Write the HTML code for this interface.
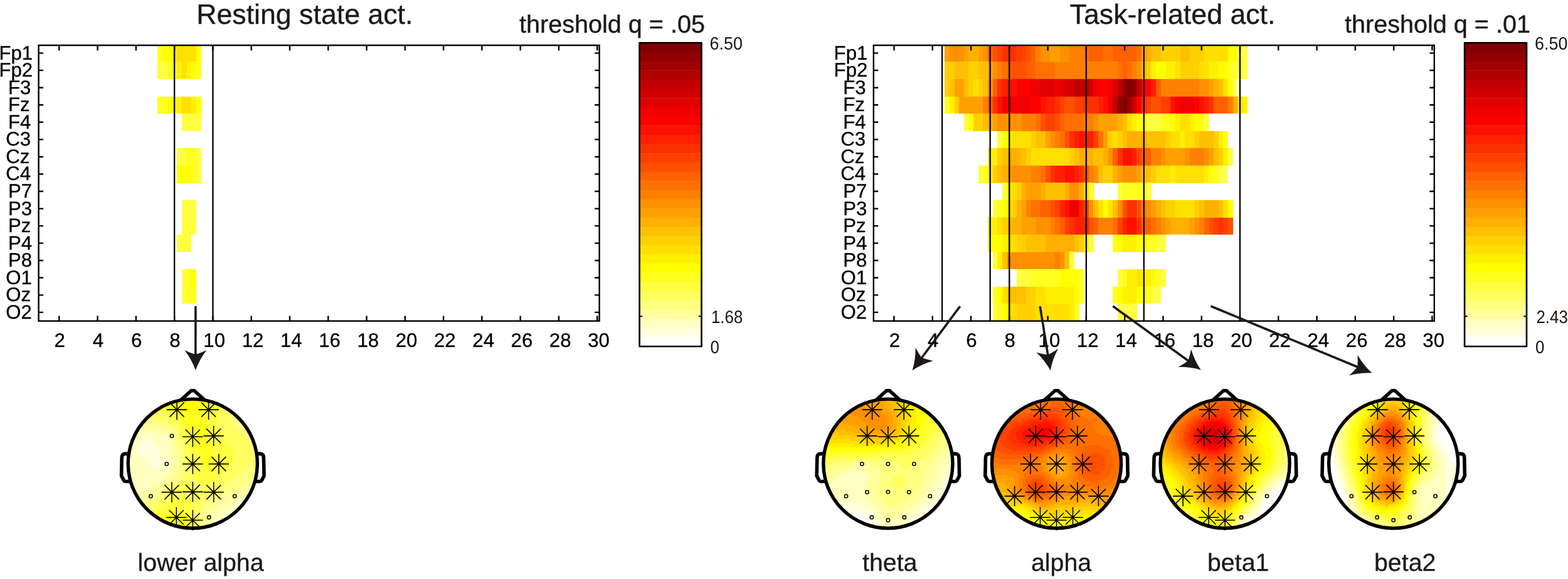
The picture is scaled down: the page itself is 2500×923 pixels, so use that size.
<!DOCTYPE html>
<html lang="en"><head><meta charset="utf-8"><title>Resting state and task-related activity</title>
<style>html,body{margin:0;padding:0;background:#fff}body{width:2500px;height:923px;overflow:hidden}svg{display:block;font-family:"Liberation Sans",sans-serif;text-rendering:geometricPrecision}</style></head><body>
<svg width="2500" height="923" viewBox="0 0 2500 923">
<rect width="2500" height="923" fill="#fff"/>
<g id="left-plot">
<g shape-rendering="crispEdges">
<path fill="#ffe000" d="M281.95 70.85h30.94v27.85h-30.94zM289.61 98.4h7.96v27.85h-7.96zM289.61 153.5h15.62v27.85h-15.62z"/>
<path fill="#fff000" d="M274.29 70.85h7.96v27.85h-7.96zM281.95 98.4h7.96v27.85h-7.96zM297.27 98.4h7.96v27.85h-7.96zM281.95 153.5h7.96v27.85h-7.96zM304.93 153.5h7.96v27.85h-7.96z"/>
<path fill="#ffff00" d="M258.97 70.85h15.62v27.85h-15.62zM312.59 70.85h7.96v27.85h-7.96zM304.93 98.4h7.96v27.85h-7.96zM266.63 153.5h15.62v27.85h-15.62zM312.59 153.5h7.96v27.85h-7.96zM281.95 263.7h23.28v27.85h-23.28zM304.93 429h7.96v27.85h-7.96z"/>
<path fill="#ffff20" d="M251.31 70.85h7.96v27.85h-7.96zM266.63 98.4h15.62v27.85h-15.62zM312.59 98.4h7.96v27.85h-7.96zM251.31 153.5h15.62v27.85h-15.62zM297.27 236.15h15.62v27.85h-15.62zM304.93 263.7h7.96v27.85h-7.96zM297.27 429h7.96v27.85h-7.96zM297.27 456.55h15.62v27.85h-15.62z"/>
<path fill="#ffff40" d="M251.31 98.4h15.62v27.85h-15.62zM289.61 181.05h30.94v27.85h-30.94zM281.95 236.15h15.62v27.85h-15.62zM312.59 236.15h7.96v27.85h-7.96zM312.59 263.7h7.96v27.85h-7.96zM289.61 318.8h23.28v27.85h-23.28zM289.61 346.35h23.28v27.85h-23.28zM281.95 373.9h23.28v27.85h-23.28zM289.61 429h7.96v27.85h-7.96zM289.61 456.55h7.96v27.85h-7.96z"/>
</g>
<path d="M278.12 72.2V511.7M339.4 72.2V511.7" stroke="#000" stroke-width="2.3" fill="none"/>
<path d="M94.28 511.7v-8.3M94.28 72.2v8.3M155.56 511.7v-8.3M155.56 72.2v8.3M216.84 511.7v-8.3M216.84 72.2v8.3M278.12 511.7v-8.3M278.12 72.2v8.3M339.4 511.7v-8.3M339.4 72.2v8.3M400.68 511.7v-8.3M400.68 72.2v8.3M461.96 511.7v-8.3M461.96 72.2v8.3M523.24 511.7v-8.3M523.24 72.2v8.3M584.52 511.7v-8.3M584.52 72.2v8.3M645.8 511.7v-8.3M645.8 72.2v8.3M707.08 511.7v-8.3M707.08 72.2v8.3M768.36 511.7v-8.3M768.36 72.2v8.3M829.64 511.7v-8.3M829.64 72.2v8.3M890.92 511.7v-8.3M890.92 72.2v8.3M952.2 511.7v-8.3M952.2 72.2v8.3M61.6 84.62h7.4M955.6 84.62h-7.4M61.6 112.17h7.4M955.6 112.17h-7.4M61.6 139.72h7.4M955.6 139.72h-7.4M61.6 167.27h7.4M955.6 167.27h-7.4M61.6 194.82h7.4M955.6 194.82h-7.4M61.6 222.38h7.4M955.6 222.38h-7.4M61.6 249.93h7.4M955.6 249.93h-7.4M61.6 277.48h7.4M955.6 277.48h-7.4M61.6 305.02h7.4M955.6 305.02h-7.4M61.6 332.58h7.4M955.6 332.58h-7.4M61.6 360.12h7.4M955.6 360.12h-7.4M61.6 387.67h7.4M955.6 387.67h-7.4M61.6 415.23h7.4M955.6 415.23h-7.4M61.6 442.77h7.4M955.6 442.77h-7.4M61.6 470.33h7.4M955.6 470.33h-7.4M61.6 497.88h7.4M955.6 497.88h-7.4" stroke="#000" stroke-width="2.4" fill="none"/>
<rect x="61.6" y="72.2" width="894" height="439.5" fill="none" stroke="#000" stroke-width="2.4"/>
<g font-size="31.2" fill="#000" stroke="#000" stroke-width="0.3"><text x="-1.61" y="94.62">Fp1</text><text x="-1.61" y="122.17">Fp2</text><text x="12.94" y="149.72">F3</text><text x="12.94" y="177.27">Fz</text><text x="12.94" y="204.82">F4</text><text x="9.14" y="232.38">C3</text><text x="9.14" y="259.93">Cz</text><text x="9.14" y="287.48">C4</text><text x="13" y="315.02">P7</text><text x="13" y="342.58">P3</text><text x="13" y="370.12">Pz</text><text x="13" y="397.67">P4</text><text x="13" y="425.23">P8</text><text x="9.25" y="452.77">O1</text><text x="9.25" y="480.33">Oz</text><text x="9.25" y="507.88">O2</text></g>
<g font-size="31.2" text-anchor="middle" fill="#000" stroke="#000" stroke-width="0.3"><text x="95.18" y="553.4">2</text><text x="156.46" y="553.4">4</text><text x="217.74" y="553.4">6</text><text x="279.02" y="553.4">8</text><text x="341.7" y="553.4">10</text><text x="402.98" y="553.4">12</text><text x="464.26" y="553.4">14</text><text x="525.54" y="553.4">16</text><text x="586.82" y="553.4">18</text><text x="648.1" y="553.4">20</text><text x="709.38" y="553.4">22</text><text x="770.66" y="553.4">24</text><text x="831.94" y="553.4">26</text><text x="893.22" y="553.4">28</text><text x="954.5" y="553.4">30</text></g>
</g>
<g id="right-plot">
<g shape-rendering="crispEdges">
<path fill="#800000" d="M1796.99 125.95h7.96v27.85h-7.96zM1789.33 153.5h7.96v27.85h-7.96z"/>
<path fill="#900000" d="M1789.33 125.95h7.96v27.85h-7.96zM1804.65 125.95h7.96v27.85h-7.96zM1781.67 153.5h7.96v27.85h-7.96z"/>
<path fill="#a00000" d="M1796.99 153.5h7.96v27.85h-7.96z"/>
<path fill="#c00000" d="M1712.73 125.95h23.28v27.85h-23.28zM1781.67 125.95h7.96v27.85h-7.96zM1812.31 125.95h7.96v27.85h-7.96zM1774.01 153.5h7.96v27.85h-7.96z"/>
<path fill="#d00000" d="M1705.07 125.95h7.96v27.85h-7.96zM1735.71 125.95h7.96v27.85h-7.96zM1804.65 153.5h7.96v27.85h-7.96z"/>
<path fill="#e00000" d="M1659.11 125.95h23.28v27.85h-23.28zM1689.75 125.95h15.62v27.85h-15.62zM1774.01 125.95h7.96v27.85h-7.96z"/>
<path fill="#f00000" d="M1643.79 125.95h15.62v27.85h-15.62zM1682.09 125.95h7.96v27.85h-7.96zM1743.37 125.95h7.96v27.85h-7.96zM1766.35 125.95h7.96v27.85h-7.96zM1597.83 153.5h46.26v27.85h-46.26zM1766.35 153.5h7.96v27.85h-7.96zM1881.25 153.5h23.28v27.85h-23.28zM1705.07 318.8h15.62v27.85h-15.62z"/>
<path fill="#ff0000" d="M1620.81 125.95h23.28v27.85h-23.28zM1751.03 125.95h15.62v27.85h-15.62zM1819.97 125.95h15.62v27.85h-15.62zM1643.79 153.5h15.62v27.85h-15.62zM1812.31 153.5h7.96v27.85h-7.96zM1873.59 153.5h7.96v27.85h-7.96zM1904.23 153.5h7.96v27.85h-7.96z"/>
<path fill="#ff1000" d="M1605.49 125.95h15.62v27.85h-15.62zM1590.17 153.5h7.96v27.85h-7.96zM1659.11 153.5h7.96v27.85h-7.96zM1758.69 153.5h7.96v27.85h-7.96zM1865.93 153.5h7.96v27.85h-7.96zM1911.89 153.5h7.96v27.85h-7.96zM1720.39 208.6h7.96v27.85h-7.96zM1789.33 236.15h15.62v27.85h-15.62zM1697.41 263.7h15.62v27.85h-15.62zM1697.41 318.8h7.96v27.85h-7.96zM1796.99 346.35h15.62v27.85h-15.62z"/>
<path fill="#ff2000" d="M1597.83 125.95h7.96v27.85h-7.96zM1835.29 125.95h7.96v27.85h-7.96zM1666.77 153.5h15.62v27.85h-15.62zM1751.03 153.5h7.96v27.85h-7.96zM1919.55 153.5h7.96v27.85h-7.96zM1712.73 208.6h7.96v27.85h-7.96zM1728.05 208.6h15.62v27.85h-15.62zM1804.65 236.15h7.96v27.85h-7.96zM1682.09 263.7h15.62v27.85h-15.62zM1712.73 263.7h7.96v27.85h-7.96zM1689.75 318.8h7.96v27.85h-7.96zM1720.39 318.8h7.96v27.85h-7.96zM1712.73 346.35h23.28v27.85h-23.28zM1789.33 346.35h7.96v27.85h-7.96z"/>
<path fill="#ff3000" d="M1597.83 70.85h23.28v27.85h-23.28zM1590.17 125.95h7.96v27.85h-7.96zM1582.51 153.5h7.96v27.85h-7.96zM1682.09 153.5h7.96v27.85h-7.96zM1728.05 153.5h23.28v27.85h-23.28zM1819.97 153.5h7.96v27.85h-7.96zM1927.21 153.5h7.96v27.85h-7.96zM1705.07 208.6h7.96v27.85h-7.96zM1781.67 236.15h7.96v27.85h-7.96zM1674.43 263.7h7.96v27.85h-7.96zM1720.39 263.7h7.96v27.85h-7.96zM1796.99 318.8h15.62v27.85h-15.62zM1705.07 346.35h7.96v27.85h-7.96zM1812.31 346.35h7.96v27.85h-7.96zM1942.53 346.35h7.96v27.85h-7.96z"/>
<path fill="#ff4000" d="M1590.17 70.85h7.96v27.85h-7.96zM1620.81 70.85h15.62v27.85h-15.62zM1689.75 153.5h7.96v27.85h-7.96zM1712.73 153.5h15.62v27.85h-15.62zM1827.63 153.5h7.96v27.85h-7.96zM1850.61 153.5h15.62v27.85h-15.62zM1666.77 181.05h15.62v27.85h-15.62zM1743.37 208.6h7.96v27.85h-7.96zM1812.31 236.15h7.96v27.85h-7.96zM1682.09 318.8h7.96v27.85h-7.96zM1728.05 318.8h7.96v27.85h-7.96zM1697.41 346.35h7.96v27.85h-7.96zM1781.67 346.35h7.96v27.85h-7.96zM1934.87 346.35h7.96v27.85h-7.96zM1950.19 346.35h7.96v27.85h-7.96z"/>
<path fill="#ff5000" d="M1582.51 70.85h7.96v27.85h-7.96zM1636.13 70.85h7.96v27.85h-7.96zM1613.15 98.4h23.28v27.85h-23.28zM1697.41 153.5h15.62v27.85h-15.62zM1835.29 153.5h15.62v27.85h-15.62zM1659.11 181.05h7.96v27.85h-7.96zM1682.09 181.05h7.96v27.85h-7.96zM1697.41 208.6h7.96v27.85h-7.96zM1666.77 263.7h7.96v27.85h-7.96zM1728.05 263.7h7.96v27.85h-7.96zM1674.43 318.8h7.96v27.85h-7.96zM1789.33 318.8h7.96v27.85h-7.96zM1812.31 318.8h7.96v27.85h-7.96zM1735.71 346.35h7.96v27.85h-7.96zM1927.21 346.35h7.96v27.85h-7.96zM1957.85 346.35h7.96v27.85h-7.96z"/>
<path fill="#ff6000" d="M1574.85 70.85h7.96v27.85h-7.96zM1643.79 70.85h7.96v27.85h-7.96zM1735.71 70.85h23.28v27.85h-23.28zM1774.01 70.85h38.6v27.85h-38.6zM1605.49 98.4h7.96v27.85h-7.96zM1636.13 98.4h15.62v27.85h-15.62zM1789.33 98.4h7.96v27.85h-7.96zM1582.51 125.95h7.96v27.85h-7.96zM1842.95 125.95h7.96v27.85h-7.96zM1574.85 153.5h7.96v27.85h-7.96zM1934.87 153.5h23.28v27.85h-23.28zM1689.75 181.05h7.96v27.85h-7.96zM1774.01 236.15h7.96v27.85h-7.96zM1819.97 236.15h15.62v27.85h-15.62zM1659.11 318.8h15.62v27.85h-15.62zM1689.75 346.35h7.96v27.85h-7.96zM1743.37 346.35h7.96v27.85h-7.96zM1819.97 346.35h15.62v27.85h-15.62zM1919.55 346.35h7.96v27.85h-7.96z"/>
<path fill="#ff7000" d="M1728.05 70.85h7.96v27.85h-7.96zM1758.69 70.85h15.62v27.85h-15.62zM1812.31 70.85h7.96v27.85h-7.96zM1597.83 98.4h7.96v27.85h-7.96zM1651.45 98.4h30.94v27.85h-30.94zM1781.67 98.4h7.96v27.85h-7.96zM1796.99 98.4h7.96v27.85h-7.96zM1651.45 181.05h7.96v27.85h-7.96zM1697.41 181.05h30.94v27.85h-30.94zM1689.75 208.6h7.96v27.85h-7.96zM1751.03 208.6h7.96v27.85h-7.96zM1659.11 263.7h7.96v27.85h-7.96zM1643.79 318.8h15.62v27.85h-15.62zM1682.09 346.35h7.96v27.85h-7.96zM1774.01 346.35h7.96v27.85h-7.96zM1835.29 346.35h7.96v27.85h-7.96z"/>
<path fill="#ff8000" d="M1651.45 70.85h7.96v27.85h-7.96zM1705.07 70.85h23.28v27.85h-23.28zM1590.17 98.4h7.96v27.85h-7.96zM1682.09 98.4h99.88v27.85h-99.88zM1804.65 98.4h7.96v27.85h-7.96zM1850.61 125.95h61.58v27.85h-61.58zM1567.19 153.5h7.96v27.85h-7.96zM1957.85 153.5h7.96v27.85h-7.96zM1628.47 181.05h23.28v27.85h-23.28zM1728.05 181.05h15.62v27.85h-15.62zM1682.09 208.6h7.96v27.85h-7.96zM1835.29 236.15h15.62v27.85h-15.62zM1896.57 236.15h23.28v27.85h-23.28zM1643.79 263.7h15.62v27.85h-15.62zM1735.71 263.7h7.96v27.85h-7.96zM1636.13 318.8h7.96v27.85h-7.96zM1819.97 318.8h7.96v27.85h-7.96zM1674.43 346.35h7.96v27.85h-7.96zM1751.03 346.35h23.28v27.85h-23.28zM1842.95 346.35h7.96v27.85h-7.96zM1911.89 346.35h7.96v27.85h-7.96zM1682.09 401.45h7.96v27.85h-7.96z"/>
<path fill="#ff9000" d="M1513.57 70.85h23.28v27.85h-23.28zM1567.19 70.85h7.96v27.85h-7.96zM1659.11 70.85h15.62v27.85h-15.62zM1689.75 70.85h15.62v27.85h-15.62zM1582.51 98.4h7.96v27.85h-7.96zM1812.31 98.4h7.96v27.85h-7.96zM1574.85 125.95h7.96v27.85h-7.96zM1911.89 125.95h15.62v27.85h-15.62zM1590.17 181.05h38.6v27.85h-38.6zM1743.37 181.05h7.96v27.85h-7.96zM1674.43 208.6h7.96v27.85h-7.96zM1766.35 236.15h7.96v27.85h-7.96zM1850.61 236.15h7.96v27.85h-7.96zM1888.91 236.15h7.96v27.85h-7.96zM1919.55 236.15h7.96v27.85h-7.96zM1613.15 263.7h30.94v27.85h-30.94zM1743.37 263.7h7.96v27.85h-7.96zM1789.33 263.7h23.28v27.85h-23.28zM1705.07 291.25h15.62v27.85h-15.62zM1735.71 318.8h7.96v27.85h-7.96zM1781.67 318.8h7.96v27.85h-7.96zM1827.63 318.8h7.96v27.85h-7.96zM1651.45 346.35h23.28v27.85h-23.28zM1850.61 346.35h7.96v27.85h-7.96zM1904.23 346.35h7.96v27.85h-7.96zM1605.49 401.45h76.9v27.85h-76.9zM1689.75 401.45h7.96v27.85h-7.96z"/>
<path fill="#ffa000" d="M1505.91 70.85h7.96v27.85h-7.96zM1536.55 70.85h7.96v27.85h-7.96zM1559.53 70.85h7.96v27.85h-7.96zM1674.43 70.85h15.62v27.85h-15.62zM1819.97 70.85h7.96v27.85h-7.96zM1574.85 98.4h7.96v27.85h-7.96zM1521.23 125.95h15.62v27.85h-15.62zM1927.21 125.95h7.96v27.85h-7.96zM1528.89 153.5h38.6v27.85h-38.6zM1582.51 181.05h7.96v27.85h-7.96zM1751.03 181.05h30.94v27.85h-30.94zM1666.77 208.6h7.96v27.85h-7.96zM1758.69 208.6h7.96v27.85h-7.96zM1858.27 236.15h30.94v27.85h-30.94zM1927.21 236.15h7.96v27.85h-7.96zM1605.49 263.7h7.96v27.85h-7.96zM1781.67 263.7h7.96v27.85h-7.96zM1812.31 263.7h7.96v27.85h-7.96zM1636.13 291.25h23.28v27.85h-23.28zM1628.47 318.8h7.96v27.85h-7.96zM1835.29 318.8h7.96v27.85h-7.96zM1628.47 346.35h23.28v27.85h-23.28zM1858.27 346.35h7.96v27.85h-7.96zM1896.57 346.35h7.96v27.85h-7.96z"/>
<path fill="#ffb000" d="M1544.21 70.85h15.62v27.85h-15.62zM1827.63 70.85h7.96v27.85h-7.96zM1934.87 125.95h7.96v27.85h-7.96zM1965.51 153.5h7.96v27.85h-7.96zM1574.85 181.05h7.96v27.85h-7.96zM1781.67 181.05h7.96v27.85h-7.96zM1796.99 208.6h30.94v27.85h-30.94zM1605.49 236.15h23.28v27.85h-23.28zM1720.39 236.15h23.28v27.85h-23.28zM1758.69 236.15h7.96v27.85h-7.96zM1597.83 263.7h7.96v27.85h-7.96zM1774.01 263.7h7.96v27.85h-7.96zM1628.47 291.25h7.96v27.85h-7.96zM1659.11 291.25h7.96v27.85h-7.96zM1697.41 291.25h7.96v27.85h-7.96zM1720.39 291.25h7.96v27.85h-7.96zM1620.81 318.8h7.96v27.85h-7.96zM1842.95 318.8h7.96v27.85h-7.96zM1919.55 318.8h23.28v27.85h-23.28zM1613.15 346.35h15.62v27.85h-15.62zM1865.93 346.35h30.94v27.85h-30.94zM1666.77 373.9h46.26v27.85h-46.26z"/>
<path fill="#ffc000" d="M1835.29 70.85h15.62v27.85h-15.62zM1881.25 70.85h15.62v27.85h-15.62zM1521.23 98.4h23.28v27.85h-23.28zM1559.53 98.4h15.62v27.85h-15.62zM1819.97 98.4h7.96v27.85h-7.96zM1513.57 125.95h7.96v27.85h-7.96zM1536.55 125.95h7.96v27.85h-7.96zM1567.19 125.95h7.96v27.85h-7.96zM1942.53 125.95h7.96v27.85h-7.96zM1567.19 181.05h7.96v27.85h-7.96zM1789.33 181.05h7.96v27.85h-7.96zM1651.45 208.6h15.62v27.85h-15.62zM1789.33 208.6h7.96v27.85h-7.96zM1827.63 208.6h30.94v27.85h-30.94zM1911.89 208.6h23.28v27.85h-23.28zM1597.83 236.15h7.96v27.85h-7.96zM1628.47 236.15h7.96v27.85h-7.96zM1712.73 236.15h7.96v27.85h-7.96zM1743.37 236.15h15.62v27.85h-15.62zM1934.87 236.15h7.96v27.85h-7.96zM1590.17 263.7h7.96v27.85h-7.96zM1751.03 263.7h7.96v27.85h-7.96zM1819.97 263.7h15.62v27.85h-15.62zM1666.77 291.25h30.94v27.85h-30.94zM1743.37 318.8h7.96v27.85h-7.96zM1774.01 318.8h7.96v27.85h-7.96zM1850.61 318.8h7.96v27.85h-7.96zM1911.89 318.8h7.96v27.85h-7.96zM1942.53 318.8h7.96v27.85h-7.96zM1605.49 346.35h7.96v27.85h-7.96zM1636.13 373.9h30.94v27.85h-30.94zM1712.73 373.9h7.96v27.85h-7.96zM1597.83 401.45h7.96v27.85h-7.96zM1697.41 401.45h7.96v27.85h-7.96zM1605.49 456.55h30.94v27.85h-30.94z"/>
<path fill="#ffd000" d="M1850.61 70.85h30.94v27.85h-30.94zM1896.57 70.85h23.28v27.85h-23.28zM1505.91 98.4h15.62v27.85h-15.62zM1544.21 98.4h15.62v27.85h-15.62zM1827.63 98.4h7.96v27.85h-7.96zM1881.25 98.4h30.94v27.85h-30.94zM1505.91 125.95h7.96v27.85h-7.96zM1544.21 125.95h7.96v27.85h-7.96zM1559.53 125.95h7.96v27.85h-7.96zM1521.23 153.5h7.96v27.85h-7.96zM1551.87 181.05h15.62v27.85h-15.62zM1643.79 208.6h7.96v27.85h-7.96zM1766.35 208.6h7.96v27.85h-7.96zM1781.67 208.6h7.96v27.85h-7.96zM1858.27 208.6h7.96v27.85h-7.96zM1904.23 208.6h7.96v27.85h-7.96zM1934.87 208.6h7.96v27.85h-7.96zM1590.17 236.15h7.96v27.85h-7.96zM1636.13 236.15h7.96v27.85h-7.96zM1705.07 236.15h7.96v27.85h-7.96zM1942.53 236.15h7.96v27.85h-7.96zM1582.51 263.7h7.96v27.85h-7.96zM1758.69 263.7h15.62v27.85h-15.62zM1835.29 263.7h7.96v27.85h-7.96zM1620.81 291.25h7.96v27.85h-7.96zM1613.15 318.8h7.96v27.85h-7.96zM1858.27 318.8h15.62v27.85h-15.62zM1904.23 318.8h7.96v27.85h-7.96zM1597.83 346.35h7.96v27.85h-7.96zM1620.81 373.9h15.62v27.85h-15.62zM1720.39 373.9h7.96v27.85h-7.96zM1636.13 456.55h15.62v27.85h-15.62zM1620.81 484.1h30.94v27.85h-30.94z"/>
<path fill="#ffe000" d="M1919.55 70.85h38.6v27.85h-38.6zM1873.59 98.4h7.96v27.85h-7.96zM1911.89 98.4h15.62v27.85h-15.62zM1551.87 125.95h7.96v27.85h-7.96zM1950.19 125.95h7.96v27.85h-7.96zM1973.17 153.5h7.96v27.85h-7.96zM1796.99 181.05h7.96v27.85h-7.96zM1881.25 181.05h15.62v27.85h-15.62zM1613.15 208.6h30.94v27.85h-30.94zM1774.01 208.6h7.96v27.85h-7.96zM1865.93 208.6h15.62v27.85h-15.62zM1888.91 208.6h15.62v27.85h-15.62zM1643.79 236.15h61.58v27.85h-61.58zM1842.95 263.7h23.28v27.85h-23.28zM1873.59 263.7h46.26v27.85h-46.26zM1613.15 291.25h7.96v27.85h-7.96zM1728.05 291.25h7.96v27.85h-7.96zM1605.49 318.8h7.96v27.85h-7.96zM1751.03 318.8h7.96v27.85h-7.96zM1766.35 318.8h7.96v27.85h-7.96zM1873.59 318.8h30.94v27.85h-30.94zM1950.19 318.8h7.96v27.85h-7.96zM1590.17 346.35h7.96v27.85h-7.96zM1605.49 373.9h15.62v27.85h-15.62zM1812.31 429h7.96v27.85h-7.96zM1597.83 456.55h7.96v27.85h-7.96zM1651.45 456.55h15.62v27.85h-15.62zM1605.49 484.1h15.62v27.85h-15.62zM1651.45 484.1h53.92v27.85h-53.92z"/>
<path fill="#fff000" d="M1835.29 98.4h7.96v27.85h-7.96zM1858.27 98.4h15.62v27.85h-15.62zM1927.21 98.4h15.62v27.85h-15.62zM1513.57 153.5h7.96v27.85h-7.96zM1980.83 153.5h7.96v27.85h-7.96zM1804.65 181.05h7.96v27.85h-7.96zM1873.59 181.05h7.96v27.85h-7.96zM1896.57 181.05h7.96v27.85h-7.96zM1605.49 208.6h7.96v27.85h-7.96zM1881.25 208.6h7.96v27.85h-7.96zM1942.53 208.6h7.96v27.85h-7.96zM1574.85 236.15h15.62v27.85h-15.62zM1950.19 236.15h7.96v27.85h-7.96zM1574.85 263.7h7.96v27.85h-7.96zM1865.93 263.7h7.96v27.85h-7.96zM1919.55 263.7h7.96v27.85h-7.96zM1605.49 291.25h7.96v27.85h-7.96zM1574.85 346.35h15.62v27.85h-15.62zM1597.83 373.9h7.96v27.85h-7.96zM1728.05 373.9h7.96v27.85h-7.96zM1789.33 373.9h23.28v27.85h-23.28zM1590.17 401.45h7.96v27.85h-7.96zM1796.99 429h15.62v27.85h-15.62zM1819.97 429h15.62v27.85h-15.62zM1666.77 456.55h46.26v27.85h-46.26zM1789.33 456.55h23.28v27.85h-23.28zM1705.07 484.1h7.96v27.85h-7.96z"/>
<path fill="#ffff00" d="M1957.85 70.85h15.62v27.85h-15.62zM1842.95 98.4h15.62v27.85h-15.62zM1942.53 98.4h15.62v27.85h-15.62zM1957.85 125.95h7.96v27.85h-7.96zM1544.21 181.05h7.96v27.85h-7.96zM1812.31 181.05h7.96v27.85h-7.96zM1865.93 181.05h7.96v27.85h-7.96zM1904.23 181.05h15.62v27.85h-15.62zM1597.83 208.6h7.96v27.85h-7.96zM1927.21 263.7h7.96v27.85h-7.96zM1597.83 318.8h7.96v27.85h-7.96zM1758.69 318.8h7.96v27.85h-7.96zM1957.85 318.8h7.96v27.85h-7.96zM1574.85 373.9h23.28v27.85h-23.28zM1781.67 373.9h7.96v27.85h-7.96zM1812.31 373.9h15.62v27.85h-15.62zM1689.75 429h30.94v27.85h-30.94zM1835.29 429h7.96v27.85h-7.96zM1590.17 456.55h7.96v27.85h-7.96zM1712.73 456.55h7.96v27.85h-7.96zM1781.67 456.55h7.96v27.85h-7.96zM1812.31 456.55h15.62v27.85h-15.62zM1597.83 484.1h7.96v27.85h-7.96z"/>
<path fill="#ffff20" d="M1957.85 98.4h7.96v27.85h-7.96zM1505.91 153.5h7.96v27.85h-7.96zM1819.97 181.05h7.96v27.85h-7.96zM1850.61 181.05h15.62v27.85h-15.62zM1950.19 208.6h7.96v27.85h-7.96zM1567.19 263.7h7.96v27.85h-7.96zM1934.87 263.7h7.96v27.85h-7.96zM1735.71 291.25h7.96v27.85h-7.96zM1789.33 291.25h38.6v27.85h-38.6zM1590.17 318.8h7.96v27.85h-7.96zM1774.01 373.9h7.96v27.85h-7.96zM1827.63 373.9h15.62v27.85h-15.62zM1643.79 429h46.26v27.85h-46.26zM1720.39 429h7.96v27.85h-7.96zM1789.33 429h7.96v27.85h-7.96zM1842.95 429h7.96v27.85h-7.96zM1582.51 456.55h7.96v27.85h-7.96zM1720.39 456.55h7.96v27.85h-7.96zM1774.01 456.55h7.96v27.85h-7.96zM1827.63 456.55h7.96v27.85h-7.96zM1590.17 484.1h7.96v27.85h-7.96zM1712.73 484.1h7.96v27.85h-7.96z"/>
<path fill="#ffff40" d="M1973.17 70.85h15.62v27.85h-15.62zM1965.51 98.4h23.28v27.85h-23.28zM1536.55 181.05h7.96v27.85h-7.96zM1827.63 181.05h23.28v27.85h-23.28zM1919.55 181.05h7.96v27.85h-7.96zM1590.17 208.6h7.96v27.85h-7.96zM1957.85 236.15h7.96v27.85h-7.96zM1559.53 263.7h7.96v27.85h-7.96zM1942.53 263.7h7.96v27.85h-7.96zM1597.83 291.25h7.96v27.85h-7.96zM1781.67 291.25h7.96v27.85h-7.96zM1827.63 291.25h7.96v27.85h-7.96zM1582.51 318.8h7.96v27.85h-7.96zM1735.71 373.9h7.96v27.85h-7.96zM1842.95 373.9h15.62v27.85h-15.62zM1582.51 401.45h7.96v27.85h-7.96zM1705.07 401.45h7.96v27.85h-7.96zM1620.81 429h23.28v27.85h-23.28zM1781.67 429h7.96v27.85h-7.96zM1850.61 429h7.96v27.85h-7.96zM1835.29 456.55h15.62v27.85h-15.62zM1582.51 484.1h7.96v27.85h-7.96zM1781.67 484.1h30.94v27.85h-30.94z"/>
<path fill="#ffff60" d="M1965.51 125.95h7.96v27.85h-7.96zM1950.19 263.7h7.96v27.85h-7.96z"/>
</g>
<path d="M1502.08 72.2V511.7M1578.68 72.2V511.7M1609.32 72.2V511.7M1731.88 72.2V511.7M1823.8 72.2V511.7M1977 72.2V511.7" stroke="#000" stroke-width="2.3" fill="none"/>
<path d="M1425.48 511.7v-8.3M1425.48 72.2v8.3M1486.76 511.7v-8.3M1486.76 72.2v8.3M1548.04 511.7v-8.3M1548.04 72.2v8.3M1609.32 511.7v-8.3M1609.32 72.2v8.3M1670.6 511.7v-8.3M1670.6 72.2v8.3M1731.88 511.7v-8.3M1731.88 72.2v8.3M1793.16 511.7v-8.3M1793.16 72.2v8.3M1854.44 511.7v-8.3M1854.44 72.2v8.3M1915.72 511.7v-8.3M1915.72 72.2v8.3M1977 511.7v-8.3M1977 72.2v8.3M2038.28 511.7v-8.3M2038.28 72.2v8.3M2099.56 511.7v-8.3M2099.56 72.2v8.3M2160.84 511.7v-8.3M2160.84 72.2v8.3M2222.12 511.7v-8.3M2222.12 72.2v8.3M2283.4 511.7v-8.3M2283.4 72.2v8.3M1392.8 84.62h7.4M2286.8 84.62h-7.4M1392.8 112.17h7.4M2286.8 112.17h-7.4M1392.8 139.72h7.4M2286.8 139.72h-7.4M1392.8 167.27h7.4M2286.8 167.27h-7.4M1392.8 194.82h7.4M2286.8 194.82h-7.4M1392.8 222.38h7.4M2286.8 222.38h-7.4M1392.8 249.93h7.4M2286.8 249.93h-7.4M1392.8 277.48h7.4M2286.8 277.48h-7.4M1392.8 305.02h7.4M2286.8 305.02h-7.4M1392.8 332.58h7.4M2286.8 332.58h-7.4M1392.8 360.12h7.4M2286.8 360.12h-7.4M1392.8 387.67h7.4M2286.8 387.67h-7.4M1392.8 415.23h7.4M2286.8 415.23h-7.4M1392.8 442.77h7.4M2286.8 442.77h-7.4M1392.8 470.33h7.4M2286.8 470.33h-7.4M1392.8 497.88h7.4M2286.8 497.88h-7.4" stroke="#000" stroke-width="2.4" fill="none"/>
<rect x="1392.8" y="72.2" width="894" height="439.5" fill="none" stroke="#000" stroke-width="2.4"/>
<g font-size="31.2" fill="#000" stroke="#000" stroke-width="0.3"><text x="1329.59" y="94.62">Fp1</text><text x="1329.59" y="122.17">Fp2</text><text x="1344.14" y="149.72">F3</text><text x="1344.14" y="177.27">Fz</text><text x="1344.14" y="204.82">F4</text><text x="1340.34" y="232.38">C3</text><text x="1340.34" y="259.93">Cz</text><text x="1340.34" y="287.48">C4</text><text x="1344.2" y="315.02">P7</text><text x="1344.2" y="342.58">P3</text><text x="1344.2" y="370.12">Pz</text><text x="1344.2" y="397.67">P4</text><text x="1344.2" y="425.23">P8</text><text x="1340.45" y="452.77">O1</text><text x="1340.45" y="480.33">Oz</text><text x="1340.45" y="507.88">O2</text></g>
<g font-size="31.2" text-anchor="middle" fill="#000" stroke="#000" stroke-width="0.3"><text x="1426.38" y="553.4">2</text><text x="1487.66" y="553.4">4</text><text x="1548.94" y="553.4">6</text><text x="1610.22" y="553.4">8</text><text x="1672.9" y="553.4">10</text><text x="1734.18" y="553.4">12</text><text x="1795.46" y="553.4">14</text><text x="1856.74" y="553.4">16</text><text x="1918.02" y="553.4">18</text><text x="1979.3" y="553.4">20</text><text x="2040.58" y="553.4">22</text><text x="2101.86" y="553.4">24</text><text x="2163.14" y="553.4">26</text><text x="2224.42" y="553.4">28</text><text x="2285.7" y="553.4">30</text></g>
</g>
<g id="colorbars">
<rect x="1019.6" y="68.3" width="98.9" height="15.06" fill="#800000"/>
<rect x="1019.6" y="82.96" width="98.9" height="15.06" fill="#900000"/>
<rect x="1019.6" y="97.63" width="98.9" height="15.06" fill="#a00000"/>
<rect x="1019.6" y="112.29" width="98.9" height="15.06" fill="#b00000"/>
<rect x="1019.6" y="126.95" width="98.9" height="15.06" fill="#c00000"/>
<rect x="1019.6" y="141.62" width="98.9" height="15.06" fill="#d00000"/>
<rect x="1019.6" y="156.28" width="98.9" height="15.06" fill="#e00000"/>
<rect x="1019.6" y="170.95" width="98.9" height="15.06" fill="#f00000"/>
<rect x="1019.6" y="185.61" width="98.9" height="15.06" fill="#ff0000"/>
<rect x="1019.6" y="200.27" width="98.9" height="15.06" fill="#ff1000"/>
<rect x="1019.6" y="214.94" width="98.9" height="15.06" fill="#ff2000"/>
<rect x="1019.6" y="229.6" width="98.9" height="15.06" fill="#ff3000"/>
<rect x="1019.6" y="244.26" width="98.9" height="15.06" fill="#ff4000"/>
<rect x="1019.6" y="258.93" width="98.9" height="15.06" fill="#ff5000"/>
<rect x="1019.6" y="273.59" width="98.9" height="15.06" fill="#ff6000"/>
<rect x="1019.6" y="288.25" width="98.9" height="15.06" fill="#ff7000"/>
<rect x="1019.6" y="302.92" width="98.9" height="15.06" fill="#ff8000"/>
<rect x="1019.6" y="317.58" width="98.9" height="15.06" fill="#ff9000"/>
<rect x="1019.6" y="332.25" width="98.9" height="15.06" fill="#ffa000"/>
<rect x="1019.6" y="346.91" width="98.9" height="15.06" fill="#ffb000"/>
<rect x="1019.6" y="361.57" width="98.9" height="15.06" fill="#ffc000"/>
<rect x="1019.6" y="376.24" width="98.9" height="15.06" fill="#ffd000"/>
<rect x="1019.6" y="390.9" width="98.9" height="15.06" fill="#ffe000"/>
<rect x="1019.6" y="405.56" width="98.9" height="15.06" fill="#fff000"/>
<rect x="1019.6" y="420.23" width="98.9" height="15.06" fill="#ffff00"/>
<rect x="1019.6" y="434.89" width="98.9" height="15.06" fill="#ffff20"/>
<rect x="1019.6" y="449.55" width="98.9" height="15.06" fill="#ffff40"/>
<rect x="1019.6" y="464.22" width="98.9" height="15.06" fill="#ffff60"/>
<rect x="1019.6" y="478.88" width="98.9" height="15.06" fill="#ffff80"/>
<rect x="1019.6" y="493.55" width="98.9" height="15.06" fill="#ffffa0"/>
<rect x="1019.6" y="508.21" width="98.9" height="15.06" fill="#ffffc0"/>
<rect x="1019.6" y="522.87" width="98.9" height="15.06" fill="#ffffe0"/>
<rect x="1019.6" y="537.54" width="98.9" height="15.06" fill="#ffffff"/>
<rect x="1019.6" y="68.3" width="98.9" height="483.9" fill="none" stroke="#000" stroke-width="2.6" stroke-linejoin="round"/>
<path d="M1019.6 504.2h4.6M1118.5 504.2h-4.6" stroke="#000" stroke-width="2" fill="none"/>
<g font-size="28.6" fill="#1a1410"><text x="1131.6" y="79.2" textLength="52.3" lengthAdjust="spacingAndGlyphs">6.50</text><text x="1134" y="515.2" textLength="50.3" lengthAdjust="spacingAndGlyphs">1.68</text><text x="1132.6" y="563" textLength="14.4" lengthAdjust="spacingAndGlyphs">0</text></g>
<rect x="2335.1" y="68.3" width="98.9" height="15.06" fill="#800000"/>
<rect x="2335.1" y="82.96" width="98.9" height="15.06" fill="#900000"/>
<rect x="2335.1" y="97.63" width="98.9" height="15.06" fill="#a00000"/>
<rect x="2335.1" y="112.29" width="98.9" height="15.06" fill="#b00000"/>
<rect x="2335.1" y="126.95" width="98.9" height="15.06" fill="#c00000"/>
<rect x="2335.1" y="141.62" width="98.9" height="15.06" fill="#d00000"/>
<rect x="2335.1" y="156.28" width="98.9" height="15.06" fill="#e00000"/>
<rect x="2335.1" y="170.95" width="98.9" height="15.06" fill="#f00000"/>
<rect x="2335.1" y="185.61" width="98.9" height="15.06" fill="#ff0000"/>
<rect x="2335.1" y="200.27" width="98.9" height="15.06" fill="#ff1000"/>
<rect x="2335.1" y="214.94" width="98.9" height="15.06" fill="#ff2000"/>
<rect x="2335.1" y="229.6" width="98.9" height="15.06" fill="#ff3000"/>
<rect x="2335.1" y="244.26" width="98.9" height="15.06" fill="#ff4000"/>
<rect x="2335.1" y="258.93" width="98.9" height="15.06" fill="#ff5000"/>
<rect x="2335.1" y="273.59" width="98.9" height="15.06" fill="#ff6000"/>
<rect x="2335.1" y="288.25" width="98.9" height="15.06" fill="#ff7000"/>
<rect x="2335.1" y="302.92" width="98.9" height="15.06" fill="#ff8000"/>
<rect x="2335.1" y="317.58" width="98.9" height="15.06" fill="#ff9000"/>
<rect x="2335.1" y="332.25" width="98.9" height="15.06" fill="#ffa000"/>
<rect x="2335.1" y="346.91" width="98.9" height="15.06" fill="#ffb000"/>
<rect x="2335.1" y="361.57" width="98.9" height="15.06" fill="#ffc000"/>
<rect x="2335.1" y="376.24" width="98.9" height="15.06" fill="#ffd000"/>
<rect x="2335.1" y="390.9" width="98.9" height="15.06" fill="#ffe000"/>
<rect x="2335.1" y="405.56" width="98.9" height="15.06" fill="#fff000"/>
<rect x="2335.1" y="420.23" width="98.9" height="15.06" fill="#ffff00"/>
<rect x="2335.1" y="434.89" width="98.9" height="15.06" fill="#ffff20"/>
<rect x="2335.1" y="449.55" width="98.9" height="15.06" fill="#ffff40"/>
<rect x="2335.1" y="464.22" width="98.9" height="15.06" fill="#ffff60"/>
<rect x="2335.1" y="478.88" width="98.9" height="15.06" fill="#ffff80"/>
<rect x="2335.1" y="493.55" width="98.9" height="15.06" fill="#ffffa0"/>
<rect x="2335.1" y="508.21" width="98.9" height="15.06" fill="#ffffc0"/>
<rect x="2335.1" y="522.87" width="98.9" height="15.06" fill="#ffffe0"/>
<rect x="2335.1" y="537.54" width="98.9" height="15.06" fill="#ffffff"/>
<rect x="2335.1" y="68.3" width="98.9" height="483.9" fill="none" stroke="#000" stroke-width="2.6" stroke-linejoin="round"/>
<path d="M2335.1 504.2h4.6M2434 504.2h-4.6" stroke="#000" stroke-width="2" fill="none"/>
<g font-size="28.6" fill="#1a1410"><text x="2447.1" y="79.2" textLength="52.3" lengthAdjust="spacingAndGlyphs">6.50</text><text x="2449.5" y="515.2" textLength="50.3" lengthAdjust="spacingAndGlyphs">2.43</text><text x="2448.1" y="563" textLength="14.4" lengthAdjust="spacingAndGlyphs">0</text></g>
</g>
<g id="titles" fill="#1c181c" stroke="#1c181c" stroke-width="0.35">
<text x="313.2" y="38.4" font-size="44.7">Resting state act.</text>
<text x="1705.6" y="38.4" font-size="44.7">Task-related act.</text>
<text x="828" y="51.5" font-size="39.6">threshold q = .05</text>
<text x="2144" y="51.5" font-size="39.6">threshold q = .01</text>
</g>
<g id="heads">
<clipPath id="cloweralpha"><ellipse cx="0" cy="-0.5" rx="103.1" ry="103"/></clipPath>
<g transform="translate(307.3 739.6)">
<path d="M-18.8 -102L-2.4 -116.9H2.4L18.8 -102" fill="#fff" stroke="#000" stroke-width="5.5" stroke-linejoin="miter"/>
<path d="M-100 -16.2H-107C-111 -16.2 -113 -14.5 -113.1 -9.5L-113.7 19L-110 26Q-108.8 28 -106 27.9L-100 27.9" fill="#fff" stroke="#000" stroke-width="5.6" stroke-linejoin="round"/>
<path d="M100 -16.2H107C111 -16.2 113 -14.5 113.1 -9.5L113.7 19L110 26Q108.8 28 106 27.9L100 27.9" fill="#fff" stroke="#000" stroke-width="5.6" stroke-linejoin="round"/>
<ellipse cx="0" cy="-0.5" rx="103.1" ry="103" fill="#fff"/>
<g clip-path="url(#cloweralpha)" shape-rendering="crispEdges">
<path fill="#ffff00" d="M-36.11 -105.2h50.49v3.39h-50.49zM-29.83 -102.06h44.21v3.39h-44.21zM-26.69 -98.92h41.07v3.39h-41.07zM-23.55 -95.78h34.79v3.39h-34.79zM-20.41 -92.64h31.65v3.39h-31.65zM-17.27 -89.5h25.37v3.39h-25.37zM-10.99 -86.36h19.09v3.39h-19.09zM-7.85 -83.22h12.81v3.39h-12.81z"/>
<path fill="#ffff20" d="M14.13 -105.2h19.09v3.39h-19.09zM-58.1 -102.06h28.51v3.39h-28.51zM14.13 -102.06h15.95v3.39h-15.95zM-51.81 -98.92h25.37v3.39h-25.37zM14.13 -98.92h15.95v3.39h-15.95zM-48.67 -95.78h25.37v3.39h-25.37zM10.99 -95.78h15.95v3.39h-15.95zM-42.39 -92.64h22.23v3.39h-22.23zM10.99 -92.64h15.95v3.39h-15.95zM-39.25 -89.5h22.23v3.39h-22.23zM7.85 -89.5h19.09v3.39h-19.09zM-32.97 -86.36h22.23v3.39h-22.23zM7.85 -86.36h19.09v3.39h-19.09zM-29.83 -83.22h22.23v3.39h-22.23zM4.71 -83.22h19.09v3.39h-19.09zM-26.69 -80.08h50.49v3.39h-50.49zM-20.41 -76.94h44.21v3.39h-44.21zM-17.27 -73.8h41.07v3.39h-41.07zM-17.27 -70.66h41.07v3.39h-41.07zM-14.13 -67.52h37.93v3.39h-37.93zM-10.99 -64.38h34.79v3.39h-34.79zM-10.99 -61.24h34.79v3.39h-34.79zM-7.85 -58.1h31.65v3.39h-31.65zM-7.85 -54.96h31.65v3.39h-31.65zM-7.85 -51.81h31.65v3.39h-31.65zM-7.85 -48.67h31.65v3.39h-31.65zM-4.71 -45.53h28.51v3.39h-28.51zM-4.71 -42.39h28.51v3.39h-28.51zM-4.71 -39.25h31.65v3.39h-31.65zM-1.57 -36.11h28.51v3.39h-28.51zM1.57 -32.97h25.37v3.39h-25.37zM1.57 -29.83h28.51v3.39h-28.51zM4.71 -26.69h25.37v3.39h-25.37zM7.85 -23.55h22.23v3.39h-22.23zM10.99 -20.41h22.23v3.39h-22.23zM10.99 -17.27h22.23v3.39h-22.23zM14.13 -14.13h19.09v3.39h-19.09zM14.13 -10.99h19.09v3.39h-19.09zM14.13 -7.85h19.09v3.39h-19.09zM17.27 -4.71h15.95v3.39h-15.95zM17.27 -1.57h12.81v3.39h-12.81zM20.41 1.57h9.67v3.39h-9.67zM-32.97 70.66h15.95v3.39h-15.95zM-39.25 73.8h25.37v3.39h-25.37zM-42.39 76.94h31.65v3.39h-31.65zM-45.53 80.08h34.79v3.39h-34.79zM-48.67 83.22h41.07v3.39h-41.07zM-51.81 86.36h44.21v3.39h-44.21zM-51.81 89.5h44.21v3.39h-44.21zM-54.96 92.64h47.35v3.39h-47.35zM-58.1 95.78h50.49v3.39h-50.49zM-58.1 98.92h50.49v3.39h-50.49zM-61.24 102.06h50.49v3.39h-50.49z"/>
<path fill="#ffff40" d="M29.83 -102.06h19.09v3.39h-19.09zM29.83 -98.92h15.95v3.39h-15.95zM26.69 -95.78h19.09v3.39h-19.09zM-70.66 -92.64h28.51v3.39h-28.51zM26.69 -92.64h15.95v3.39h-15.95zM-64.38 -89.5h25.37v3.39h-25.37zM26.69 -89.5h15.95v3.39h-15.95zM-58.1 -86.36h25.37v3.39h-25.37zM26.69 -86.36h12.81v3.39h-12.81zM-48.67 -83.22h19.09v3.39h-19.09zM23.55 -83.22h15.95v3.39h-15.95zM-42.39 -80.08h15.95v3.39h-15.95zM23.55 -80.08h15.95v3.39h-15.95zM-39.25 -76.94h19.09v3.39h-19.09zM23.55 -76.94h15.95v3.39h-15.95zM-32.97 -73.8h15.95v3.39h-15.95zM23.55 -73.8h15.95v3.39h-15.95zM-29.83 -70.66h12.81v3.39h-12.81zM23.55 -70.66h15.95v3.39h-15.95zM-26.69 -67.52h12.81v3.39h-12.81zM23.55 -67.52h15.95v3.39h-15.95zM-23.55 -64.38h12.81v3.39h-12.81zM23.55 -64.38h15.95v3.39h-15.95zM-20.41 -61.24h9.67v3.39h-9.67zM23.55 -61.24h15.95v3.39h-15.95zM-20.41 -58.1h12.81v3.39h-12.81zM23.55 -58.1h15.95v3.39h-15.95zM-17.27 -54.96h9.67v3.39h-9.67zM23.55 -54.96h15.95v3.39h-15.95zM-17.27 -51.81h9.67v3.39h-9.67zM23.55 -51.81h19.09v3.39h-19.09zM-14.13 -48.67h6.53v3.39h-6.53zM23.55 -48.67h19.09v3.39h-19.09zM-14.13 -45.53h9.67v3.39h-9.67zM23.55 -45.53h22.23v3.39h-22.23zM-14.13 -42.39h9.67v3.39h-9.67zM23.55 -42.39h25.37v3.39h-25.37zM-10.99 -39.25h6.53v3.39h-6.53zM26.69 -39.25h25.37v3.39h-25.37zM-10.99 -36.11h9.67v3.39h-9.67zM26.69 -36.11h28.51v3.39h-28.51zM-10.99 -32.97h12.81v3.39h-12.81zM26.69 -32.97h31.65v3.39h-31.65zM-7.85 -29.83h9.67v3.39h-9.67zM29.83 -29.83h31.65v3.39h-31.65zM-7.85 -26.69h12.81v3.39h-12.81zM29.83 -26.69h31.65v3.39h-31.65zM-7.85 -23.55h15.95v3.39h-15.95zM29.83 -23.55h34.79v3.39h-34.79zM-4.71 -20.41h15.95v3.39h-15.95zM32.97 -20.41h31.65v3.39h-31.65zM-4.71 -17.27h15.95v3.39h-15.95zM32.97 -17.27h31.65v3.39h-31.65zM-4.71 -14.13h19.09v3.39h-19.09zM32.97 -14.13h31.65v3.39h-31.65zM-1.57 -10.99h15.95v3.39h-15.95zM32.97 -10.99h31.65v3.39h-31.65zM-1.57 -7.85h15.95v3.39h-15.95zM32.97 -7.85h31.65v3.39h-31.65zM-1.57 -4.71h19.09v3.39h-19.09zM32.97 -4.71h31.65v3.39h-31.65zM-1.57 -1.57h19.09v3.39h-19.09zM29.83 -1.57h31.65v3.39h-31.65zM-1.57 1.57h22.23v3.39h-22.23zM29.83 1.57h31.65v3.39h-31.65zM1.57 4.71h56.78v3.39h-56.78zM1.57 7.85h53.64v3.39h-53.64zM1.57 10.99h50.49v3.39h-50.49zM1.57 14.13h47.35v3.39h-47.35zM4.71 17.27h41.07v3.39h-41.07zM4.71 20.41h37.93v3.39h-37.93zM7.85 23.55h28.51v3.39h-28.51zM10.99 26.69h19.09v3.39h-19.09zM-26.69 48.67h15.95v3.39h-15.95zM-32.97 51.81h25.37v3.39h-25.37zM-36.11 54.96h31.65v3.39h-31.65zM-39.25 58.1h37.93v3.39h-37.93zM-42.39 61.24h41.07v3.39h-41.07zM-48.67 64.38h47.35v3.39h-47.35zM-51.81 67.52h53.64v3.39h-53.64zM-54.96 70.66h22.23v3.39h-22.23zM-17.27 70.66h19.09v3.39h-19.09zM-58.1 73.8h19.09v3.39h-19.09zM-14.13 73.8h15.95v3.39h-15.95zM-61.24 76.94h19.09v3.39h-19.09zM-10.99 76.94h12.81v3.39h-12.81zM-64.38 80.08h19.09v3.39h-19.09zM-10.99 80.08h12.81v3.39h-12.81zM-67.52 83.22h19.09v3.39h-19.09zM-7.85 83.22h12.81v3.39h-12.81zM-70.66 86.36h19.09v3.39h-19.09zM-7.85 86.36h12.81v3.39h-12.81zM-73.8 89.5h22.23v3.39h-22.23zM-7.85 89.5h12.81v3.39h-12.81zM-7.85 92.64h12.81v3.39h-12.81zM-7.85 95.78h12.81v3.39h-12.81zM-7.85 98.92h9.67v3.39h-9.67zM-10.99 102.06h12.81v3.39h-12.81z"/>
<path fill="#ffff60" d="M45.53 -95.78h22.23v3.39h-22.23zM42.39 -92.64h22.23v3.39h-22.23zM42.39 -89.5h19.09v3.39h-19.09zM-95.78 -86.36h37.93v3.39h-37.93zM39.25 -86.36h22.23v3.39h-22.23zM-83.22 -83.22h34.79v3.39h-34.79zM39.25 -83.22h19.09v3.39h-19.09zM-73.8 -80.08h31.65v3.39h-31.65zM39.25 -80.08h19.09v3.39h-19.09zM-67.52 -76.94h28.51v3.39h-28.51zM39.25 -76.94h19.09v3.39h-19.09zM-58.1 -73.8h25.37v3.39h-25.37zM39.25 -73.8h19.09v3.39h-19.09zM-48.67 -70.66h19.09v3.39h-19.09zM39.25 -70.66h19.09v3.39h-19.09zM-39.25 -67.52h12.81v3.39h-12.81zM39.25 -67.52h19.09v3.39h-19.09zM-36.11 -64.38h12.81v3.39h-12.81zM39.25 -64.38h22.23v3.39h-22.23zM-29.83 -61.24h9.67v3.39h-9.67zM39.25 -61.24h25.37v3.39h-25.37zM-26.69 -58.1h6.53v3.39h-6.53zM39.25 -58.1h28.51v3.39h-28.51zM-26.69 -54.96h9.67v3.39h-9.67zM39.25 -54.96h34.79v3.39h-34.79zM-23.55 -51.81h6.53v3.39h-6.53zM42.39 -51.81h34.79v3.39h-34.79zM-23.55 -48.67h9.67v3.39h-9.67zM42.39 -48.67h37.93v3.39h-37.93zM-20.41 -45.53h6.53v3.39h-6.53zM45.53 -45.53h37.93v3.39h-37.93zM-20.41 -42.39h6.53v3.39h-6.53zM48.67 -42.39h37.93v3.39h-37.93zM-20.41 -39.25h9.67v3.39h-9.67zM51.81 -39.25h37.93v3.39h-37.93zM-17.27 -36.11h6.53v3.39h-6.53zM54.96 -36.11h37.93v3.39h-37.93zM-17.27 -32.97h6.53v3.39h-6.53zM58.1 -32.97h34.79v3.39h-34.79zM-17.27 -29.83h9.67v3.39h-9.67zM61.24 -29.83h31.65v3.39h-31.65zM-17.27 -26.69h9.67v3.39h-9.67zM61.24 -26.69h34.79v3.39h-34.79zM-14.13 -23.55h6.53v3.39h-6.53zM64.38 -23.55h31.65v3.39h-31.65zM-14.13 -20.41h9.67v3.39h-9.67zM64.38 -20.41h31.65v3.39h-31.65zM-14.13 -17.27h9.67v3.39h-9.67zM64.38 -17.27h31.65v3.39h-31.65zM-14.13 -14.13h9.67v3.39h-9.67zM64.38 -14.13h31.65v3.39h-31.65zM-14.13 -10.99h12.81v3.39h-12.81zM64.38 -10.99h31.65v3.39h-31.65zM-10.99 -7.85h9.67v3.39h-9.67zM64.38 -7.85h31.65v3.39h-31.65zM-10.99 -4.71h9.67v3.39h-9.67zM64.38 -4.71h28.51v3.39h-28.51zM-10.99 -1.57h9.67v3.39h-9.67zM61.24 -1.57h31.65v3.39h-31.65zM-10.99 1.57h9.67v3.39h-9.67zM61.24 1.57h28.51v3.39h-28.51zM-10.99 4.71h12.81v3.39h-12.81zM58.1 4.71h28.51v3.39h-28.51zM-10.99 7.85h12.81v3.39h-12.81zM54.96 7.85h28.51v3.39h-28.51zM-10.99 10.99h12.81v3.39h-12.81zM51.81 10.99h28.51v3.39h-28.51zM-14.13 14.13h15.95v3.39h-15.95zM48.67 14.13h28.51v3.39h-28.51zM-14.13 17.27h19.09v3.39h-19.09zM45.53 17.27h28.51v3.39h-28.51zM-14.13 20.41h19.09v3.39h-19.09zM42.39 20.41h25.37v3.39h-25.37zM-17.27 23.55h25.37v3.39h-25.37zM36.11 23.55h28.51v3.39h-28.51zM-20.41 26.69h31.65v3.39h-31.65zM29.83 26.69h28.51v3.39h-28.51zM-23.55 29.83h78.76v3.39h-78.76zM-26.69 32.97h78.76v3.39h-78.76zM-32.97 36.11h78.76v3.39h-78.76zM-36.11 39.25h78.76v3.39h-78.76zM-39.25 42.39h75.62v3.39h-75.62zM-42.39 45.53h75.62v3.39h-75.62zM-45.53 48.67h19.09v3.39h-19.09zM-10.99 48.67h37.93v3.39h-37.93zM-48.67 51.81h15.95v3.39h-15.95zM-7.85 51.81h28.51v3.39h-28.51zM-51.81 54.96h15.95v3.39h-15.95zM-4.71 54.96h22.23v3.39h-22.23zM-54.96 58.1h15.95v3.39h-15.95zM-1.57 58.1h19.09v3.39h-19.09zM-58.1 61.24h15.95v3.39h-15.95zM-1.57 61.24h15.95v3.39h-15.95zM-61.24 64.38h12.81v3.39h-12.81zM-1.57 64.38h15.95v3.39h-15.95zM-67.52 67.52h15.95v3.39h-15.95zM1.57 67.52h12.81v3.39h-12.81zM-70.66 70.66h15.95v3.39h-15.95zM1.57 70.66h9.67v3.39h-9.67zM-76.94 73.8h19.09v3.39h-19.09zM1.57 73.8h9.67v3.39h-9.67zM-80.08 76.94h19.09v3.39h-19.09zM1.57 76.94h9.67v3.39h-9.67zM-86.36 80.08h22.23v3.39h-22.23zM1.57 80.08h9.67v3.39h-9.67zM4.71 83.22h6.53v3.39h-6.53zM4.71 86.36h6.53v3.39h-6.53zM4.71 89.5h6.53v3.39h-6.53zM4.71 92.64h6.53v3.39h-6.53zM4.71 95.78h6.53v3.39h-6.53zM1.57 98.92h9.67v3.39h-9.67zM1.57 102.06h9.67v3.39h-9.67z"/>
<path fill="#ffff80" d="M61.24 -86.36h44.21v3.39h-44.21zM58.1 -83.22h47.35v3.39h-47.35zM58.1 -80.08h47.35v3.39h-47.35zM-105.2 -76.94h37.93v3.39h-37.93zM58.1 -76.94h47.35v3.39h-47.35zM-105.2 -73.8h47.35v3.39h-47.35zM58.1 -73.8h47.35v3.39h-47.35zM-89.5 -70.66h41.07v3.39h-41.07zM58.1 -70.66h47.35v3.39h-47.35zM-76.94 -67.52h37.93v3.39h-37.93zM58.1 -67.52h47.35v3.39h-47.35zM-64.38 -64.38h28.51v3.39h-28.51zM61.24 -64.38h44.21v3.39h-44.21zM-51.81 -61.24h22.23v3.39h-22.23zM64.38 -61.24h41.07v3.39h-41.07zM-42.39 -58.1h15.95v3.39h-15.95zM67.52 -58.1h37.93v3.39h-37.93zM-36.11 -54.96h9.67v3.39h-9.67zM73.8 -54.96h31.65v3.39h-31.65zM-32.97 -51.81h9.67v3.39h-9.67zM76.94 -51.81h28.51v3.39h-28.51zM-29.83 -48.67h6.53v3.39h-6.53zM80.08 -48.67h25.37v3.39h-25.37zM-29.83 -45.53h9.67v3.39h-9.67zM83.22 -45.53h22.23v3.39h-22.23zM-26.69 -42.39h6.53v3.39h-6.53zM86.36 -42.39h19.09v3.39h-19.09zM-26.69 -39.25h6.53v3.39h-6.53zM89.5 -39.25h15.95v3.39h-15.95zM-26.69 -36.11h9.67v3.39h-9.67zM92.64 -36.11h12.81v3.39h-12.81zM-26.69 -32.97h9.67v3.39h-9.67zM92.64 -32.97h12.81v3.39h-12.81zM-23.55 -29.83h6.53v3.39h-6.53zM92.64 -29.83h12.81v3.39h-12.81zM-23.55 -26.69h6.53v3.39h-6.53zM95.78 -26.69h9.67v3.39h-9.67zM-23.55 -23.55h9.67v3.39h-9.67zM95.78 -23.55h9.67v3.39h-9.67zM-23.55 -20.41h9.67v3.39h-9.67zM95.78 -20.41h9.67v3.39h-9.67zM-23.55 -17.27h9.67v3.39h-9.67zM95.78 -17.27h9.67v3.39h-9.67zM-23.55 -14.13h9.67v3.39h-9.67zM95.78 -14.13h9.67v3.39h-9.67zM-20.41 -10.99h6.53v3.39h-6.53zM95.78 -10.99h9.67v3.39h-9.67zM-20.41 -7.85h9.67v3.39h-9.67zM95.78 -7.85h9.67v3.39h-9.67zM-20.41 -4.71h9.67v3.39h-9.67zM92.64 -4.71h12.81v3.39h-12.81zM-20.41 -1.57h9.67v3.39h-9.67zM92.64 -1.57h12.81v3.39h-12.81zM-20.41 1.57h9.67v3.39h-9.67zM89.5 1.57h15.95v3.39h-15.95zM-23.55 4.71h12.81v3.39h-12.81zM86.36 4.71h19.09v3.39h-19.09zM-23.55 7.85h12.81v3.39h-12.81zM83.22 7.85h22.23v3.39h-22.23zM-23.55 10.99h12.81v3.39h-12.81zM80.08 10.99h25.37v3.39h-25.37zM-26.69 14.13h12.81v3.39h-12.81zM76.94 14.13h28.51v3.39h-28.51zM-26.69 17.27h12.81v3.39h-12.81zM73.8 17.27h28.51v3.39h-28.51zM-29.83 20.41h15.95v3.39h-15.95zM67.52 20.41h31.65v3.39h-31.65zM-32.97 23.55h15.95v3.39h-15.95zM64.38 23.55h28.51v3.39h-28.51zM-36.11 26.69h15.95v3.39h-15.95zM58.1 26.69h31.65v3.39h-31.65zM-39.25 29.83h15.95v3.39h-15.95zM54.96 29.83h28.51v3.39h-28.51zM-42.39 32.97h15.95v3.39h-15.95zM51.81 32.97h25.37v3.39h-25.37zM-48.67 36.11h15.95v3.39h-15.95zM45.53 36.11h25.37v3.39h-25.37zM-48.67 39.25h12.81v3.39h-12.81zM42.39 39.25h25.37v3.39h-25.37zM-51.81 42.39h12.81v3.39h-12.81zM36.11 42.39h25.37v3.39h-25.37zM-54.96 45.53h12.81v3.39h-12.81zM32.97 45.53h22.23v3.39h-22.23zM-58.1 48.67h12.81v3.39h-12.81zM26.69 48.67h25.37v3.39h-25.37zM-61.24 51.81h12.81v3.39h-12.81zM20.41 51.81h25.37v3.39h-25.37zM-64.38 54.96h12.81v3.39h-12.81zM17.27 54.96h25.37v3.39h-25.37zM-70.66 58.1h15.95v3.39h-15.95zM17.27 58.1h19.09v3.39h-19.09zM-80.08 61.24h22.23v3.39h-22.23zM14.13 61.24h19.09v3.39h-19.09zM-92.64 64.38h31.65v3.39h-31.65zM14.13 64.38h15.95v3.39h-15.95zM-105.2 67.52h37.93v3.39h-37.93zM14.13 67.52h12.81v3.39h-12.81zM-105.2 70.66h34.79v3.39h-34.79zM10.99 70.66h12.81v3.39h-12.81zM10.99 73.8h9.67v3.39h-9.67zM10.99 76.94h9.67v3.39h-9.67zM10.99 80.08h9.67v3.39h-9.67zM10.99 83.22h9.67v3.39h-9.67zM10.99 86.36h9.67v3.39h-9.67zM10.99 89.5h9.67v3.39h-9.67zM10.99 92.64h9.67v3.39h-9.67zM10.99 95.78h9.67v3.39h-9.67zM10.99 98.92h9.67v3.39h-9.67zM10.99 102.06h9.67v3.39h-9.67z"/>
<path fill="#ffffa0" d="M-105.2 -67.52h28.51v3.39h-28.51zM-105.2 -64.38h41.07v3.39h-41.07zM-105.2 -61.24h53.64v3.39h-53.64zM-105.2 -58.1h63.06v3.39h-63.06zM-73.8 -54.96h37.93v3.39h-37.93zM-58.1 -51.81h25.37v3.39h-25.37zM-45.53 -48.67h15.95v3.39h-15.95zM-39.25 -45.53h9.67v3.39h-9.67zM-36.11 -42.39h9.67v3.39h-9.67zM-36.11 -39.25h9.67v3.39h-9.67zM-36.11 -36.11h9.67v3.39h-9.67zM-36.11 -32.97h9.67v3.39h-9.67zM-32.97 -29.83h9.67v3.39h-9.67zM-32.97 -26.69h9.67v3.39h-9.67zM-32.97 -23.55h9.67v3.39h-9.67zM-32.97 -20.41h9.67v3.39h-9.67zM-32.97 -17.27h9.67v3.39h-9.67zM-32.97 -14.13h9.67v3.39h-9.67zM-32.97 -10.99h12.81v3.39h-12.81zM-29.83 -7.85h9.67v3.39h-9.67zM-29.83 -4.71h9.67v3.39h-9.67zM-32.97 -1.57h12.81v3.39h-12.81zM-32.97 1.57h12.81v3.39h-12.81zM-32.97 4.71h9.67v3.39h-9.67zM-36.11 7.85h12.81v3.39h-12.81zM-36.11 10.99h12.81v3.39h-12.81zM-39.25 14.13h12.81v3.39h-12.81zM-42.39 17.27h15.95v3.39h-15.95zM102.06 17.27h3.39v3.39h-3.39zM-45.53 20.41h15.95v3.39h-15.95zM98.92 20.41h6.53v3.39h-6.53zM-48.67 23.55h15.95v3.39h-15.95zM92.64 23.55h12.81v3.39h-12.81zM-51.81 26.69h15.95v3.39h-15.95zM89.5 26.69h15.95v3.39h-15.95zM-54.96 29.83h15.95v3.39h-15.95zM83.22 29.83h22.23v3.39h-22.23zM-61.24 32.97h19.09v3.39h-19.09zM76.94 32.97h28.51v3.39h-28.51zM-64.38 36.11h15.95v3.39h-15.95zM70.66 36.11h34.79v3.39h-34.79zM-67.52 39.25h19.09v3.39h-19.09zM67.52 39.25h34.79v3.39h-34.79zM-105.2 42.39h15.95v3.39h-15.95zM-73.8 42.39h22.23v3.39h-22.23zM61.24 42.39h34.79v3.39h-34.79zM-105.2 45.53h50.49v3.39h-50.49zM54.96 45.53h34.79v3.39h-34.79zM-105.2 48.67h47.35v3.39h-47.35zM51.81 48.67h31.65v3.39h-31.65zM-105.2 51.81h44.21v3.39h-44.21zM45.53 51.81h28.51v3.39h-28.51zM-105.2 54.96h41.07v3.39h-41.07zM42.39 54.96h25.37v3.39h-25.37zM-105.2 58.1h34.79v3.39h-34.79zM36.11 58.1h28.51v3.39h-28.51zM-105.2 61.24h25.37v3.39h-25.37zM32.97 61.24h25.37v3.39h-25.37zM29.83 64.38h25.37v3.39h-25.37zM26.69 67.52h22.23v3.39h-22.23zM23.55 70.66h19.09v3.39h-19.09zM20.41 73.8h19.09v3.39h-19.09zM20.41 76.94h15.95v3.39h-15.95zM20.41 80.08h12.81v3.39h-12.81zM20.41 83.22h9.67v3.39h-9.67zM20.41 86.36h9.67v3.39h-9.67zM20.41 89.5h9.67v3.39h-9.67zM20.41 92.64h9.67v3.39h-9.67zM20.41 95.78h9.67v3.39h-9.67zM20.41 98.92h12.81v3.39h-12.81zM20.41 102.06h12.81v3.39h-12.81z"/>
<path fill="#ffffc0" d="M-98.92 -54.96h25.37v3.39h-25.37zM-105.2 -51.81h47.35v3.39h-47.35zM-105.2 -48.67h59.92v3.39h-59.92zM-105.2 -45.53h66.2v3.39h-66.2zM-105.2 -42.39h69.34v3.39h-69.34zM-105.2 -39.25h28.51v3.39h-28.51zM-73.8 -39.25h37.93v3.39h-37.93zM-105.2 -36.11h22.23v3.39h-22.23zM-64.38 -36.11h28.51v3.39h-28.51zM-105.2 -32.97h19.09v3.39h-19.09zM-61.24 -32.97h25.37v3.39h-25.37zM-105.2 -29.83h15.95v3.39h-15.95zM-58.1 -29.83h25.37v3.39h-25.37zM-105.2 -26.69h15.95v3.39h-15.95zM-54.96 -26.69h22.23v3.39h-22.23zM-105.2 -23.55h15.95v3.39h-15.95zM-54.96 -23.55h22.23v3.39h-22.23zM-105.2 -20.41h19.09v3.39h-19.09zM-54.96 -20.41h22.23v3.39h-22.23zM-105.2 -17.27h22.23v3.39h-22.23zM-51.81 -17.27h19.09v3.39h-19.09zM-105.2 -14.13h25.37v3.39h-25.37zM-51.81 -14.13h19.09v3.39h-19.09zM-105.2 -10.99h31.65v3.39h-31.65zM-48.67 -10.99h15.95v3.39h-15.95zM-105.2 -7.85h34.79v3.39h-34.79zM-48.67 -7.85h19.09v3.39h-19.09zM-105.2 -4.71h34.79v3.39h-34.79zM-45.53 -4.71h15.95v3.39h-15.95zM-105.2 -1.57h37.93v3.39h-37.93zM-48.67 -1.57h15.95v3.39h-15.95zM-105.2 1.57h37.93v3.39h-37.93zM-51.81 1.57h19.09v3.39h-19.09zM-105.2 4.71h41.07v3.39h-41.07zM-54.96 4.71h22.23v3.39h-22.23zM-105.2 7.85h69.34v3.39h-69.34zM-105.2 10.99h69.34v3.39h-69.34zM-105.2 14.13h66.2v3.39h-66.2zM-105.2 17.27h63.06v3.39h-63.06zM-105.2 20.41h59.92v3.39h-59.92zM-105.2 23.55h56.78v3.39h-56.78zM-105.2 26.69h53.64v3.39h-53.64zM-105.2 29.83h50.49v3.39h-50.49zM-105.2 32.97h44.21v3.39h-44.21zM-105.2 36.11h41.07v3.39h-41.07zM-105.2 39.25h37.93v3.39h-37.93zM-89.5 42.39h15.95v3.39h-15.95zM89.5 45.53h15.95v3.39h-15.95zM83.22 48.67h22.23v3.39h-22.23zM73.8 51.81h31.65v3.39h-31.65zM67.52 54.96h37.93v3.39h-37.93zM64.38 58.1h41.07v3.39h-41.07zM58.1 61.24h47.35v3.39h-47.35zM54.96 64.38h44.21v3.39h-44.21zM48.67 67.52h44.21v3.39h-44.21zM42.39 70.66h44.21v3.39h-44.21zM39.25 73.8h41.07v3.39h-41.07zM36.11 76.94h37.93v3.39h-37.93zM32.97 80.08h37.93v3.39h-37.93zM29.83 83.22h34.79v3.39h-34.79zM29.83 86.36h31.65v3.39h-31.65zM29.83 89.5h28.51v3.39h-28.51zM29.83 92.64h25.37v3.39h-25.37zM29.83 95.78h25.37v3.39h-25.37z"/>
<path fill="#ffffe0" d="M-76.94 -39.25h3.39v3.39h-3.39zM-83.22 -36.11h19.09v3.39h-19.09zM-86.36 -32.97h25.37v3.39h-25.37zM-89.5 -29.83h31.65v3.39h-31.65zM-89.5 -26.69h34.79v3.39h-34.79zM-89.5 -23.55h34.79v3.39h-34.79zM-86.36 -20.41h31.65v3.39h-31.65zM-83.22 -17.27h31.65v3.39h-31.65zM-80.08 -14.13h28.51v3.39h-28.51zM-73.8 -10.99h25.37v3.39h-25.37zM-70.66 -7.85h22.23v3.39h-22.23zM-70.66 -4.71h25.37v3.39h-25.37zM-67.52 -1.57h19.09v3.39h-19.09zM-67.52 1.57h15.95v3.39h-15.95zM-64.38 4.71h9.67v3.39h-9.67z"/>
</g>
<ellipse cx="0" cy="-0.5" rx="103.1" ry="103" fill="none" stroke="#000" stroke-width="5.4"/>
<path d="M-41.5 -86.5h32.4M-25.3 -102.7v32.4M-36.8 -98l23 23M-36.8 -75l23 -23M9.1 -86.5h32.4M25.3 -102.7v32.4M13.8 -98l23 23M13.8 -75l23 -23M-16.2 -43.3h32.4M0 -59.5v32.4M-11.5 -54.8l23 23M-11.5 -31.8l23 -23M17.1 -44.7h32.4M33.3 -60.9v32.4M21.8 -56.2l23 23M21.8 -33.2l23 -23M-16.2 0h32.4M0 -16.2v32.4M-11.5 -11.5l23 23M-11.5 11.5l23 -23M25.3 0h32.4M41.5 -16.2v32.4M30 -11.5l23 23M30 11.5l23 -23M-49.6 45h32.4M-33.4 28.8v32.4M-44.9 33.5l23 23M-44.9 56.5l23 -23M-16.2 44.5h32.4M0 28.3v32.4M-11.5 33l23 23M-11.5 56l23 -23M17.2 45h32.4M33.4 28.8v32.4M21.9 33.5l23 23M21.9 56.5l23 -23M-42.2 85.2h32.4M-26 69v32.4M-37.5 73.7l23 23M-37.5 96.7l23 -23M-16.2 89.6h32.4M0 73.4v32.4M-11.5 78.1l23 23M-11.5 101.1l23 -23" stroke="#000" stroke-width="1.6" fill="none"/>
<g fill="none" stroke="#000" stroke-width="1.55"><circle cx="-33.3" cy="-44.7" r="2.65"/><circle cx="-41.5" cy="0" r="2.65"/><circle cx="-66.9" cy="51.3" r="2.65"/><circle cx="66.9" cy="51.3" r="2.65"/><circle cx="26" cy="85.2" r="2.65"/></g>
</g>
<clipPath id="ctheta"><ellipse cx="0" cy="-0.5" rx="103.1" ry="103"/></clipPath>
<g transform="translate(1415.9 739.6)">
<path d="M-18.8 -102L-2.4 -116.9H2.4L18.8 -102" fill="#fff" stroke="#000" stroke-width="5.5" stroke-linejoin="miter"/>
<path d="M-100 -16.2H-107C-111 -16.2 -113 -14.5 -113.1 -9.5L-113.7 19L-110 26Q-108.8 28 -106 27.9L-100 27.9" fill="#fff" stroke="#000" stroke-width="5.6" stroke-linejoin="round"/>
<path d="M100 -16.2H107C111 -16.2 113 -14.5 113.1 -9.5L113.7 19L110 26Q108.8 28 106 27.9L100 27.9" fill="#fff" stroke="#000" stroke-width="5.6" stroke-linejoin="round"/>
<ellipse cx="0" cy="-0.5" rx="103.1" ry="103" fill="#fff"/>
<g clip-path="url(#ctheta)" shape-rendering="crispEdges">
<path fill="#ff8000" d="M-17.27 -70.66h3.39v3.39h-3.39z"/>
<path fill="#ff9000" d="M-105.2 -95.78h63.06v3.39h-63.06zM-92.64 -92.64h53.64v3.39h-53.64zM-80.08 -89.5h50.49v3.39h-50.49zM-67.52 -86.36h56.78v3.39h-56.78zM-61.24 -83.22h53.64v3.39h-53.64zM-54.96 -80.08h50.49v3.39h-50.49zM-48.67 -76.94h47.35v3.39h-47.35zM-45.53 -73.8h44.21v3.39h-44.21zM-42.39 -70.66h25.37v3.39h-25.37zM-14.13 -70.66h15.95v3.39h-15.95zM-39.25 -67.52h41.07v3.39h-41.07zM-36.11 -64.38h34.79v3.39h-34.79zM-29.83 -61.24h28.51v3.39h-28.51zM-23.55 -58.1h19.09v3.39h-19.09z"/>
<path fill="#ffa000" d="M-48.67 -105.2h31.65v3.39h-31.65zM-45.53 -102.06h31.65v3.39h-31.65zM-45.53 -98.92h34.79v3.39h-34.79zM-42.39 -95.78h34.79v3.39h-34.79zM-39.25 -92.64h34.79v3.39h-34.79zM-29.83 -89.5h28.51v3.39h-28.51zM-10.99 -86.36h12.81v3.39h-12.81zM-105.2 -83.22h44.21v3.39h-44.21zM-7.85 -83.22h12.81v3.39h-12.81zM-105.2 -80.08h50.49v3.39h-50.49zM-4.71 -80.08h9.67v3.39h-9.67zM-105.2 -76.94h56.78v3.39h-56.78zM-1.57 -76.94h9.67v3.39h-9.67zM-92.64 -73.8h47.35v3.39h-47.35zM-1.57 -73.8h9.67v3.39h-9.67zM-83.22 -70.66h41.07v3.39h-41.07zM1.57 -70.66h6.53v3.39h-6.53zM-73.8 -67.52h34.79v3.39h-34.79zM1.57 -67.52h6.53v3.39h-6.53zM-64.38 -64.38h28.51v3.39h-28.51zM-1.57 -64.38h9.67v3.39h-9.67zM-54.96 -61.24h25.37v3.39h-25.37zM-1.57 -61.24h9.67v3.39h-9.67zM-45.53 -58.1h22.23v3.39h-22.23zM-4.71 -58.1h9.67v3.39h-9.67zM-39.25 -54.96h44.21v3.39h-44.21zM-29.83 -51.81h31.65v3.39h-31.65z"/>
<path fill="#ffb000" d="M-17.27 -105.2h15.95v3.39h-15.95zM-14.13 -102.06h15.95v3.39h-15.95zM-10.99 -98.92h12.81v3.39h-12.81zM-7.85 -95.78h12.81v3.39h-12.81zM-4.71 -92.64h12.81v3.39h-12.81zM-1.57 -89.5h9.67v3.39h-9.67zM1.57 -86.36h9.67v3.39h-9.67zM4.71 -83.22h6.53v3.39h-6.53zM4.71 -80.08h9.67v3.39h-9.67zM7.85 -76.94h6.53v3.39h-6.53zM7.85 -73.8h6.53v3.39h-6.53zM7.85 -70.66h6.53v3.39h-6.53zM-105.2 -67.52h31.65v3.39h-31.65zM7.85 -67.52h6.53v3.39h-6.53zM-105.2 -64.38h41.07v3.39h-41.07zM7.85 -64.38h6.53v3.39h-6.53zM-95.78 -61.24h41.07v3.39h-41.07zM7.85 -61.24h6.53v3.39h-6.53zM-83.22 -58.1h37.93v3.39h-37.93zM4.71 -58.1h9.67v3.39h-9.67zM-67.52 -54.96h28.51v3.39h-28.51zM4.71 -54.96h6.53v3.39h-6.53zM-54.96 -51.81h25.37v3.39h-25.37zM1.57 -51.81h6.53v3.39h-6.53zM-42.39 -48.67h47.35v3.39h-47.35zM-26.69 -45.53h28.51v3.39h-28.51z"/>
<path fill="#ffc000" d="M-1.57 -105.2h12.81v3.39h-12.81zM1.57 -102.06h9.67v3.39h-9.67zM1.57 -98.92h12.81v3.39h-12.81zM4.71 -95.78h9.67v3.39h-9.67zM7.85 -92.64h9.67v3.39h-9.67zM7.85 -89.5h9.67v3.39h-9.67zM10.99 -86.36h6.53v3.39h-6.53zM10.99 -83.22h9.67v3.39h-9.67zM14.13 -80.08h6.53v3.39h-6.53zM14.13 -76.94h6.53v3.39h-6.53zM14.13 -73.8h6.53v3.39h-6.53zM14.13 -70.66h6.53v3.39h-6.53zM14.13 -67.52h6.53v3.39h-6.53zM14.13 -64.38h6.53v3.39h-6.53zM14.13 -61.24h6.53v3.39h-6.53zM-105.2 -58.1h22.23v3.39h-22.23zM14.13 -58.1h6.53v3.39h-6.53zM-105.2 -54.96h37.93v3.39h-37.93zM10.99 -54.96h6.53v3.39h-6.53zM-98.92 -51.81h44.21v3.39h-44.21zM7.85 -51.81h6.53v3.39h-6.53zM-80.08 -48.67h37.93v3.39h-37.93zM4.71 -48.67h9.67v3.39h-9.67zM-58.1 -45.53h31.65v3.39h-31.65zM1.57 -45.53h6.53v3.39h-6.53zM-42.39 -42.39h47.35v3.39h-47.35z"/>
<path fill="#ffd000" d="M10.99 -105.2h9.67v3.39h-9.67zM10.99 -102.06h12.81v3.39h-12.81zM14.13 -98.92h9.67v3.39h-9.67zM14.13 -95.78h9.67v3.39h-9.67zM17.27 -92.64h6.53v3.39h-6.53zM17.27 -89.5h6.53v3.39h-6.53zM17.27 -86.36h9.67v3.39h-9.67zM20.41 -83.22h6.53v3.39h-6.53zM20.41 -80.08h6.53v3.39h-6.53zM20.41 -76.94h6.53v3.39h-6.53zM20.41 -73.8h6.53v3.39h-6.53zM20.41 -70.66h9.67v3.39h-9.67zM20.41 -67.52h6.53v3.39h-6.53zM20.41 -64.38h6.53v3.39h-6.53zM20.41 -61.24h6.53v3.39h-6.53zM20.41 -58.1h6.53v3.39h-6.53zM17.27 -54.96h6.53v3.39h-6.53zM14.13 -51.81h9.67v3.39h-9.67zM-105.2 -48.67h25.37v3.39h-25.37zM14.13 -48.67h6.53v3.39h-6.53zM-105.2 -45.53h47.35v3.39h-47.35zM7.85 -45.53h9.67v3.39h-9.67zM-92.64 -42.39h50.49v3.39h-50.49zM4.71 -42.39h9.67v3.39h-9.67zM-61.24 -39.25h66.2v3.39h-66.2zM-32.97 -36.11h22.23v3.39h-22.23z"/>
<path fill="#ffe000" d="M20.41 -105.2h12.81v3.39h-12.81zM23.55 -102.06h9.67v3.39h-9.67zM23.55 -98.92h9.67v3.39h-9.67zM23.55 -95.78h9.67v3.39h-9.67zM23.55 -92.64h9.67v3.39h-9.67zM23.55 -89.5h12.81v3.39h-12.81zM26.69 -86.36h9.67v3.39h-9.67zM26.69 -83.22h9.67v3.39h-9.67zM26.69 -80.08h9.67v3.39h-9.67zM26.69 -76.94h9.67v3.39h-9.67zM26.69 -73.8h9.67v3.39h-9.67zM29.83 -70.66h6.53v3.39h-6.53zM26.69 -67.52h9.67v3.39h-9.67zM26.69 -64.38h9.67v3.39h-9.67zM26.69 -61.24h6.53v3.39h-6.53zM26.69 -58.1h6.53v3.39h-6.53zM23.55 -54.96h9.67v3.39h-9.67zM23.55 -51.81h6.53v3.39h-6.53zM20.41 -48.67h6.53v3.39h-6.53zM17.27 -45.53h6.53v3.39h-6.53zM-105.2 -42.39h12.81v3.39h-12.81zM14.13 -42.39h6.53v3.39h-6.53zM-105.2 -39.25h44.21v3.39h-44.21zM4.71 -39.25h12.81v3.39h-12.81zM-98.92 -36.11h66.2v3.39h-66.2zM-10.99 -36.11h19.09v3.39h-19.09zM-54.96 -32.97h47.35v3.39h-47.35z"/>
<path fill="#fff000" d="M32.97 -98.92h12.81v3.39h-12.81zM32.97 -95.78h12.81v3.39h-12.81zM32.97 -92.64h12.81v3.39h-12.81zM36.11 -89.5h9.67v3.39h-9.67zM36.11 -86.36h9.67v3.39h-9.67zM36.11 -83.22h9.67v3.39h-9.67zM36.11 -80.08h9.67v3.39h-9.67zM36.11 -76.94h9.67v3.39h-9.67zM36.11 -73.8h9.67v3.39h-9.67zM36.11 -70.66h9.67v3.39h-9.67zM36.11 -67.52h9.67v3.39h-9.67zM36.11 -64.38h6.53v3.39h-6.53zM32.97 -61.24h9.67v3.39h-9.67zM32.97 -58.1h9.67v3.39h-9.67zM32.97 -54.96h6.53v3.39h-6.53zM29.83 -51.81h9.67v3.39h-9.67zM26.69 -48.67h9.67v3.39h-9.67zM23.55 -45.53h9.67v3.39h-9.67zM20.41 -42.39h9.67v3.39h-9.67zM17.27 -39.25h9.67v3.39h-9.67zM7.85 -36.11h12.81v3.39h-12.81zM-105.2 -32.97h50.49v3.39h-50.49zM-7.85 -32.97h22.23v3.39h-22.23zM-105.2 -29.83h100.74v3.39h-100.74z"/>
<path fill="#ffff00" d="M45.53 -95.78h12.81v3.39h-12.81zM45.53 -92.64h12.81v3.39h-12.81zM45.53 -89.5h12.81v3.39h-12.81zM45.53 -86.36h12.81v3.39h-12.81zM45.53 -83.22h12.81v3.39h-12.81zM45.53 -80.08h12.81v3.39h-12.81zM45.53 -76.94h12.81v3.39h-12.81zM45.53 -73.8h9.67v3.39h-9.67zM45.53 -70.66h9.67v3.39h-9.67zM45.53 -67.52h9.67v3.39h-9.67zM42.39 -64.38h12.81v3.39h-12.81zM42.39 -61.24h9.67v3.39h-9.67zM42.39 -58.1h9.67v3.39h-9.67zM39.25 -54.96h9.67v3.39h-9.67zM39.25 -51.81h9.67v3.39h-9.67zM36.11 -48.67h9.67v3.39h-9.67zM32.97 -45.53h9.67v3.39h-9.67zM29.83 -42.39h12.81v3.39h-12.81zM26.69 -39.25h9.67v3.39h-9.67zM20.41 -36.11h12.81v3.39h-12.81zM14.13 -32.97h15.95v3.39h-15.95zM-4.71 -29.83h25.37v3.39h-25.37zM-105.2 -26.69h103.88v3.39h-103.88zM-105.2 -23.55h88.18v3.39h-88.18z"/>
<path fill="#ffff20" d="M58.1 -89.5h12.81v3.39h-12.81zM58.1 -86.36h12.81v3.39h-12.81zM58.1 -83.22h12.81v3.39h-12.81zM58.1 -80.08h12.81v3.39h-12.81zM58.1 -76.94h12.81v3.39h-12.81zM54.96 -73.8h12.81v3.39h-12.81zM54.96 -70.66h12.81v3.39h-12.81zM54.96 -67.52h12.81v3.39h-12.81zM54.96 -64.38h12.81v3.39h-12.81zM51.81 -61.24h12.81v3.39h-12.81zM51.81 -58.1h12.81v3.39h-12.81zM48.67 -54.96h12.81v3.39h-12.81zM48.67 -51.81h12.81v3.39h-12.81zM45.53 -48.67h12.81v3.39h-12.81zM42.39 -45.53h12.81v3.39h-12.81zM42.39 -42.39h12.81v3.39h-12.81zM36.11 -39.25h15.95v3.39h-15.95zM32.97 -36.11h15.95v3.39h-15.95zM29.83 -32.97h12.81v3.39h-12.81zM20.41 -29.83h19.09v3.39h-19.09zM-1.57 -26.69h34.79v3.39h-34.79zM-17.27 -23.55h41.07v3.39h-41.07zM-105.2 -20.41h97.6v3.39h-97.6zM-105.2 -17.27h28.51v3.39h-28.51z"/>
<path fill="#ffff40" d="M70.66 -76.94h12.81v3.39h-12.81zM67.52 -73.8h15.95v3.39h-15.95zM67.52 -70.66h12.81v3.39h-12.81zM67.52 -67.52h12.81v3.39h-12.81zM67.52 -64.38h12.81v3.39h-12.81zM64.38 -61.24h12.81v3.39h-12.81zM64.38 -58.1h12.81v3.39h-12.81zM61.24 -54.96h15.95v3.39h-15.95zM61.24 -51.81h12.81v3.39h-12.81zM58.1 -48.67h15.95v3.39h-15.95zM54.96 -45.53h15.95v3.39h-15.95zM54.96 -42.39h12.81v3.39h-12.81zM51.81 -39.25h12.81v3.39h-12.81zM48.67 -36.11h15.95v3.39h-15.95zM42.39 -32.97h19.09v3.39h-19.09zM39.25 -29.83h19.09v3.39h-19.09zM32.97 -26.69h19.09v3.39h-19.09zM23.55 -23.55h25.37v3.39h-25.37zM-7.85 -20.41h50.49v3.39h-50.49zM-76.94 -17.27h113.3v3.39h-113.3zM-105.2 -14.13h88.18v3.39h-88.18zM-105.2 -10.99h28.51v3.39h-28.51zM-105.2 -7.85h3.39v3.39h-3.39z"/>
<path fill="#ffff60" d="M80.08 -67.52h15.95v3.39h-15.95zM80.08 -64.38h12.81v3.39h-12.81zM76.94 -61.24h15.95v3.39h-15.95zM76.94 -58.1h12.81v3.39h-12.81zM76.94 -54.96h12.81v3.39h-12.81zM73.8 -51.81h12.81v3.39h-12.81zM73.8 -48.67h12.81v3.39h-12.81zM70.66 -45.53h12.81v3.39h-12.81zM67.52 -42.39h15.95v3.39h-15.95zM64.38 -39.25h15.95v3.39h-15.95zM64.38 -36.11h12.81v3.39h-12.81zM61.24 -32.97h15.95v3.39h-15.95zM58.1 -29.83h15.95v3.39h-15.95zM51.81 -26.69h19.09v3.39h-19.09zM48.67 -23.55h19.09v3.39h-19.09zM42.39 -20.41h22.23v3.39h-22.23zM36.11 -17.27h25.37v3.39h-25.37zM-17.27 -14.13h75.62v3.39h-75.62zM-76.94 -10.99h132.14v3.39h-132.14zM-102.06 -7.85h47.35v3.39h-47.35zM-26.69 -7.85h15.95v3.39h-15.95zM1.57 -7.85h50.49v3.39h-50.49zM-105.2 -4.71h31.65v3.39h-31.65zM10.99 -4.71h34.79v3.39h-34.79zM-105.2 -1.57h15.95v3.39h-15.95zM17.27 -1.57h25.37v3.39h-25.37zM-105.2 1.57h3.39v3.39h-3.39zM20.41 1.57h15.95v3.39h-15.95zM23.55 4.71h6.53v3.39h-6.53zM17.27 14.13h6.53v3.39h-6.53zM10.99 17.27h15.95v3.39h-15.95zM7.85 20.41h19.09v3.39h-19.09zM4.71 23.55h22.23v3.39h-22.23zM4.71 26.69h22.23v3.39h-22.23zM4.71 29.83h22.23v3.39h-22.23zM4.71 32.97h19.09v3.39h-19.09zM7.85 36.11h12.81v3.39h-12.81z"/>
<path fill="#ffff80" d="M89.5 -54.96h15.95v3.39h-15.95zM86.36 -51.81h15.95v3.39h-15.95zM86.36 -48.67h15.95v3.39h-15.95zM83.22 -45.53h15.95v3.39h-15.95zM83.22 -42.39h12.81v3.39h-12.81zM80.08 -39.25h15.95v3.39h-15.95zM76.94 -36.11h15.95v3.39h-15.95zM76.94 -32.97h15.95v3.39h-15.95zM73.8 -29.83h15.95v3.39h-15.95zM70.66 -26.69h15.95v3.39h-15.95zM67.52 -23.55h15.95v3.39h-15.95zM64.38 -20.41h19.09v3.39h-19.09zM61.24 -17.27h19.09v3.39h-19.09zM58.1 -14.13h19.09v3.39h-19.09zM54.96 -10.99h19.09v3.39h-19.09zM-54.96 -7.85h28.51v3.39h-28.51zM-10.99 -7.85h12.81v3.39h-12.81zM51.81 -7.85h22.23v3.39h-22.23zM-73.8 -4.71h85.04v3.39h-85.04zM45.53 -4.71h25.37v3.39h-25.37zM-89.5 -1.57h34.79v3.39h-34.79zM-32.97 -1.57h50.49v3.39h-50.49zM42.39 -1.57h25.37v3.39h-25.37zM-102.06 1.57h34.79v3.39h-34.79zM-20.41 1.57h41.07v3.39h-41.07zM36.11 1.57h28.51v3.39h-28.51zM-105.2 4.71h28.51v3.39h-28.51zM-14.13 4.71h37.93v3.39h-37.93zM29.83 4.71h34.79v3.39h-34.79zM-105.2 7.85h19.09v3.39h-19.09zM-10.99 7.85h72.48v3.39h-72.48zM-105.2 10.99h9.67v3.39h-9.67zM-10.99 10.99h72.48v3.39h-72.48zM-105.2 14.13h3.39v3.39h-3.39zM-10.99 14.13h28.51v3.39h-28.51zM23.55 14.13h34.79v3.39h-34.79zM-10.99 17.27h22.23v3.39h-22.23zM26.69 17.27h31.65v3.39h-31.65zM-14.13 20.41h22.23v3.39h-22.23zM26.69 20.41h28.51v3.39h-28.51zM-14.13 23.55h19.09v3.39h-19.09zM26.69 23.55h28.51v3.39h-28.51zM-14.13 26.69h19.09v3.39h-19.09zM26.69 26.69h28.51v3.39h-28.51zM-14.13 29.83h19.09v3.39h-19.09zM26.69 29.83h25.37v3.39h-25.37zM-17.27 32.97h22.23v3.39h-22.23zM23.55 32.97h28.51v3.39h-28.51zM-17.27 36.11h25.37v3.39h-25.37zM20.41 36.11h28.51v3.39h-28.51zM-17.27 39.25h66.2v3.39h-66.2zM-17.27 42.39h63.06v3.39h-63.06zM-14.13 45.53h56.78v3.39h-56.78zM-14.13 48.67h53.64v3.39h-53.64zM-10.99 51.81h47.35v3.39h-47.35zM-10.99 54.96h44.21v3.39h-44.21zM-7.85 58.1h34.79v3.39h-34.79zM-4.71 61.24h28.51v3.39h-28.51zM-1.57 64.38h19.09v3.39h-19.09z"/>
<path fill="#ffffa0" d="M95.78 -42.39h9.67v3.39h-9.67zM95.78 -39.25h9.67v3.39h-9.67zM92.64 -36.11h12.81v3.39h-12.81zM92.64 -32.97h12.81v3.39h-12.81zM89.5 -29.83h15.95v3.39h-15.95zM86.36 -26.69h15.95v3.39h-15.95zM83.22 -23.55h19.09v3.39h-19.09zM83.22 -20.41h15.95v3.39h-15.95zM80.08 -17.27h15.95v3.39h-15.95zM76.94 -14.13h15.95v3.39h-15.95zM73.8 -10.99h19.09v3.39h-19.09zM73.8 -7.85h15.95v3.39h-15.95zM70.66 -4.71h15.95v3.39h-15.95zM-54.96 -1.57h22.23v3.39h-22.23zM67.52 -1.57h19.09v3.39h-19.09zM-67.52 1.57h47.35v3.39h-47.35zM64.38 1.57h19.09v3.39h-19.09zM-76.94 4.71h63.06v3.39h-63.06zM64.38 4.71h19.09v3.39h-19.09zM-86.36 7.85h31.65v3.39h-31.65zM-39.25 7.85h28.51v3.39h-28.51zM61.24 7.85h19.09v3.39h-19.09zM-95.78 10.99h31.65v3.39h-31.65zM-32.97 10.99h22.23v3.39h-22.23zM61.24 10.99h19.09v3.39h-19.09zM-102.06 14.13h31.65v3.39h-31.65zM-32.97 14.13h22.23v3.39h-22.23zM58.1 14.13h19.09v3.39h-19.09zM-105.2 17.27h28.51v3.39h-28.51zM-29.83 17.27h19.09v3.39h-19.09zM58.1 17.27h19.09v3.39h-19.09zM-105.2 20.41h25.37v3.39h-25.37zM-29.83 20.41h15.95v3.39h-15.95zM54.96 20.41h19.09v3.39h-19.09zM-105.2 23.55h22.23v3.39h-22.23zM-32.97 23.55h19.09v3.39h-19.09zM54.96 23.55h19.09v3.39h-19.09zM-105.2 26.69h15.95v3.39h-15.95zM-32.97 26.69h19.09v3.39h-19.09zM54.96 26.69h15.95v3.39h-15.95zM-105.2 29.83h12.81v3.39h-12.81zM-32.97 29.83h19.09v3.39h-19.09zM51.81 29.83h19.09v3.39h-19.09zM-36.11 32.97h19.09v3.39h-19.09zM51.81 32.97h15.95v3.39h-15.95zM-36.11 36.11h19.09v3.39h-19.09zM48.67 36.11h19.09v3.39h-19.09zM-36.11 39.25h19.09v3.39h-19.09zM48.67 39.25h15.95v3.39h-15.95zM-36.11 42.39h19.09v3.39h-19.09zM45.53 42.39h19.09v3.39h-19.09zM-36.11 45.53h22.23v3.39h-22.23zM42.39 45.53h19.09v3.39h-19.09zM-36.11 48.67h22.23v3.39h-22.23zM39.25 48.67h19.09v3.39h-19.09zM-32.97 51.81h22.23v3.39h-22.23zM36.11 51.81h19.09v3.39h-19.09zM-29.83 54.96h19.09v3.39h-19.09zM32.97 54.96h19.09v3.39h-19.09zM-26.69 58.1h19.09v3.39h-19.09zM26.69 58.1h22.23v3.39h-22.23zM-23.55 61.24h19.09v3.39h-19.09zM23.55 61.24h22.23v3.39h-22.23zM-20.41 64.38h19.09v3.39h-19.09zM17.27 64.38h25.37v3.39h-25.37zM-17.27 67.52h53.64v3.39h-53.64zM-14.13 70.66h47.35v3.39h-47.35zM-14.13 73.8h44.21v3.39h-44.21zM-10.99 76.94h34.79v3.39h-34.79zM-7.85 80.08h28.51v3.39h-28.51zM-7.85 83.22h25.37v3.39h-25.37zM-4.71 86.36h15.95v3.39h-15.95zM-1.57 89.5h6.53v3.39h-6.53z"/>
<path fill="#ffffc0" d="M102.06 -23.55h3.39v3.39h-3.39zM98.92 -20.41h6.53v3.39h-6.53zM95.78 -17.27h9.67v3.39h-9.67zM92.64 -14.13h12.81v3.39h-12.81zM92.64 -10.99h12.81v3.39h-12.81zM89.5 -7.85h15.95v3.39h-15.95zM86.36 -4.71h19.09v3.39h-19.09zM86.36 -1.57h15.95v3.39h-15.95zM83.22 1.57h19.09v3.39h-19.09zM83.22 4.71h15.95v3.39h-15.95zM-54.96 7.85h15.95v3.39h-15.95zM80.08 7.85h19.09v3.39h-19.09zM-64.38 10.99h31.65v3.39h-31.65zM80.08 10.99h15.95v3.39h-15.95zM-70.66 14.13h37.93v3.39h-37.93zM76.94 14.13h19.09v3.39h-19.09zM-76.94 17.27h47.35v3.39h-47.35zM76.94 17.27h15.95v3.39h-15.95zM-80.08 20.41h50.49v3.39h-50.49zM73.8 20.41h19.09v3.39h-19.09zM-83.22 23.55h50.49v3.39h-50.49zM73.8 23.55h15.95v3.39h-15.95zM-89.5 26.69h56.78v3.39h-56.78zM70.66 26.69h19.09v3.39h-19.09zM-92.64 29.83h59.92v3.39h-59.92zM70.66 29.83h15.95v3.39h-15.95zM-98.92 32.97h63.06v3.39h-63.06zM67.52 32.97h19.09v3.39h-19.09zM-105.2 36.11h69.34v3.39h-69.34zM67.52 36.11h15.95v3.39h-15.95zM-105.2 39.25h69.34v3.39h-69.34zM64.38 39.25h19.09v3.39h-19.09zM-105.2 42.39h69.34v3.39h-69.34zM64.38 42.39h15.95v3.39h-15.95zM-105.2 45.53h69.34v3.39h-69.34zM61.24 45.53h15.95v3.39h-15.95zM-105.2 48.67h69.34v3.39h-69.34zM58.1 48.67h19.09v3.39h-19.09zM-105.2 51.81h72.48v3.39h-72.48zM54.96 51.81h19.09v3.39h-19.09zM-105.2 54.96h75.62v3.39h-75.62zM51.81 54.96h19.09v3.39h-19.09zM-105.2 58.1h78.76v3.39h-78.76zM48.67 58.1h19.09v3.39h-19.09zM-51.81 61.24h28.51v3.39h-28.51zM45.53 61.24h19.09v3.39h-19.09zM-42.39 64.38h22.23v3.39h-22.23zM42.39 64.38h19.09v3.39h-19.09zM-36.11 67.52h19.09v3.39h-19.09zM36.11 67.52h19.09v3.39h-19.09zM-32.97 70.66h19.09v3.39h-19.09zM32.97 70.66h19.09v3.39h-19.09zM-26.69 73.8h12.81v3.39h-12.81zM29.83 73.8h19.09v3.39h-19.09zM-23.55 76.94h12.81v3.39h-12.81zM23.55 76.94h22.23v3.39h-22.23zM-20.41 80.08h12.81v3.39h-12.81zM20.41 80.08h22.23v3.39h-22.23zM-20.41 83.22h12.81v3.39h-12.81zM17.27 83.22h19.09v3.39h-19.09zM-17.27 86.36h12.81v3.39h-12.81zM10.99 86.36h22.23v3.39h-22.23zM-17.27 89.5h15.95v3.39h-15.95zM4.71 89.5h25.37v3.39h-25.37zM-14.13 92.64h41.07v3.39h-41.07zM-10.99 95.78h34.79v3.39h-34.79zM-7.85 98.92h25.37v3.39h-25.37zM-1.57 102.06h12.81v3.39h-12.81z"/>
<path fill="#ffffe0" d="M102.06 -1.57h3.39v3.39h-3.39zM102.06 1.57h3.39v3.39h-3.39zM98.92 4.71h6.53v3.39h-6.53zM98.92 7.85h6.53v3.39h-6.53zM95.78 10.99h9.67v3.39h-9.67zM95.78 14.13h9.67v3.39h-9.67zM92.64 17.27h12.81v3.39h-12.81zM92.64 20.41h12.81v3.39h-12.81zM89.5 23.55h15.95v3.39h-15.95zM89.5 26.69h15.95v3.39h-15.95zM86.36 29.83h19.09v3.39h-19.09zM86.36 32.97h15.95v3.39h-15.95zM83.22 36.11h15.95v3.39h-15.95zM83.22 39.25h15.95v3.39h-15.95zM80.08 42.39h15.95v3.39h-15.95zM76.94 45.53h19.09v3.39h-19.09zM76.94 48.67h15.95v3.39h-15.95zM73.8 51.81h15.95v3.39h-15.95zM70.66 54.96h19.09v3.39h-19.09zM67.52 58.1h19.09v3.39h-19.09zM-105.2 61.24h53.64v3.39h-53.64zM64.38 61.24h19.09v3.39h-19.09zM-105.2 64.38h63.06v3.39h-63.06zM61.24 64.38h19.09v3.39h-19.09zM-105.2 67.52h69.34v3.39h-69.34zM54.96 67.52h22.23v3.39h-22.23zM-105.2 70.66h72.48v3.39h-72.48zM51.81 70.66h22.23v3.39h-22.23zM-105.2 73.8h78.76v3.39h-78.76zM48.67 73.8h22.23v3.39h-22.23zM-105.2 76.94h37.93v3.39h-37.93zM-48.67 76.94h25.37v3.39h-25.37zM45.53 76.94h19.09v3.39h-19.09zM-39.25 80.08h19.09v3.39h-19.09zM42.39 80.08h19.09v3.39h-19.09zM-36.11 83.22h15.95v3.39h-15.95zM36.11 83.22h22.23v3.39h-22.23zM-32.97 86.36h15.95v3.39h-15.95zM32.97 86.36h22.23v3.39h-22.23zM-29.83 89.5h12.81v3.39h-12.81zM29.83 89.5h22.23v3.39h-22.23zM-26.69 92.64h12.81v3.39h-12.81zM26.69 92.64h22.23v3.39h-22.23zM-26.69 95.78h15.95v3.39h-15.95zM23.55 95.78h19.09v3.39h-19.09zM-23.55 98.92h15.95v3.39h-15.95zM17.27 98.92h22.23v3.39h-22.23zM-20.41 102.06h19.09v3.39h-19.09zM10.99 102.06h25.37v3.39h-25.37z"/>
</g>
<ellipse cx="0" cy="-0.5" rx="103.1" ry="103" fill="none" stroke="#000" stroke-width="5.4"/>
<path d="M-41.5 -86.5h32.4M-25.3 -102.7v32.4M-36.8 -98l23 23M-36.8 -75l23 -23M9.1 -86.5h32.4M25.3 -102.7v32.4M13.8 -98l23 23M13.8 -75l23 -23M-49.5 -44.7h32.4M-33.3 -60.9v32.4M-44.8 -56.2l23 23M-44.8 -33.2l23 -23M-16.2 -43.3h32.4M0 -59.5v32.4M-11.5 -54.8l23 23M-11.5 -31.8l23 -23M17.1 -44.7h32.4M33.3 -60.9v32.4M21.8 -56.2l23 23M21.8 -33.2l23 -23" stroke="#000" stroke-width="1.6" fill="none"/>
<g fill="none" stroke="#000" stroke-width="1.55"><circle cx="-41.5" cy="0" r="2.65"/><circle cx="0" cy="0" r="2.65"/><circle cx="41.5" cy="0" r="2.65"/><circle cx="-66.9" cy="51.3" r="2.65"/><circle cx="-33.4" cy="45" r="2.65"/><circle cx="0" cy="44.5" r="2.65"/><circle cx="33.4" cy="45" r="2.65"/><circle cx="66.9" cy="51.3" r="2.65"/><circle cx="-26" cy="85.2" r="2.65"/><circle cx="0" cy="89.6" r="2.65"/><circle cx="26" cy="85.2" r="2.65"/></g>
</g>
<clipPath id="calpha"><ellipse cx="0" cy="-0.5" rx="103.1" ry="103"/></clipPath>
<g transform="translate(1684.5 739.6)">
<path d="M-18.8 -102L-2.4 -116.9H2.4L18.8 -102" fill="#fff" stroke="#000" stroke-width="5.5" stroke-linejoin="miter"/>
<path d="M-100 -16.2H-107C-111 -16.2 -113 -14.5 -113.1 -9.5L-113.7 19L-110 26Q-108.8 28 -106 27.9L-100 27.9" fill="#fff" stroke="#000" stroke-width="5.6" stroke-linejoin="round"/>
<path d="M100 -16.2H107C111 -16.2 113 -14.5 113.1 -9.5L113.7 19L110 26Q108.8 28 106 27.9L100 27.9" fill="#fff" stroke="#000" stroke-width="5.6" stroke-linejoin="round"/>
<ellipse cx="0" cy="-0.5" rx="103.1" ry="103" fill="#fff"/>
<g clip-path="url(#calpha)" shape-rendering="crispEdges">
<path fill="#ff0000" d="M-29.83 -58.1h19.09v3.39h-19.09zM-32.97 -54.96h22.23v3.39h-22.23zM-36.11 -51.81h25.37v3.39h-25.37zM-36.11 -48.67h25.37v3.39h-25.37zM-29.83 -45.53h12.81v3.39h-12.81z"/>
<path fill="#ff1000" d="M-29.83 -64.38h19.09v3.39h-19.09zM-39.25 -61.24h34.79v3.39h-34.79zM-45.53 -58.1h15.95v3.39h-15.95zM-10.99 -58.1h6.53v3.39h-6.53zM-51.81 -54.96h19.09v3.39h-19.09zM-10.99 -54.96h6.53v3.39h-6.53zM-54.96 -51.81h19.09v3.39h-19.09zM-10.99 -51.81h6.53v3.39h-6.53zM-54.96 -48.67h19.09v3.39h-19.09zM-10.99 -48.67h6.53v3.39h-6.53zM-54.96 -45.53h25.37v3.39h-25.37zM-17.27 -45.53h9.67v3.39h-9.67zM-51.81 -42.39h41.07v3.39h-41.07zM-42.39 -39.25h22.23v3.39h-22.23z"/>
<path fill="#ff2000" d="M-23.55 -70.66h12.81v3.39h-12.81zM-36.11 -67.52h31.65v3.39h-31.65zM-45.53 -64.38h15.95v3.39h-15.95zM-10.99 -64.38h9.67v3.39h-9.67zM-54.96 -61.24h15.95v3.39h-15.95zM-4.71 -61.24h6.53v3.39h-6.53zM-58.1 -58.1h12.81v3.39h-12.81zM-4.71 -58.1h6.53v3.39h-6.53zM-61.24 -54.96h9.67v3.39h-9.67zM-4.71 -54.96h6.53v3.39h-6.53zM-64.38 -51.81h9.67v3.39h-9.67zM-4.71 -51.81h6.53v3.39h-6.53zM-64.38 -48.67h9.67v3.39h-9.67zM-4.71 -48.67h6.53v3.39h-6.53zM-64.38 -45.53h9.67v3.39h-9.67zM-7.85 -45.53h6.53v3.39h-6.53zM-64.38 -42.39h12.81v3.39h-12.81zM-10.99 -42.39h6.53v3.39h-6.53zM-61.24 -39.25h19.09v3.39h-19.09zM-20.41 -39.25h12.81v3.39h-12.81zM-58.1 -36.11h41.07v3.39h-41.07zM-45.53 -32.97h12.81v3.39h-12.81z"/>
<path fill="#ff3000" d="M-29.83 -73.8h28.51v3.39h-28.51zM-42.39 -70.66h19.09v3.39h-19.09zM-10.99 -70.66h12.81v3.39h-12.81zM-51.81 -67.52h15.95v3.39h-15.95zM-4.71 -67.52h9.67v3.39h-9.67zM-58.1 -64.38h12.81v3.39h-12.81zM-1.57 -64.38h6.53v3.39h-6.53zM-64.38 -61.24h9.67v3.39h-9.67zM1.57 -61.24h6.53v3.39h-6.53zM-70.66 -58.1h12.81v3.39h-12.81zM1.57 -58.1h6.53v3.39h-6.53zM-73.8 -54.96h12.81v3.39h-12.81zM1.57 -54.96h6.53v3.39h-6.53zM-73.8 -51.81h9.67v3.39h-9.67zM1.57 -51.81h6.53v3.39h-6.53zM-76.94 -48.67h12.81v3.39h-12.81zM1.57 -48.67h3.39v3.39h-3.39zM-76.94 -45.53h12.81v3.39h-12.81zM-1.57 -45.53h6.53v3.39h-6.53zM-76.94 -42.39h12.81v3.39h-12.81zM-4.71 -42.39h6.53v3.39h-6.53zM-76.94 -39.25h15.95v3.39h-15.95zM-7.85 -39.25h6.53v3.39h-6.53zM-73.8 -36.11h15.95v3.39h-15.95zM-17.27 -36.11h9.67v3.39h-9.67zM-70.66 -32.97h25.37v3.39h-25.37zM-32.97 -32.97h19.09v3.39h-19.09zM-64.38 -29.83h41.07v3.39h-41.07z"/>
<path fill="#ff4000" d="M-17.27 -80.08h19.09v3.39h-19.09zM-36.11 -76.94h41.07v3.39h-41.07zM-48.67 -73.8h19.09v3.39h-19.09zM-1.57 -73.8h9.67v3.39h-9.67zM-58.1 -70.66h15.95v3.39h-15.95zM1.57 -70.66h9.67v3.39h-9.67zM-67.52 -67.52h15.95v3.39h-15.95zM4.71 -67.52h6.53v3.39h-6.53zM-73.8 -64.38h15.95v3.39h-15.95zM4.71 -64.38h9.67v3.39h-9.67zM-76.94 -61.24h12.81v3.39h-12.81zM7.85 -61.24h6.53v3.39h-6.53zM-83.22 -58.1h12.81v3.39h-12.81zM7.85 -58.1h6.53v3.39h-6.53zM-83.22 -54.96h9.67v3.39h-9.67zM7.85 -54.96h6.53v3.39h-6.53zM-86.36 -51.81h12.81v3.39h-12.81zM7.85 -51.81h6.53v3.39h-6.53zM-89.5 -48.67h12.81v3.39h-12.81zM4.71 -48.67h6.53v3.39h-6.53zM-89.5 -45.53h12.81v3.39h-12.81zM4.71 -45.53h6.53v3.39h-6.53zM-89.5 -42.39h12.81v3.39h-12.81zM1.57 -42.39h6.53v3.39h-6.53zM-89.5 -39.25h12.81v3.39h-12.81zM-1.57 -39.25h6.53v3.39h-6.53zM-89.5 -36.11h15.95v3.39h-15.95zM-7.85 -36.11h9.67v3.39h-9.67zM-86.36 -32.97h15.95v3.39h-15.95zM-14.13 -32.97h9.67v3.39h-9.67zM-83.22 -29.83h19.09v3.39h-19.09zM-23.55 -29.83h9.67v3.39h-9.67zM-80.08 -26.69h59.92v3.39h-59.92zM-70.66 -23.55h37.93v3.39h-37.93zM-39.25 29.83h15.95v3.39h-15.95zM-39.25 32.97h19.09v3.39h-19.09zM-39.25 36.11h19.09v3.39h-19.09zM-39.25 39.25h19.09v3.39h-19.09zM-36.11 42.39h12.81v3.39h-12.81z"/>
<path fill="#ff5000" d="M-7.85 -89.5h9.67v3.39h-9.67zM-14.13 -86.36h22.23v3.39h-22.23zM-23.55 -83.22h34.79v3.39h-34.79zM-45.53 -80.08h28.51v3.39h-28.51zM1.57 -80.08h9.67v3.39h-9.67zM-54.96 -76.94h19.09v3.39h-19.09zM4.71 -76.94h9.67v3.39h-9.67zM-64.38 -73.8h15.95v3.39h-15.95zM7.85 -73.8h9.67v3.39h-9.67zM-76.94 -70.66h19.09v3.39h-19.09zM10.99 -70.66h6.53v3.39h-6.53zM-83.22 -67.52h15.95v3.39h-15.95zM10.99 -67.52h9.67v3.39h-9.67zM-89.5 -64.38h15.95v3.39h-15.95zM14.13 -64.38h6.53v3.39h-6.53zM-92.64 -61.24h15.95v3.39h-15.95zM14.13 -61.24h6.53v3.39h-6.53zM-95.78 -58.1h12.81v3.39h-12.81zM14.13 -58.1h6.53v3.39h-6.53zM-98.92 -54.96h15.95v3.39h-15.95zM14.13 -54.96h6.53v3.39h-6.53zM-102.06 -51.81h15.95v3.39h-15.95zM14.13 -51.81h6.53v3.39h-6.53zM-102.06 -48.67h12.81v3.39h-12.81zM10.99 -48.67h6.53v3.39h-6.53zM-102.06 -45.53h12.81v3.39h-12.81zM10.99 -45.53h6.53v3.39h-6.53zM-102.06 -42.39h12.81v3.39h-12.81zM7.85 -42.39h6.53v3.39h-6.53zM-102.06 -39.25h12.81v3.39h-12.81zM4.71 -39.25h9.67v3.39h-9.67zM-102.06 -36.11h12.81v3.39h-12.81zM1.57 -36.11h6.53v3.39h-6.53zM-102.06 -32.97h15.95v3.39h-15.95zM-4.71 -32.97h6.53v3.39h-6.53zM-98.92 -29.83h15.95v3.39h-15.95zM-14.13 -29.83h9.67v3.39h-9.67zM-98.92 -26.69h19.09v3.39h-19.09zM-20.41 -26.69h9.67v3.39h-9.67zM-95.78 -23.55h25.37v3.39h-25.37zM-32.97 -23.55h12.81v3.39h-12.81zM-89.5 -20.41h63.06v3.39h-63.06zM-80.08 -17.27h41.07v3.39h-41.07zM51.81 -17.27h19.09v3.39h-19.09zM48.67 -14.13h25.37v3.39h-25.37zM45.53 -10.99h31.65v3.39h-31.65zM42.39 -7.85h34.79v3.39h-34.79zM42.39 -4.71h34.79v3.39h-34.79zM42.39 -1.57h34.79v3.39h-34.79zM42.39 1.57h34.79v3.39h-34.79zM45.53 4.71h31.65v3.39h-31.65zM45.53 7.85h28.51v3.39h-28.51zM48.67 10.99h22.23v3.39h-22.23zM54.96 14.13h12.81v3.39h-12.81zM-39.25 23.55h15.95v3.39h-15.95zM-42.39 26.69h22.23v3.39h-22.23zM-45.53 29.83h6.53v3.39h-6.53zM-23.55 29.83h6.53v3.39h-6.53zM-45.53 32.97h6.53v3.39h-6.53zM-20.41 32.97h6.53v3.39h-6.53zM-45.53 36.11h6.53v3.39h-6.53zM-20.41 36.11h6.53v3.39h-6.53zM-45.53 39.25h6.53v3.39h-6.53zM-20.41 39.25h6.53v3.39h-6.53zM-42.39 42.39h6.53v3.39h-6.53zM-23.55 42.39h9.67v3.39h-9.67zM-39.25 45.53h22.23v3.39h-22.23zM-32.97 48.67h6.53v3.39h-6.53z"/>
<path fill="#ff6000" d="M-7.85 -98.92h15.95v3.39h-15.95zM-10.99 -95.78h22.23v3.39h-22.23zM-17.27 -92.64h31.65v3.39h-31.65zM-23.55 -89.5h15.95v3.39h-15.95zM1.57 -89.5h15.95v3.39h-15.95zM-39.25 -86.36h25.37v3.39h-25.37zM7.85 -86.36h9.67v3.39h-9.67zM-54.96 -83.22h31.65v3.39h-31.65zM10.99 -83.22h9.67v3.39h-9.67zM-67.52 -80.08h22.23v3.39h-22.23zM10.99 -80.08h9.67v3.39h-9.67zM-83.22 -76.94h28.51v3.39h-28.51zM14.13 -76.94h9.67v3.39h-9.67zM-92.64 -73.8h28.51v3.39h-28.51zM17.27 -73.8h9.67v3.39h-9.67zM-98.92 -70.66h22.23v3.39h-22.23zM17.27 -70.66h9.67v3.39h-9.67zM20.41 -67.52h6.53v3.39h-6.53zM20.41 -64.38h9.67v3.39h-9.67zM20.41 -61.24h9.67v3.39h-9.67zM20.41 -58.1h9.67v3.39h-9.67zM20.41 -54.96h9.67v3.39h-9.67zM20.41 -51.81h6.53v3.39h-6.53zM17.27 -48.67h9.67v3.39h-9.67zM17.27 -45.53h9.67v3.39h-9.67zM14.13 -42.39h9.67v3.39h-9.67zM14.13 -39.25h9.67v3.39h-9.67zM7.85 -36.11h12.81v3.39h-12.81zM1.57 -32.97h12.81v3.39h-12.81zM-105.2 -29.83h6.53v3.39h-6.53zM-4.71 -29.83h9.67v3.39h-9.67zM48.67 -29.83h22.23v3.39h-22.23zM-105.2 -26.69h6.53v3.39h-6.53zM-10.99 -26.69h9.67v3.39h-9.67zM42.39 -26.69h34.79v3.39h-34.79zM-105.2 -23.55h9.67v3.39h-9.67zM-20.41 -23.55h9.67v3.39h-9.67zM39.25 -23.55h44.21v3.39h-44.21zM-105.2 -20.41h15.95v3.39h-15.95zM-26.69 -20.41h9.67v3.39h-9.67zM39.25 -20.41h47.35v3.39h-47.35zM-105.2 -17.27h25.37v3.39h-25.37zM-39.25 -17.27h15.95v3.39h-15.95zM36.11 -17.27h15.95v3.39h-15.95zM70.66 -17.27h15.95v3.39h-15.95zM-98.92 -14.13h66.2v3.39h-66.2zM36.11 -14.13h12.81v3.39h-12.81zM73.8 -14.13h15.95v3.39h-15.95zM-92.64 -10.99h50.49v3.39h-50.49zM36.11 -10.99h9.67v3.39h-9.67zM76.94 -10.99h12.81v3.39h-12.81zM36.11 -7.85h6.53v3.39h-6.53zM76.94 -7.85h12.81v3.39h-12.81zM36.11 -4.71h6.53v3.39h-6.53zM76.94 -4.71h12.81v3.39h-12.81zM36.11 -1.57h6.53v3.39h-6.53zM76.94 -1.57h12.81v3.39h-12.81zM36.11 1.57h6.53v3.39h-6.53zM76.94 1.57h12.81v3.39h-12.81zM36.11 4.71h9.67v3.39h-9.67zM76.94 4.71h12.81v3.39h-12.81zM36.11 7.85h9.67v3.39h-9.67zM73.8 7.85h12.81v3.39h-12.81zM39.25 10.99h9.67v3.39h-9.67zM70.66 10.99h15.95v3.39h-15.95zM39.25 14.13h15.95v3.39h-15.95zM67.52 14.13h19.09v3.39h-19.09zM-42.39 17.27h15.95v3.39h-15.95zM42.39 17.27h41.07v3.39h-41.07zM-45.53 20.41h25.37v3.39h-25.37zM42.39 20.41h37.93v3.39h-37.93zM-48.67 23.55h9.67v3.39h-9.67zM-23.55 23.55h6.53v3.39h-6.53zM48.67 23.55h25.37v3.39h-25.37zM-48.67 26.69h6.53v3.39h-6.53zM-20.41 26.69h6.53v3.39h-6.53zM54.96 26.69h12.81v3.39h-12.81zM-48.67 29.83h3.39v3.39h-3.39zM-17.27 29.83h6.53v3.39h-6.53zM-48.67 32.97h3.39v3.39h-3.39zM-14.13 32.97h6.53v3.39h-6.53zM-48.67 36.11h3.39v3.39h-3.39zM-14.13 36.11h9.67v3.39h-9.67zM-48.67 39.25h3.39v3.39h-3.39zM-14.13 39.25h9.67v3.39h-9.67zM-45.53 42.39h3.39v3.39h-3.39zM-14.13 42.39h9.67v3.39h-9.67zM-42.39 45.53h3.39v3.39h-3.39zM-17.27 45.53h9.67v3.39h-9.67zM-39.25 48.67h6.53v3.39h-6.53zM-26.69 48.67h12.81v3.39h-12.81zM-32.97 51.81h9.67v3.39h-9.67z"/>
<path fill="#ff7000" d="M-14.13 -105.2h34.79v3.39h-34.79zM-17.27 -102.06h41.07v3.39h-41.07zM-20.41 -98.92h12.81v3.39h-12.81zM7.85 -98.92h19.09v3.39h-19.09zM-26.69 -95.78h15.95v3.39h-15.95zM10.99 -95.78h15.95v3.39h-15.95zM-42.39 -92.64h25.37v3.39h-25.37zM14.13 -92.64h15.95v3.39h-15.95zM-61.24 -89.5h37.93v3.39h-37.93zM17.27 -89.5h12.81v3.39h-12.81zM-86.36 -86.36h47.35v3.39h-47.35zM17.27 -86.36h15.95v3.39h-15.95zM-98.92 -83.22h44.21v3.39h-44.21zM20.41 -83.22h15.95v3.39h-15.95zM-105.2 -80.08h37.93v3.39h-37.93zM20.41 -80.08h19.09v3.39h-19.09zM23.55 -76.94h22.23v3.39h-22.23zM26.69 -73.8h25.37v3.39h-25.37zM54.96 -73.8h9.67v3.39h-9.67zM26.69 -70.66h37.93v3.39h-37.93zM26.69 -67.52h34.79v3.39h-34.79zM29.83 -64.38h28.51v3.39h-28.51zM29.83 -61.24h28.51v3.39h-28.51zM29.83 -58.1h28.51v3.39h-28.51zM29.83 -54.96h31.65v3.39h-31.65zM26.69 -51.81h37.93v3.39h-37.93zM26.69 -48.67h44.21v3.39h-44.21zM26.69 -45.53h56.78v3.39h-56.78zM23.55 -42.39h66.2v3.39h-66.2zM23.55 -39.25h72.48v3.39h-72.48zM20.41 -36.11h78.76v3.39h-78.76zM14.13 -32.97h85.04v3.39h-85.04zM4.71 -29.83h44.21v3.39h-44.21zM70.66 -29.83h31.65v3.39h-31.65zM-1.57 -26.69h44.21v3.39h-44.21zM76.94 -26.69h25.37v3.39h-25.37zM-10.99 -23.55h9.67v3.39h-9.67zM23.55 -23.55h15.95v3.39h-15.95zM83.22 -23.55h19.09v3.39h-19.09zM-17.27 -20.41h9.67v3.39h-9.67zM26.69 -20.41h12.81v3.39h-12.81zM86.36 -20.41h19.09v3.39h-19.09zM-23.55 -17.27h9.67v3.39h-9.67zM26.69 -17.27h9.67v3.39h-9.67zM86.36 -17.27h19.09v3.39h-19.09zM-105.2 -14.13h6.53v3.39h-6.53zM-32.97 -14.13h12.81v3.39h-12.81zM29.83 -14.13h6.53v3.39h-6.53zM89.5 -14.13h15.95v3.39h-15.95zM-105.2 -10.99h12.81v3.39h-12.81zM-42.39 -10.99h15.95v3.39h-15.95zM29.83 -10.99h6.53v3.39h-6.53zM89.5 -10.99h15.95v3.39h-15.95zM-105.2 -7.85h75.62v3.39h-75.62zM29.83 -7.85h6.53v3.39h-6.53zM89.5 -7.85h15.95v3.39h-15.95zM-102.06 -4.71h66.2v3.39h-66.2zM29.83 -4.71h6.53v3.39h-6.53zM89.5 -4.71h15.95v3.39h-15.95zM-92.64 -1.57h50.49v3.39h-50.49zM29.83 -1.57h6.53v3.39h-6.53zM89.5 -1.57h12.81v3.39h-12.81zM29.83 1.57h6.53v3.39h-6.53zM89.5 1.57h12.81v3.39h-12.81zM-42.39 4.71h3.39v3.39h-3.39zM29.83 4.71h6.53v3.39h-6.53zM89.5 4.71h12.81v3.39h-12.81zM-48.67 7.85h19.09v3.39h-19.09zM29.83 7.85h6.53v3.39h-6.53zM86.36 7.85h15.95v3.39h-15.95zM-48.67 10.99h22.23v3.39h-22.23zM32.97 10.99h6.53v3.39h-6.53zM86.36 10.99h12.81v3.39h-12.81zM-51.81 14.13h31.65v3.39h-31.65zM32.97 14.13h6.53v3.39h-6.53zM86.36 14.13h12.81v3.39h-12.81zM-51.81 17.27h9.67v3.39h-9.67zM-26.69 17.27h9.67v3.39h-9.67zM32.97 17.27h9.67v3.39h-9.67zM83.22 17.27h12.81v3.39h-12.81zM-51.81 20.41h6.53v3.39h-6.53zM-20.41 20.41h6.53v3.39h-6.53zM32.97 20.41h9.67v3.39h-9.67zM80.08 20.41h15.95v3.39h-15.95zM-54.96 23.55h6.53v3.39h-6.53zM-17.27 23.55h6.53v3.39h-6.53zM32.97 23.55h15.95v3.39h-15.95zM73.8 23.55h19.09v3.39h-19.09zM-54.96 26.69h6.53v3.39h-6.53zM-14.13 26.69h6.53v3.39h-6.53zM36.11 26.69h19.09v3.39h-19.09zM67.52 26.69h22.23v3.39h-22.23zM-54.96 29.83h6.53v3.39h-6.53zM-10.99 29.83h6.53v3.39h-6.53zM39.25 29.83h47.35v3.39h-47.35zM-54.96 32.97h6.53v3.39h-6.53zM-7.85 32.97h6.53v3.39h-6.53zM42.39 32.97h37.93v3.39h-37.93zM-54.96 36.11h6.53v3.39h-6.53zM-4.71 36.11h6.53v3.39h-6.53zM58.1 36.11h12.81v3.39h-12.81zM-54.96 39.25h6.53v3.39h-6.53zM-4.71 39.25h9.67v3.39h-9.67zM-51.81 42.39h6.53v3.39h-6.53zM-4.71 42.39h9.67v3.39h-9.67zM-48.67 45.53h6.53v3.39h-6.53zM-7.85 45.53h9.67v3.39h-9.67zM-45.53 48.67h6.53v3.39h-6.53zM-14.13 48.67h9.67v3.39h-9.67zM-39.25 51.81h6.53v3.39h-6.53zM-23.55 51.81h12.81v3.39h-12.81zM-29.83 54.96h9.67v3.39h-9.67z"/>
<path fill="#ff8000" d="M-32.97 -105.2h19.09v3.39h-19.09zM20.41 -105.2h85.04v3.39h-85.04zM-39.25 -102.06h22.23v3.39h-22.23zM23.55 -102.06h81.9v3.39h-81.9zM-61.24 -98.92h41.07v3.39h-41.07zM26.69 -98.92h78.76v3.39h-78.76zM-102.06 -95.78h75.62v3.39h-75.62zM26.69 -95.78h78.76v3.39h-78.76zM-105.2 -92.64h63.06v3.39h-63.06zM29.83 -92.64h75.62v3.39h-75.62zM29.83 -89.5h75.62v3.39h-75.62zM32.97 -86.36h72.48v3.39h-72.48zM36.11 -83.22h69.34v3.39h-69.34zM39.25 -80.08h66.2v3.39h-66.2zM45.53 -76.94h59.92v3.39h-59.92zM51.81 -73.8h3.39v3.39h-3.39zM64.38 -73.8h41.07v3.39h-41.07zM64.38 -70.66h41.07v3.39h-41.07zM61.24 -67.52h44.21v3.39h-44.21zM58.1 -64.38h47.35v3.39h-47.35zM58.1 -61.24h47.35v3.39h-47.35zM58.1 -58.1h47.35v3.39h-47.35zM61.24 -54.96h44.21v3.39h-44.21zM64.38 -51.81h41.07v3.39h-41.07zM70.66 -48.67h34.79v3.39h-34.79zM83.22 -45.53h22.23v3.39h-22.23zM89.5 -42.39h15.95v3.39h-15.95zM95.78 -39.25h9.67v3.39h-9.67zM98.92 -32.97h6.53v3.39h-6.53zM-1.57 -23.55h25.37v3.39h-25.37zM102.06 -23.55h3.39v3.39h-3.39zM-7.85 -20.41h12.81v3.39h-12.81zM10.99 -20.41h15.95v3.39h-15.95zM-14.13 -17.27h6.53v3.39h-6.53zM17.27 -17.27h9.67v3.39h-9.67zM-20.41 -14.13h6.53v3.39h-6.53zM20.41 -14.13h9.67v3.39h-9.67zM-26.69 -10.99h9.67v3.39h-9.67zM23.55 -10.99h6.53v3.39h-6.53zM-29.83 -7.85h9.67v3.39h-9.67zM23.55 -7.85h6.53v3.39h-6.53zM-105.2 -4.71h3.39v3.39h-3.39zM-36.11 -4.71h12.81v3.39h-12.81zM23.55 -4.71h6.53v3.39h-6.53zM-105.2 -1.57h12.81v3.39h-12.81zM-42.39 -1.57h19.09v3.39h-19.09zM23.55 -1.57h6.53v3.39h-6.53zM102.06 -1.57h3.39v3.39h-3.39zM-105.2 1.57h81.9v3.39h-81.9zM23.55 1.57h6.53v3.39h-6.53zM102.06 1.57h3.39v3.39h-3.39zM-102.06 4.71h59.92v3.39h-59.92zM-39.25 4.71h15.95v3.39h-15.95zM23.55 4.71h6.53v3.39h-6.53zM102.06 4.71h3.39v3.39h-3.39zM-70.66 7.85h22.23v3.39h-22.23zM-29.83 7.85h9.67v3.39h-9.67zM26.69 7.85h3.39v3.39h-3.39zM102.06 7.85h3.39v3.39h-3.39zM-64.38 10.99h15.95v3.39h-15.95zM-26.69 10.99h9.67v3.39h-9.67zM26.69 10.99h6.53v3.39h-6.53zM98.92 10.99h6.53v3.39h-6.53zM-61.24 14.13h9.67v3.39h-9.67zM-20.41 14.13h6.53v3.39h-6.53zM26.69 14.13h6.53v3.39h-6.53zM98.92 14.13h6.53v3.39h-6.53zM-61.24 17.27h9.67v3.39h-9.67zM-17.27 17.27h6.53v3.39h-6.53zM23.55 17.27h9.67v3.39h-9.67zM95.78 17.27h9.67v3.39h-9.67zM-61.24 20.41h9.67v3.39h-9.67zM-14.13 20.41h6.53v3.39h-6.53zM23.55 20.41h9.67v3.39h-9.67zM95.78 20.41h9.67v3.39h-9.67zM-61.24 23.55h6.53v3.39h-6.53zM-10.99 23.55h6.53v3.39h-6.53zM23.55 23.55h9.67v3.39h-9.67zM92.64 23.55h12.81v3.39h-12.81zM-61.24 26.69h6.53v3.39h-6.53zM-7.85 26.69h6.53v3.39h-6.53zM23.55 26.69h12.81v3.39h-12.81zM89.5 26.69h15.95v3.39h-15.95zM-61.24 29.83h6.53v3.39h-6.53zM-4.71 29.83h9.67v3.39h-9.67zM20.41 29.83h19.09v3.39h-19.09zM86.36 29.83h15.95v3.39h-15.95zM-61.24 32.97h6.53v3.39h-6.53zM-1.57 32.97h44.21v3.39h-44.21zM80.08 32.97h19.09v3.39h-19.09zM-61.24 36.11h6.53v3.39h-6.53zM1.57 36.11h56.78v3.39h-56.78zM70.66 36.11h22.23v3.39h-22.23zM-58.1 39.25h3.39v3.39h-3.39zM4.71 39.25h12.81v3.39h-12.81zM29.83 39.25h56.78v3.39h-56.78zM-58.1 42.39h6.53v3.39h-6.53zM4.71 42.39h9.67v3.39h-9.67zM48.67 42.39h31.65v3.39h-31.65zM-54.96 45.53h6.53v3.39h-6.53zM1.57 45.53h9.67v3.39h-9.67zM-51.81 48.67h6.53v3.39h-6.53zM-4.71 48.67h9.67v3.39h-9.67zM-45.53 51.81h6.53v3.39h-6.53zM-10.99 51.81h9.67v3.39h-9.67zM-39.25 54.96h9.67v3.39h-9.67zM-20.41 54.96h12.81v3.39h-12.81zM-29.83 58.1h9.67v3.39h-9.67z"/>
<path fill="#ff9000" d="M4.71 -20.41h6.53v3.39h-6.53zM-7.85 -17.27h25.37v3.39h-25.37zM-14.13 -14.13h9.67v3.39h-9.67zM10.99 -14.13h9.67v3.39h-9.67zM-17.27 -10.99h9.67v3.39h-9.67zM14.13 -10.99h9.67v3.39h-9.67zM-20.41 -7.85h6.53v3.39h-6.53zM17.27 -7.85h6.53v3.39h-6.53zM-23.55 -4.71h9.67v3.39h-9.67zM17.27 -4.71h6.53v3.39h-6.53zM-23.55 -1.57h6.53v3.39h-6.53zM17.27 -1.57h6.53v3.39h-6.53zM-23.55 1.57h6.53v3.39h-6.53zM20.41 1.57h3.39v3.39h-3.39zM-105.2 4.71h3.39v3.39h-3.39zM-23.55 4.71h9.67v3.39h-9.67zM20.41 4.71h3.39v3.39h-3.39zM-105.2 7.85h34.79v3.39h-34.79zM-20.41 7.85h6.53v3.39h-6.53zM20.41 7.85h6.53v3.39h-6.53zM-105.2 10.99h41.07v3.39h-41.07zM-17.27 10.99h6.53v3.39h-6.53zM20.41 10.99h6.53v3.39h-6.53zM-102.06 14.13h41.07v3.39h-41.07zM-14.13 14.13h6.53v3.39h-6.53zM17.27 14.13h9.67v3.39h-9.67zM-76.94 17.27h15.95v3.39h-15.95zM-10.99 17.27h6.53v3.39h-6.53zM17.27 17.27h6.53v3.39h-6.53zM-67.52 20.41h6.53v3.39h-6.53zM-7.85 20.41h6.53v3.39h-6.53zM14.13 20.41h9.67v3.39h-9.67zM-67.52 23.55h6.53v3.39h-6.53zM-4.71 23.55h28.51v3.39h-28.51zM-67.52 26.69h6.53v3.39h-6.53zM-1.57 26.69h25.37v3.39h-25.37zM-67.52 29.83h6.53v3.39h-6.53zM4.71 29.83h15.95v3.39h-15.95zM-67.52 32.97h6.53v3.39h-6.53zM-67.52 36.11h6.53v3.39h-6.53zM92.64 36.11h12.81v3.39h-12.81zM-67.52 39.25h9.67v3.39h-9.67zM17.27 39.25h12.81v3.39h-12.81zM86.36 39.25h19.09v3.39h-19.09zM-64.38 42.39h6.53v3.39h-6.53zM14.13 42.39h34.79v3.39h-34.79zM80.08 42.39h19.09v3.39h-19.09zM-61.24 45.53h6.53v3.39h-6.53zM10.99 45.53h81.9v3.39h-81.9zM-58.1 48.67h6.53v3.39h-6.53zM4.71 48.67h28.51v3.39h-28.51zM45.53 48.67h37.93v3.39h-37.93zM-51.81 51.81h6.53v3.39h-6.53zM-1.57 51.81h12.81v3.39h-12.81zM-45.53 54.96h6.53v3.39h-6.53zM-7.85 54.96h9.67v3.39h-9.67zM-39.25 58.1h9.67v3.39h-9.67zM-20.41 58.1h12.81v3.39h-12.81zM-29.83 61.24h12.81v3.39h-12.81z"/>
<path fill="#ffa000" d="M-4.71 -14.13h15.95v3.39h-15.95zM-7.85 -10.99h22.23v3.39h-22.23zM-14.13 -7.85h9.67v3.39h-9.67zM7.85 -7.85h9.67v3.39h-9.67zM-14.13 -4.71h6.53v3.39h-6.53zM10.99 -4.71h6.53v3.39h-6.53zM-17.27 -1.57h9.67v3.39h-9.67zM10.99 -1.57h6.53v3.39h-6.53zM-17.27 1.57h6.53v3.39h-6.53zM14.13 1.57h6.53v3.39h-6.53zM-14.13 4.71h6.53v3.39h-6.53zM14.13 4.71h6.53v3.39h-6.53zM-14.13 7.85h6.53v3.39h-6.53zM10.99 7.85h9.67v3.39h-9.67zM-10.99 10.99h6.53v3.39h-6.53zM10.99 10.99h9.67v3.39h-9.67zM-105.2 14.13h3.39v3.39h-3.39zM-7.85 14.13h9.67v3.39h-9.67zM7.85 14.13h9.67v3.39h-9.67zM-105.2 17.27h28.51v3.39h-28.51zM-4.71 17.27h22.23v3.39h-22.23zM-105.2 20.41h37.93v3.39h-37.93zM-1.57 20.41h15.95v3.39h-15.95zM-102.06 23.55h34.79v3.39h-34.79zM-92.64 26.69h25.37v3.39h-25.37zM-83.22 29.83h15.95v3.39h-15.95zM-80.08 32.97h12.81v3.39h-12.81zM-76.94 36.11h9.67v3.39h-9.67zM-76.94 39.25h9.67v3.39h-9.67zM-73.8 42.39h9.67v3.39h-9.67zM-70.66 45.53h9.67v3.39h-9.67zM92.64 45.53h12.81v3.39h-12.81zM-67.52 48.67h9.67v3.39h-9.67zM32.97 48.67h12.81v3.39h-12.81zM83.22 48.67h22.23v3.39h-22.23zM-61.24 51.81h9.67v3.39h-9.67zM10.99 51.81h88.18v3.39h-88.18zM-51.81 54.96h6.53v3.39h-6.53zM1.57 54.96h34.79v3.39h-34.79zM54.96 54.96h34.79v3.39h-34.79zM-45.53 58.1h6.53v3.39h-6.53zM-7.85 58.1h12.81v3.39h-12.81zM-36.11 61.24h6.53v3.39h-6.53zM-17.27 61.24h12.81v3.39h-12.81zM-26.69 64.38h12.81v3.39h-12.81z"/>
<path fill="#ffb000" d="M-4.71 -7.85h12.81v3.39h-12.81zM-7.85 -4.71h19.09v3.39h-19.09zM-7.85 -1.57h19.09v3.39h-19.09zM-10.99 1.57h25.37v3.39h-25.37zM-7.85 4.71h22.23v3.39h-22.23zM-7.85 7.85h19.09v3.39h-19.09zM-4.71 10.99h15.95v3.39h-15.95zM1.57 14.13h6.53v3.39h-6.53zM-105.2 26.69h12.81v3.39h-12.81zM-105.2 29.83h22.23v3.39h-22.23zM-105.2 32.97h25.37v3.39h-25.37zM-95.78 36.11h19.09v3.39h-19.09zM-89.5 39.25h12.81v3.39h-12.81zM-86.36 42.39h12.81v3.39h-12.81zM-80.08 45.53h9.67v3.39h-9.67zM-76.94 48.67h9.67v3.39h-9.67zM-73.8 51.81h12.81v3.39h-12.81zM-64.38 54.96h12.81v3.39h-12.81zM36.11 54.96h19.09v3.39h-19.09zM-51.81 58.1h6.53v3.39h-6.53zM4.71 58.1h100.74v3.39h-100.74zM-42.39 61.24h6.53v3.39h-6.53zM-4.71 61.24h37.93v3.39h-37.93zM61.24 61.24h31.65v3.39h-31.65zM-36.11 64.38h9.67v3.39h-9.67zM-14.13 64.38h9.67v3.39h-9.67zM-29.83 67.52h19.09v3.39h-19.09z"/>
<path fill="#ffc000" d="M-105.2 36.11h9.67v3.39h-9.67zM-105.2 39.25h15.95v3.39h-15.95zM-102.06 42.39h15.95v3.39h-15.95zM-95.78 45.53h15.95v3.39h-15.95zM-89.5 48.67h12.81v3.39h-12.81zM-83.22 51.81h9.67v3.39h-9.67zM-76.94 54.96h12.81v3.39h-12.81zM-67.52 58.1h15.95v3.39h-15.95zM-48.67 61.24h6.53v3.39h-6.53zM32.97 61.24h28.51v3.39h-28.51zM-42.39 64.38h6.53v3.39h-6.53zM-4.71 64.38h110.16v3.39h-110.16zM-39.25 67.52h9.67v3.39h-9.67zM-10.99 67.52h41.07v3.39h-41.07zM67.52 67.52h31.65v3.39h-31.65zM-29.83 70.66h25.37v3.39h-25.37z"/>
<path fill="#ffd000" d="M-105.2 48.67h15.95v3.39h-15.95zM-102.06 51.81h19.09v3.39h-19.09zM-92.64 54.96h15.95v3.39h-15.95zM-86.36 58.1h19.09v3.39h-19.09zM-73.8 61.24h25.37v3.39h-25.37zM-48.67 64.38h6.53v3.39h-6.53zM-42.39 67.52h3.39v3.39h-3.39zM29.83 67.52h37.93v3.39h-37.93zM-39.25 70.66h9.67v3.39h-9.67zM-4.71 70.66h110.16v3.39h-110.16zM-32.97 73.8h63.06v3.39h-63.06zM67.52 73.8h37.93v3.39h-37.93zM-20.41 76.94h28.51v3.39h-28.51z"/>
<path fill="#ffe000" d="M-105.2 58.1h19.09v3.39h-19.09zM-95.78 61.24h22.23v3.39h-22.23zM-83.22 64.38h34.79v3.39h-34.79zM-51.81 67.52h9.67v3.39h-9.67zM-45.53 70.66h6.53v3.39h-6.53zM-42.39 73.8h9.67v3.39h-9.67zM29.83 73.8h37.93v3.39h-37.93zM-36.11 76.94h15.95v3.39h-15.95zM7.85 76.94h97.6v3.39h-97.6zM-26.69 80.08h56.78v3.39h-56.78zM-14.13 83.22h28.51v3.39h-28.51zM-4.71 86.36h6.53v3.39h-6.53z"/>
<path fill="#fff000" d="M-95.78 67.52h44.21v3.39h-44.21zM-76.94 70.66h31.65v3.39h-31.65zM-48.67 73.8h6.53v3.39h-6.53zM-45.53 76.94h9.67v3.39h-9.67zM-39.25 80.08h12.81v3.39h-12.81zM29.83 80.08h37.93v3.39h-37.93zM-32.97 83.22h19.09v3.39h-19.09zM14.13 83.22h91.32v3.39h-91.32zM-23.55 86.36h19.09v3.39h-19.09zM1.57 86.36h28.51v3.39h-28.51zM-7.85 89.5h15.95v3.39h-15.95z"/>
<path fill="#ffff00" d="M-95.78 73.8h47.35v3.39h-47.35zM-64.38 76.94h19.09v3.39h-19.09zM-51.81 80.08h12.81v3.39h-12.81zM-45.53 83.22h12.81v3.39h-12.81zM-42.39 86.36h19.09v3.39h-19.09zM29.83 86.36h34.79v3.39h-34.79zM-32.97 89.5h25.37v3.39h-25.37zM7.85 89.5h97.6v3.39h-97.6zM-14.13 92.64h34.79v3.39h-34.79z"/>
<path fill="#ffff20" d="M-105.2 76.94h41.07v3.39h-41.07zM-98.92 80.08h47.35v3.39h-47.35zM-67.52 83.22h22.23v3.39h-22.23zM-54.96 86.36h12.81v3.39h-12.81zM-48.67 89.5h15.95v3.39h-15.95zM-42.39 92.64h28.51v3.39h-28.51zM20.41 92.64h37.93v3.39h-37.93zM-29.83 95.78h135.28v3.39h-135.28z"/>
<path fill="#ffff40" d="M-102.06 86.36h47.35v3.39h-47.35zM-70.66 89.5h22.23v3.39h-22.23zM-58.1 92.64h15.95v3.39h-15.95zM-48.67 95.78h19.09v3.39h-19.09zM-42.39 98.92h97.6v3.39h-97.6zM17.27 102.06h75.62v3.39h-75.62z"/>
<path fill="#ffff60" d="M-51.81 102.06h69.34v3.39h-69.34z"/>
</g>
<ellipse cx="0" cy="-0.5" rx="103.1" ry="103" fill="none" stroke="#000" stroke-width="5.4"/>
<path d="M-41.5 -86.5h32.4M-25.3 -102.7v32.4M-36.8 -98l23 23M-36.8 -75l23 -23M9.1 -86.5h32.4M25.3 -102.7v32.4M13.8 -98l23 23M13.8 -75l23 -23M-49.5 -44.7h32.4M-33.3 -60.9v32.4M-44.8 -56.2l23 23M-44.8 -33.2l23 -23M-16.2 -43.3h32.4M0 -59.5v32.4M-11.5 -54.8l23 23M-11.5 -31.8l23 -23M17.1 -44.7h32.4M33.3 -60.9v32.4M21.8 -56.2l23 23M21.8 -33.2l23 -23M-57.7 0h32.4M-41.5 -16.2v32.4M-53 -11.5l23 23M-53 11.5l23 -23M-16.2 0h32.4M0 -16.2v32.4M-11.5 -11.5l23 23M-11.5 11.5l23 -23M25.3 0h32.4M41.5 -16.2v32.4M30 -11.5l23 23M30 11.5l23 -23M-83.1 51.3h32.4M-66.9 35.1v32.4M-78.4 39.8l23 23M-78.4 62.8l23 -23M-49.6 45h32.4M-33.4 28.8v32.4M-44.9 33.5l23 23M-44.9 56.5l23 -23M-16.2 44.5h32.4M0 28.3v32.4M-11.5 33l23 23M-11.5 56l23 -23M17.2 45h32.4M33.4 28.8v32.4M21.9 33.5l23 23M21.9 56.5l23 -23M50.7 51.3h32.4M66.9 35.1v32.4M55.4 39.8l23 23M55.4 62.8l23 -23M-42.2 85.2h32.4M-26 69v32.4M-37.5 73.7l23 23M-37.5 96.7l23 -23M-16.2 89.6h32.4M0 73.4v32.4M-11.5 78.1l23 23M-11.5 101.1l23 -23M9.8 85.2h32.4M26 69v32.4M14.5 73.7l23 23M14.5 96.7l23 -23" stroke="#000" stroke-width="1.6" fill="none"/>
</g>
<clipPath id="cbeta1"><ellipse cx="0" cy="-0.5" rx="103.1" ry="103"/></clipPath>
<g transform="translate(1953.1 739.6)">
<path d="M-18.8 -102L-2.4 -116.9H2.4L18.8 -102" fill="#fff" stroke="#000" stroke-width="5.5" stroke-linejoin="miter"/>
<path d="M-100 -16.2H-107C-111 -16.2 -113 -14.5 -113.1 -9.5L-113.7 19L-110 26Q-108.8 28 -106 27.9L-100 27.9" fill="#fff" stroke="#000" stroke-width="5.6" stroke-linejoin="round"/>
<path d="M100 -16.2H107C111 -16.2 113 -14.5 113.1 -9.5L113.7 19L110 26Q108.8 28 106 27.9L100 27.9" fill="#fff" stroke="#000" stroke-width="5.6" stroke-linejoin="round"/>
<ellipse cx="0" cy="-0.5" rx="103.1" ry="103" fill="#fff"/>
<g clip-path="url(#cbeta1)" shape-rendering="crispEdges">
<path fill="#d00000" d="M-23.55 -51.81h12.81v3.39h-12.81zM-26.69 -48.67h19.09v3.39h-19.09zM-26.69 -45.53h19.09v3.39h-19.09zM-23.55 -42.39h12.81v3.39h-12.81z"/>
<path fill="#e00000" d="M-23.55 -58.1h15.95v3.39h-15.95zM-29.83 -54.96h25.37v3.39h-25.37zM-32.97 -51.81h9.67v3.39h-9.67zM-10.99 -51.81h9.67v3.39h-9.67zM-32.97 -48.67h6.53v3.39h-6.53zM-7.85 -48.67h6.53v3.39h-6.53zM-32.97 -45.53h6.53v3.39h-6.53zM-7.85 -45.53h6.53v3.39h-6.53zM-32.97 -42.39h9.67v3.39h-9.67zM-10.99 -42.39h6.53v3.39h-6.53zM-29.83 -39.25h25.37v3.39h-25.37zM-26.69 -36.11h15.95v3.39h-15.95z"/>
<path fill="#f00000" d="M-17.27 -64.38h6.53v3.39h-6.53zM-26.69 -61.24h22.23v3.39h-22.23zM-32.97 -58.1h9.67v3.39h-9.67zM-7.85 -58.1h6.53v3.39h-6.53zM-36.11 -54.96h6.53v3.39h-6.53zM-4.71 -54.96h3.39v3.39h-3.39zM-39.25 -51.81h6.53v3.39h-6.53zM-1.57 -51.81h3.39v3.39h-3.39zM-39.25 -48.67h6.53v3.39h-6.53zM-1.57 -48.67h3.39v3.39h-3.39zM-39.25 -45.53h6.53v3.39h-6.53zM-1.57 -45.53h3.39v3.39h-3.39zM-39.25 -42.39h6.53v3.39h-6.53zM-4.71 -42.39h6.53v3.39h-6.53zM-36.11 -39.25h6.53v3.39h-6.53zM-4.71 -39.25h3.39v3.39h-3.39zM-32.97 -36.11h6.53v3.39h-6.53zM-10.99 -36.11h6.53v3.39h-6.53zM-29.83 -32.97h22.23v3.39h-22.23z"/>
<path fill="#ff0000" d="M-23.55 -67.52h15.95v3.39h-15.95zM-29.83 -64.38h12.81v3.39h-12.81zM-10.99 -64.38h9.67v3.39h-9.67zM-36.11 -61.24h9.67v3.39h-9.67zM-4.71 -61.24h6.53v3.39h-6.53zM-39.25 -58.1h6.53v3.39h-6.53zM-1.57 -58.1h3.39v3.39h-3.39zM-42.39 -54.96h6.53v3.39h-6.53zM-1.57 -54.96h6.53v3.39h-6.53zM-42.39 -51.81h3.39v3.39h-3.39zM1.57 -51.81h3.39v3.39h-3.39zM-42.39 -48.67h3.39v3.39h-3.39zM1.57 -48.67h3.39v3.39h-3.39zM-45.53 -45.53h6.53v3.39h-6.53zM1.57 -45.53h3.39v3.39h-3.39zM-42.39 -42.39h3.39v3.39h-3.39zM1.57 -42.39h3.39v3.39h-3.39zM-42.39 -39.25h6.53v3.39h-6.53zM-1.57 -39.25h3.39v3.39h-3.39zM-39.25 -36.11h6.53v3.39h-6.53zM-4.71 -36.11h6.53v3.39h-6.53zM-36.11 -32.97h6.53v3.39h-6.53zM-7.85 -32.97h6.53v3.39h-6.53zM-32.97 -29.83h28.51v3.39h-28.51zM-26.69 -26.69h15.95v3.39h-15.95z"/>
<path fill="#ff1000" d="M-23.55 -70.66h19.09v3.39h-19.09zM-32.97 -67.52h9.67v3.39h-9.67zM-7.85 -67.52h6.53v3.39h-6.53zM-36.11 -64.38h6.53v3.39h-6.53zM-1.57 -64.38h3.39v3.39h-3.39zM-42.39 -61.24h6.53v3.39h-6.53zM1.57 -61.24h3.39v3.39h-3.39zM-45.53 -58.1h6.53v3.39h-6.53zM1.57 -58.1h3.39v3.39h-3.39zM-45.53 -54.96h3.39v3.39h-3.39zM4.71 -54.96h3.39v3.39h-3.39zM-48.67 -51.81h6.53v3.39h-6.53zM4.71 -51.81h3.39v3.39h-3.39zM-48.67 -48.67h6.53v3.39h-6.53zM4.71 -48.67h3.39v3.39h-3.39zM-48.67 -45.53h3.39v3.39h-3.39zM4.71 -45.53h3.39v3.39h-3.39zM-48.67 -42.39h6.53v3.39h-6.53zM4.71 -42.39h3.39v3.39h-3.39zM-48.67 -39.25h6.53v3.39h-6.53zM1.57 -39.25h3.39v3.39h-3.39zM-45.53 -36.11h6.53v3.39h-6.53zM1.57 -36.11h3.39v3.39h-3.39zM-42.39 -32.97h6.53v3.39h-6.53zM-1.57 -32.97h3.39v3.39h-3.39zM-39.25 -29.83h6.53v3.39h-6.53zM-4.71 -29.83h3.39v3.39h-3.39zM-36.11 -26.69h9.67v3.39h-9.67zM-10.99 -26.69h6.53v3.39h-6.53zM-26.69 -23.55h15.95v3.39h-15.95z"/>
<path fill="#ff2000" d="M-23.55 -73.8h22.23v3.39h-22.23zM-32.97 -70.66h9.67v3.39h-9.67zM-4.71 -70.66h6.53v3.39h-6.53zM-39.25 -67.52h6.53v3.39h-6.53zM-1.57 -67.52h6.53v3.39h-6.53zM-42.39 -64.38h6.53v3.39h-6.53zM1.57 -64.38h6.53v3.39h-6.53zM-45.53 -61.24h3.39v3.39h-3.39zM4.71 -61.24h3.39v3.39h-3.39zM-48.67 -58.1h3.39v3.39h-3.39zM4.71 -58.1h3.39v3.39h-3.39zM-51.81 -54.96h6.53v3.39h-6.53zM-51.81 -51.81h3.39v3.39h-3.39zM7.85 -51.81h3.39v3.39h-3.39zM-51.81 -48.67h3.39v3.39h-3.39zM7.85 -48.67h3.39v3.39h-3.39zM-54.96 -45.53h6.53v3.39h-6.53zM7.85 -45.53h3.39v3.39h-3.39zM-51.81 -42.39h3.39v3.39h-3.39zM-51.81 -39.25h3.39v3.39h-3.39zM4.71 -39.25h3.39v3.39h-3.39zM-51.81 -36.11h6.53v3.39h-6.53zM4.71 -36.11h3.39v3.39h-3.39zM-48.67 -32.97h6.53v3.39h-6.53zM1.57 -32.97h3.39v3.39h-3.39zM-45.53 -29.83h6.53v3.39h-6.53zM-1.57 -29.83h6.53v3.39h-6.53zM-42.39 -26.69h6.53v3.39h-6.53zM-4.71 -26.69h6.53v3.39h-6.53zM-36.11 -23.55h9.67v3.39h-9.67zM-10.99 -23.55h9.67v3.39h-9.67zM-29.83 -20.41h22.23v3.39h-22.23z"/>
<path fill="#ff3000" d="M-17.27 -80.08h15.95v3.39h-15.95zM-26.69 -76.94h28.51v3.39h-28.51zM-36.11 -73.8h12.81v3.39h-12.81zM-1.57 -73.8h6.53v3.39h-6.53zM-42.39 -70.66h9.67v3.39h-9.67zM1.57 -70.66h6.53v3.39h-6.53zM-45.53 -67.52h6.53v3.39h-6.53zM4.71 -67.52h3.39v3.39h-3.39zM-48.67 -64.38h6.53v3.39h-6.53zM7.85 -64.38h3.39v3.39h-3.39zM-51.81 -61.24h6.53v3.39h-6.53zM7.85 -61.24h3.39v3.39h-3.39zM-54.96 -58.1h6.53v3.39h-6.53zM7.85 -58.1h3.39v3.39h-3.39zM-54.96 -54.96h3.39v3.39h-3.39zM7.85 -54.96h3.39v3.39h-3.39zM-58.1 -51.81h6.53v3.39h-6.53zM-58.1 -48.67h6.53v3.39h-6.53zM-58.1 -45.53h3.39v3.39h-3.39zM-58.1 -42.39h6.53v3.39h-6.53zM7.85 -42.39h3.39v3.39h-3.39zM-58.1 -39.25h6.53v3.39h-6.53zM7.85 -39.25h3.39v3.39h-3.39zM-54.96 -36.11h3.39v3.39h-3.39zM7.85 -36.11h3.39v3.39h-3.39zM-54.96 -32.97h6.53v3.39h-6.53zM4.71 -32.97h3.39v3.39h-3.39zM-51.81 -29.83h6.53v3.39h-6.53zM4.71 -29.83h3.39v3.39h-3.39zM-48.67 -26.69h6.53v3.39h-6.53zM1.57 -26.69h3.39v3.39h-3.39zM-45.53 -23.55h9.67v3.39h-9.67zM-1.57 -23.55h3.39v3.39h-3.39zM-39.25 -20.41h9.67v3.39h-9.67zM-7.85 -20.41h6.53v3.39h-6.53zM-32.97 -17.27h28.51v3.39h-28.51z"/>
<path fill="#ff4000" d="M-10.99 -86.36h12.81v3.39h-12.81zM-20.41 -83.22h25.37v3.39h-25.37zM-26.69 -80.08h9.67v3.39h-9.67zM-1.57 -80.08h9.67v3.39h-9.67zM-36.11 -76.94h9.67v3.39h-9.67zM1.57 -76.94h6.53v3.39h-6.53zM-42.39 -73.8h6.53v3.39h-6.53zM4.71 -73.8h6.53v3.39h-6.53zM-48.67 -70.66h6.53v3.39h-6.53zM7.85 -70.66h3.39v3.39h-3.39zM-51.81 -67.52h6.53v3.39h-6.53zM7.85 -67.52h3.39v3.39h-3.39zM-54.96 -64.38h6.53v3.39h-6.53zM10.99 -64.38h3.39v3.39h-3.39zM-58.1 -61.24h6.53v3.39h-6.53zM10.99 -61.24h3.39v3.39h-3.39zM-58.1 -58.1h3.39v3.39h-3.39zM10.99 -58.1h3.39v3.39h-3.39zM-61.24 -54.96h6.53v3.39h-6.53zM10.99 -54.96h3.39v3.39h-3.39zM-61.24 -51.81h3.39v3.39h-3.39zM10.99 -51.81h3.39v3.39h-3.39zM-64.38 -48.67h6.53v3.39h-6.53zM10.99 -48.67h3.39v3.39h-3.39zM-64.38 -45.53h6.53v3.39h-6.53zM10.99 -45.53h3.39v3.39h-3.39zM-64.38 -42.39h6.53v3.39h-6.53zM10.99 -42.39h3.39v3.39h-3.39zM-64.38 -39.25h6.53v3.39h-6.53zM10.99 -39.25h3.39v3.39h-3.39zM-61.24 -36.11h6.53v3.39h-6.53zM10.99 -36.11h3.39v3.39h-3.39zM-61.24 -32.97h6.53v3.39h-6.53zM7.85 -32.97h3.39v3.39h-3.39zM-58.1 -29.83h6.53v3.39h-6.53zM7.85 -29.83h3.39v3.39h-3.39zM-54.96 -26.69h6.53v3.39h-6.53zM4.71 -26.69h3.39v3.39h-3.39zM-51.81 -23.55h6.53v3.39h-6.53zM1.57 -23.55h6.53v3.39h-6.53zM-45.53 -20.41h6.53v3.39h-6.53zM-1.57 -20.41h6.53v3.39h-6.53zM-39.25 -17.27h6.53v3.39h-6.53zM-4.71 -17.27h6.53v3.39h-6.53zM-32.97 -14.13h28.51v3.39h-28.51zM-26.69 -10.99h15.95v3.39h-15.95zM-10.99 29.83h12.81v3.39h-12.81zM-10.99 32.97h12.81v3.39h-12.81zM-10.99 36.11h12.81v3.39h-12.81zM-10.99 39.25h12.81v3.39h-12.81zM-7.85 42.39h9.67v3.39h-9.67z"/>
<path fill="#ff5000" d="M-7.85 -95.78h12.81v3.39h-12.81zM-14.13 -92.64h19.09v3.39h-19.09zM-17.27 -89.5h25.37v3.39h-25.37zM-20.41 -86.36h9.67v3.39h-9.67zM1.57 -86.36h6.53v3.39h-6.53zM-29.83 -83.22h9.67v3.39h-9.67zM4.71 -83.22h6.53v3.39h-6.53zM-39.25 -80.08h12.81v3.39h-12.81zM7.85 -80.08h3.39v3.39h-3.39zM-45.53 -76.94h9.67v3.39h-9.67zM7.85 -76.94h6.53v3.39h-6.53zM-51.81 -73.8h9.67v3.39h-9.67zM10.99 -73.8h3.39v3.39h-3.39zM-54.96 -70.66h6.53v3.39h-6.53zM10.99 -70.66h3.39v3.39h-3.39zM-58.1 -67.52h6.53v3.39h-6.53zM10.99 -67.52h3.39v3.39h-3.39zM-61.24 -64.38h6.53v3.39h-6.53zM14.13 -64.38h3.39v3.39h-3.39zM-64.38 -61.24h6.53v3.39h-6.53zM14.13 -61.24h3.39v3.39h-3.39zM-64.38 -58.1h6.53v3.39h-6.53zM14.13 -58.1h3.39v3.39h-3.39zM-67.52 -54.96h6.53v3.39h-6.53zM14.13 -54.96h3.39v3.39h-3.39zM-67.52 -51.81h6.53v3.39h-6.53zM14.13 -51.81h3.39v3.39h-3.39zM-67.52 -48.67h3.39v3.39h-3.39zM14.13 -48.67h3.39v3.39h-3.39zM-67.52 -45.53h3.39v3.39h-3.39zM14.13 -45.53h3.39v3.39h-3.39zM-67.52 -42.39h3.39v3.39h-3.39zM14.13 -42.39h3.39v3.39h-3.39zM-67.52 -39.25h3.39v3.39h-3.39zM14.13 -39.25h3.39v3.39h-3.39zM-67.52 -36.11h6.53v3.39h-6.53zM-64.38 -32.97h3.39v3.39h-3.39zM10.99 -32.97h3.39v3.39h-3.39zM-64.38 -29.83h6.53v3.39h-6.53zM10.99 -29.83h3.39v3.39h-3.39zM-61.24 -26.69h6.53v3.39h-6.53zM7.85 -26.69h6.53v3.39h-6.53zM-58.1 -23.55h6.53v3.39h-6.53zM7.85 -23.55h3.39v3.39h-3.39zM-51.81 -20.41h6.53v3.39h-6.53zM4.71 -20.41h3.39v3.39h-3.39zM-48.67 -17.27h9.67v3.39h-9.67zM1.57 -17.27h6.53v3.39h-6.53zM-42.39 -14.13h9.67v3.39h-9.67zM-4.71 -14.13h9.67v3.39h-9.67zM-36.11 -10.99h9.67v3.39h-9.67zM-10.99 -10.99h9.67v3.39h-9.67zM-29.83 -7.85h22.23v3.39h-22.23zM-20.41 -4.71h6.53v3.39h-6.53zM-10.99 20.41h9.67v3.39h-9.67zM-14.13 23.55h15.95v3.39h-15.95zM-17.27 26.69h22.23v3.39h-22.23zM-17.27 29.83h6.53v3.39h-6.53zM1.57 29.83h6.53v3.39h-6.53zM-17.27 32.97h6.53v3.39h-6.53zM1.57 32.97h6.53v3.39h-6.53zM-17.27 36.11h6.53v3.39h-6.53zM1.57 36.11h6.53v3.39h-6.53zM-17.27 39.25h6.53v3.39h-6.53zM1.57 39.25h6.53v3.39h-6.53zM-14.13 42.39h6.53v3.39h-6.53zM1.57 42.39h3.39v3.39h-3.39zM-10.99 45.53h12.81v3.39h-12.81z"/>
<path fill="#ff6000" d="M-7.85 -105.2h12.81v3.39h-12.81zM-10.99 -102.06h19.09v3.39h-19.09zM-14.13 -98.92h25.37v3.39h-25.37zM-17.27 -95.78h9.67v3.39h-9.67zM4.71 -95.78h6.53v3.39h-6.53zM-20.41 -92.64h6.53v3.39h-6.53zM4.71 -92.64h9.67v3.39h-9.67zM-26.69 -89.5h9.67v3.39h-9.67zM7.85 -89.5h6.53v3.39h-6.53zM-36.11 -86.36h15.95v3.39h-15.95zM7.85 -86.36h6.53v3.39h-6.53zM-42.39 -83.22h12.81v3.39h-12.81zM10.99 -83.22h3.39v3.39h-3.39zM-48.67 -80.08h9.67v3.39h-9.67zM10.99 -80.08h6.53v3.39h-6.53zM-54.96 -76.94h9.67v3.39h-9.67zM14.13 -76.94h3.39v3.39h-3.39zM-58.1 -73.8h6.53v3.39h-6.53zM14.13 -73.8h3.39v3.39h-3.39zM-61.24 -70.66h6.53v3.39h-6.53zM14.13 -70.66h3.39v3.39h-3.39zM-64.38 -67.52h6.53v3.39h-6.53zM14.13 -67.52h3.39v3.39h-3.39zM-67.52 -64.38h6.53v3.39h-6.53zM-70.66 -61.24h6.53v3.39h-6.53zM17.27 -61.24h3.39v3.39h-3.39zM-70.66 -58.1h6.53v3.39h-6.53zM17.27 -58.1h3.39v3.39h-3.39zM-73.8 -54.96h6.53v3.39h-6.53zM17.27 -54.96h3.39v3.39h-3.39zM-73.8 -51.81h6.53v3.39h-6.53zM17.27 -51.81h3.39v3.39h-3.39zM-73.8 -48.67h6.53v3.39h-6.53zM17.27 -48.67h3.39v3.39h-3.39zM-73.8 -45.53h6.53v3.39h-6.53zM17.27 -45.53h3.39v3.39h-3.39zM-73.8 -42.39h6.53v3.39h-6.53zM-73.8 -39.25h6.53v3.39h-6.53zM-73.8 -36.11h6.53v3.39h-6.53zM14.13 -36.11h3.39v3.39h-3.39zM-70.66 -32.97h6.53v3.39h-6.53zM14.13 -32.97h3.39v3.39h-3.39zM-70.66 -29.83h6.53v3.39h-6.53zM14.13 -29.83h3.39v3.39h-3.39zM-67.52 -26.69h6.53v3.39h-6.53zM14.13 -26.69h3.39v3.39h-3.39zM-64.38 -23.55h6.53v3.39h-6.53zM10.99 -23.55h3.39v3.39h-3.39zM-61.24 -20.41h9.67v3.39h-9.67zM7.85 -20.41h6.53v3.39h-6.53zM-54.96 -17.27h6.53v3.39h-6.53zM7.85 -17.27h3.39v3.39h-3.39zM-51.81 -14.13h9.67v3.39h-9.67zM4.71 -14.13h3.39v3.39h-3.39zM-45.53 -10.99h9.67v3.39h-9.67zM-1.57 -10.99h6.53v3.39h-6.53zM-39.25 -7.85h9.67v3.39h-9.67zM-7.85 -7.85h9.67v3.39h-9.67zM-32.97 -4.71h12.81v3.39h-12.81zM-14.13 -4.71h12.81v3.39h-12.81zM-29.83 -1.57h25.37v3.39h-25.37zM-23.55 1.57h15.95v3.39h-15.95zM-20.41 4.71h12.81v3.39h-12.81zM-20.41 7.85h15.95v3.39h-15.95zM-17.27 10.99h15.95v3.39h-15.95zM-20.41 14.13h22.23v3.39h-22.23zM-20.41 17.27h25.37v3.39h-25.37zM-20.41 20.41h9.67v3.39h-9.67zM-1.57 20.41h9.67v3.39h-9.67zM-23.55 23.55h9.67v3.39h-9.67zM1.57 23.55h6.53v3.39h-6.53zM-23.55 26.69h6.53v3.39h-6.53zM4.71 26.69h6.53v3.39h-6.53zM-23.55 29.83h6.53v3.39h-6.53zM7.85 29.83h3.39v3.39h-3.39zM-23.55 32.97h6.53v3.39h-6.53zM7.85 32.97h3.39v3.39h-3.39zM-23.55 36.11h6.53v3.39h-6.53zM7.85 36.11h3.39v3.39h-3.39zM-20.41 39.25h3.39v3.39h-3.39zM7.85 39.25h3.39v3.39h-3.39zM-20.41 42.39h6.53v3.39h-6.53zM4.71 42.39h3.39v3.39h-3.39zM-17.27 45.53h6.53v3.39h-6.53zM1.57 45.53h6.53v3.39h-6.53zM-14.13 48.67h19.09v3.39h-19.09z"/>
<path fill="#ff7000" d="M-20.41 -105.2h12.81v3.39h-12.81zM4.71 -105.2h9.67v3.39h-9.67zM-23.55 -102.06h12.81v3.39h-12.81zM7.85 -102.06h9.67v3.39h-9.67zM-26.69 -98.92h12.81v3.39h-12.81zM10.99 -98.92h6.53v3.39h-6.53zM-29.83 -95.78h12.81v3.39h-12.81zM10.99 -95.78h6.53v3.39h-6.53zM-32.97 -92.64h12.81v3.39h-12.81zM14.13 -92.64h3.39v3.39h-3.39zM-42.39 -89.5h15.95v3.39h-15.95zM14.13 -89.5h6.53v3.39h-6.53zM-48.67 -86.36h12.81v3.39h-12.81zM14.13 -86.36h6.53v3.39h-6.53zM-54.96 -83.22h12.81v3.39h-12.81zM14.13 -83.22h6.53v3.39h-6.53zM-58.1 -80.08h9.67v3.39h-9.67zM17.27 -80.08h3.39v3.39h-3.39zM-61.24 -76.94h6.53v3.39h-6.53zM17.27 -76.94h3.39v3.39h-3.39zM-64.38 -73.8h6.53v3.39h-6.53zM17.27 -73.8h3.39v3.39h-3.39zM-67.52 -70.66h6.53v3.39h-6.53zM17.27 -70.66h3.39v3.39h-3.39zM-70.66 -67.52h6.53v3.39h-6.53zM17.27 -67.52h3.39v3.39h-3.39zM-73.8 -64.38h6.53v3.39h-6.53zM17.27 -64.38h3.39v3.39h-3.39zM-76.94 -61.24h6.53v3.39h-6.53zM-76.94 -58.1h6.53v3.39h-6.53zM-80.08 -54.96h6.53v3.39h-6.53zM-80.08 -51.81h6.53v3.39h-6.53zM-80.08 -48.67h6.53v3.39h-6.53zM-80.08 -45.53h6.53v3.39h-6.53zM-80.08 -42.39h6.53v3.39h-6.53zM17.27 -42.39h3.39v3.39h-3.39zM-80.08 -39.25h6.53v3.39h-6.53zM17.27 -39.25h3.39v3.39h-3.39zM-80.08 -36.11h6.53v3.39h-6.53zM17.27 -36.11h3.39v3.39h-3.39zM-76.94 -32.97h6.53v3.39h-6.53zM17.27 -32.97h3.39v3.39h-3.39zM-76.94 -29.83h6.53v3.39h-6.53zM17.27 -29.83h3.39v3.39h-3.39zM-73.8 -26.69h6.53v3.39h-6.53zM17.27 -26.69h3.39v3.39h-3.39zM-70.66 -23.55h6.53v3.39h-6.53zM14.13 -23.55h3.39v3.39h-3.39zM-67.52 -20.41h6.53v3.39h-6.53zM14.13 -20.41h3.39v3.39h-3.39zM-64.38 -17.27h9.67v3.39h-9.67zM10.99 -17.27h6.53v3.39h-6.53zM-58.1 -14.13h6.53v3.39h-6.53zM7.85 -14.13h6.53v3.39h-6.53zM-54.96 -10.99h9.67v3.39h-9.67zM4.71 -10.99h9.67v3.39h-9.67zM-48.67 -7.85h9.67v3.39h-9.67zM1.57 -7.85h9.67v3.39h-9.67zM-42.39 -4.71h9.67v3.39h-9.67zM-1.57 -4.71h9.67v3.39h-9.67zM-36.11 -1.57h6.53v3.39h-6.53zM-4.71 -1.57h9.67v3.39h-9.67zM-32.97 1.57h9.67v3.39h-9.67zM-7.85 1.57h12.81v3.39h-12.81zM-32.97 4.71h12.81v3.39h-12.81zM-7.85 4.71h12.81v3.39h-12.81zM-29.83 7.85h9.67v3.39h-9.67zM-4.71 7.85h12.81v3.39h-12.81zM-29.83 10.99h12.81v3.39h-12.81zM-1.57 10.99h9.67v3.39h-9.67zM-29.83 14.13h9.67v3.39h-9.67zM1.57 14.13h9.67v3.39h-9.67zM-29.83 17.27h9.67v3.39h-9.67zM4.71 17.27h6.53v3.39h-6.53zM-29.83 20.41h9.67v3.39h-9.67zM7.85 20.41h3.39v3.39h-3.39zM-29.83 23.55h6.53v3.39h-6.53zM7.85 23.55h6.53v3.39h-6.53zM-29.83 26.69h6.53v3.39h-6.53zM10.99 26.69h3.39v3.39h-3.39zM-29.83 29.83h6.53v3.39h-6.53zM10.99 29.83h3.39v3.39h-3.39zM-26.69 32.97h3.39v3.39h-3.39zM10.99 32.97h3.39v3.39h-3.39zM-26.69 36.11h3.39v3.39h-3.39zM10.99 36.11h3.39v3.39h-3.39zM-26.69 39.25h6.53v3.39h-6.53zM10.99 39.25h3.39v3.39h-3.39zM-23.55 42.39h3.39v3.39h-3.39zM7.85 42.39h3.39v3.39h-3.39zM-23.55 45.53h6.53v3.39h-6.53zM7.85 45.53h3.39v3.39h-3.39zM-20.41 48.67h6.53v3.39h-6.53zM4.71 48.67h3.39v3.39h-3.39zM-17.27 51.81h22.23v3.39h-22.23z"/>
<path fill="#ff8000" d="M-32.97 -105.2h12.81v3.39h-12.81zM14.13 -105.2h9.67v3.39h-9.67zM-36.11 -102.06h12.81v3.39h-12.81zM17.27 -102.06h6.53v3.39h-6.53zM-39.25 -98.92h12.81v3.39h-12.81zM17.27 -98.92h6.53v3.39h-6.53zM-45.53 -95.78h15.95v3.39h-15.95zM17.27 -95.78h6.53v3.39h-6.53zM-51.81 -92.64h19.09v3.39h-19.09zM17.27 -92.64h6.53v3.39h-6.53zM-54.96 -89.5h12.81v3.39h-12.81zM20.41 -89.5h3.39v3.39h-3.39zM-61.24 -86.36h12.81v3.39h-12.81zM20.41 -86.36h3.39v3.39h-3.39zM-64.38 -83.22h9.67v3.39h-9.67zM20.41 -83.22h3.39v3.39h-3.39zM-67.52 -80.08h9.67v3.39h-9.67zM20.41 -80.08h3.39v3.39h-3.39zM-70.66 -76.94h9.67v3.39h-9.67zM20.41 -76.94h3.39v3.39h-3.39zM-73.8 -73.8h9.67v3.39h-9.67zM20.41 -73.8h3.39v3.39h-3.39zM-76.94 -70.66h9.67v3.39h-9.67zM20.41 -70.66h3.39v3.39h-3.39zM-80.08 -67.52h9.67v3.39h-9.67zM20.41 -67.52h3.39v3.39h-3.39zM-83.22 -64.38h9.67v3.39h-9.67zM20.41 -64.38h3.39v3.39h-3.39zM-83.22 -61.24h6.53v3.39h-6.53zM20.41 -61.24h3.39v3.39h-3.39zM-83.22 -58.1h6.53v3.39h-6.53zM20.41 -58.1h3.39v3.39h-3.39zM-86.36 -54.96h6.53v3.39h-6.53zM20.41 -54.96h3.39v3.39h-3.39zM-86.36 -51.81h6.53v3.39h-6.53zM20.41 -51.81h3.39v3.39h-3.39zM-86.36 -48.67h6.53v3.39h-6.53zM20.41 -48.67h3.39v3.39h-3.39zM-86.36 -45.53h6.53v3.39h-6.53zM20.41 -45.53h3.39v3.39h-3.39zM-86.36 -42.39h6.53v3.39h-6.53zM20.41 -42.39h3.39v3.39h-3.39zM-86.36 -39.25h6.53v3.39h-6.53zM20.41 -39.25h3.39v3.39h-3.39zM-86.36 -36.11h6.53v3.39h-6.53zM20.41 -36.11h3.39v3.39h-3.39zM-83.22 -32.97h6.53v3.39h-6.53zM20.41 -32.97h3.39v3.39h-3.39zM-83.22 -29.83h6.53v3.39h-6.53zM20.41 -29.83h3.39v3.39h-3.39zM-80.08 -26.69h6.53v3.39h-6.53zM20.41 -26.69h3.39v3.39h-3.39zM-76.94 -23.55h6.53v3.39h-6.53zM17.27 -23.55h6.53v3.39h-6.53zM-73.8 -20.41h6.53v3.39h-6.53zM17.27 -20.41h3.39v3.39h-3.39zM-70.66 -17.27h6.53v3.39h-6.53zM17.27 -17.27h3.39v3.39h-3.39zM-67.52 -14.13h9.67v3.39h-9.67zM14.13 -14.13h6.53v3.39h-6.53zM-61.24 -10.99h6.53v3.39h-6.53zM14.13 -10.99h6.53v3.39h-6.53zM-58.1 -7.85h9.67v3.39h-9.67zM10.99 -7.85h6.53v3.39h-6.53zM-51.81 -4.71h9.67v3.39h-9.67zM7.85 -4.71h9.67v3.39h-9.67zM-45.53 -1.57h9.67v3.39h-9.67zM4.71 -1.57h9.67v3.39h-9.67zM-42.39 1.57h9.67v3.39h-9.67zM4.71 1.57h9.67v3.39h-9.67zM-39.25 4.71h6.53v3.39h-6.53zM4.71 4.71h9.67v3.39h-9.67zM-39.25 7.85h9.67v3.39h-9.67zM7.85 7.85h6.53v3.39h-6.53zM-36.11 10.99h6.53v3.39h-6.53zM7.85 10.99h6.53v3.39h-6.53zM-36.11 14.13h6.53v3.39h-6.53zM10.99 14.13h6.53v3.39h-6.53zM-36.11 17.27h6.53v3.39h-6.53zM10.99 17.27h6.53v3.39h-6.53zM-36.11 20.41h6.53v3.39h-6.53zM10.99 20.41h6.53v3.39h-6.53zM-36.11 23.55h6.53v3.39h-6.53zM14.13 23.55h3.39v3.39h-3.39zM-32.97 26.69h3.39v3.39h-3.39zM14.13 26.69h3.39v3.39h-3.39zM-32.97 29.83h3.39v3.39h-3.39zM14.13 29.83h3.39v3.39h-3.39zM-32.97 32.97h6.53v3.39h-6.53zM14.13 32.97h3.39v3.39h-3.39zM-32.97 36.11h6.53v3.39h-6.53zM14.13 36.11h3.39v3.39h-3.39zM-29.83 39.25h3.39v3.39h-3.39zM-29.83 42.39h6.53v3.39h-6.53zM10.99 42.39h3.39v3.39h-3.39zM-26.69 45.53h3.39v3.39h-3.39zM10.99 45.53h3.39v3.39h-3.39zM-26.69 48.67h6.53v3.39h-6.53zM7.85 48.67h3.39v3.39h-3.39zM-23.55 51.81h6.53v3.39h-6.53zM4.71 51.81h3.39v3.39h-3.39zM-17.27 54.96h22.23v3.39h-22.23z"/>
<path fill="#ff9000" d="M23.55 -102.06h6.53v3.39h-6.53zM-54.96 -98.92h15.95v3.39h-15.95zM23.55 -98.92h6.53v3.39h-6.53zM-61.24 -95.78h15.95v3.39h-15.95zM23.55 -95.78h6.53v3.39h-6.53zM-64.38 -92.64h12.81v3.39h-12.81zM23.55 -92.64h6.53v3.39h-6.53zM-67.52 -89.5h12.81v3.39h-12.81zM23.55 -89.5h6.53v3.39h-6.53zM-73.8 -86.36h12.81v3.39h-12.81zM23.55 -86.36h6.53v3.39h-6.53zM-76.94 -83.22h12.81v3.39h-12.81zM23.55 -83.22h6.53v3.39h-6.53zM-80.08 -80.08h12.81v3.39h-12.81zM23.55 -80.08h6.53v3.39h-6.53zM-83.22 -76.94h12.81v3.39h-12.81zM23.55 -76.94h6.53v3.39h-6.53zM-83.22 -73.8h9.67v3.39h-9.67zM23.55 -73.8h6.53v3.39h-6.53zM-86.36 -70.66h9.67v3.39h-9.67zM23.55 -70.66h6.53v3.39h-6.53zM-89.5 -67.52h9.67v3.39h-9.67zM23.55 -67.52h3.39v3.39h-3.39zM-89.5 -64.38h6.53v3.39h-6.53zM23.55 -64.38h3.39v3.39h-3.39zM-92.64 -61.24h9.67v3.39h-9.67zM23.55 -61.24h3.39v3.39h-3.39zM-92.64 -58.1h9.67v3.39h-9.67zM23.55 -58.1h3.39v3.39h-3.39zM-92.64 -54.96h6.53v3.39h-6.53zM23.55 -54.96h3.39v3.39h-3.39zM-92.64 -51.81h6.53v3.39h-6.53zM23.55 -51.81h3.39v3.39h-3.39zM-92.64 -48.67h6.53v3.39h-6.53zM23.55 -48.67h3.39v3.39h-3.39zM-92.64 -45.53h6.53v3.39h-6.53zM23.55 -45.53h3.39v3.39h-3.39zM-92.64 -42.39h6.53v3.39h-6.53zM23.55 -42.39h3.39v3.39h-3.39zM-92.64 -39.25h6.53v3.39h-6.53zM23.55 -39.25h3.39v3.39h-3.39zM-92.64 -36.11h6.53v3.39h-6.53zM23.55 -36.11h3.39v3.39h-3.39zM-89.5 -32.97h6.53v3.39h-6.53zM23.55 -32.97h3.39v3.39h-3.39zM-89.5 -29.83h6.53v3.39h-6.53zM23.55 -29.83h3.39v3.39h-3.39zM-86.36 -26.69h6.53v3.39h-6.53zM23.55 -26.69h3.39v3.39h-3.39zM-86.36 -23.55h9.67v3.39h-9.67zM23.55 -23.55h3.39v3.39h-3.39zM-83.22 -20.41h9.67v3.39h-9.67zM20.41 -20.41h6.53v3.39h-6.53zM-80.08 -17.27h9.67v3.39h-9.67zM20.41 -17.27h6.53v3.39h-6.53zM-73.8 -14.13h6.53v3.39h-6.53zM20.41 -14.13h6.53v3.39h-6.53zM-70.66 -10.99h9.67v3.39h-9.67zM20.41 -10.99h3.39v3.39h-3.39zM-67.52 -7.85h9.67v3.39h-9.67zM17.27 -7.85h6.53v3.39h-6.53zM-61.24 -4.71h9.67v3.39h-9.67zM17.27 -4.71h6.53v3.39h-6.53zM-58.1 -1.57h12.81v3.39h-12.81zM14.13 -1.57h9.67v3.39h-9.67zM-51.81 1.57h9.67v3.39h-9.67zM14.13 1.57h6.53v3.39h-6.53zM-48.67 4.71h9.67v3.39h-9.67zM14.13 4.71h6.53v3.39h-6.53zM-45.53 7.85h6.53v3.39h-6.53zM14.13 7.85h6.53v3.39h-6.53zM-45.53 10.99h9.67v3.39h-9.67zM14.13 10.99h6.53v3.39h-6.53zM-42.39 14.13h6.53v3.39h-6.53zM17.27 14.13h3.39v3.39h-3.39zM-42.39 17.27h6.53v3.39h-6.53zM17.27 17.27h3.39v3.39h-3.39zM-42.39 20.41h6.53v3.39h-6.53zM17.27 20.41h3.39v3.39h-3.39zM-42.39 23.55h6.53v3.39h-6.53zM17.27 23.55h3.39v3.39h-3.39zM-39.25 26.69h6.53v3.39h-6.53zM17.27 26.69h3.39v3.39h-3.39zM-39.25 29.83h6.53v3.39h-6.53zM17.27 29.83h3.39v3.39h-3.39zM-39.25 32.97h6.53v3.39h-6.53zM17.27 32.97h3.39v3.39h-3.39zM-36.11 36.11h3.39v3.39h-3.39zM17.27 36.11h3.39v3.39h-3.39zM-36.11 39.25h6.53v3.39h-6.53zM14.13 39.25h3.39v3.39h-3.39zM-32.97 42.39h3.39v3.39h-3.39zM14.13 42.39h3.39v3.39h-3.39zM-32.97 45.53h6.53v3.39h-6.53zM-29.83 48.67h3.39v3.39h-3.39zM10.99 48.67h3.39v3.39h-3.39zM-26.69 51.81h3.39v3.39h-3.39zM7.85 51.81h3.39v3.39h-3.39zM-23.55 54.96h6.53v3.39h-6.53zM4.71 54.96h3.39v3.39h-3.39zM-20.41 58.1h25.37v3.39h-25.37z"/>
<path fill="#ffa000" d="M29.83 -102.06h6.53v3.39h-6.53zM29.83 -98.92h6.53v3.39h-6.53zM29.83 -95.78h6.53v3.39h-6.53zM29.83 -92.64h6.53v3.39h-6.53zM29.83 -89.5h3.39v3.39h-3.39zM29.83 -86.36h3.39v3.39h-3.39zM29.83 -83.22h3.39v3.39h-3.39zM29.83 -80.08h3.39v3.39h-3.39zM29.83 -76.94h3.39v3.39h-3.39zM29.83 -73.8h3.39v3.39h-3.39zM29.83 -70.66h3.39v3.39h-3.39zM26.69 -67.52h6.53v3.39h-6.53zM26.69 -64.38h3.39v3.39h-3.39zM26.69 -61.24h3.39v3.39h-3.39zM26.69 -58.1h3.39v3.39h-3.39zM26.69 -54.96h3.39v3.39h-3.39zM26.69 -51.81h3.39v3.39h-3.39zM-102.06 -48.67h9.67v3.39h-9.67zM26.69 -48.67h3.39v3.39h-3.39zM-102.06 -45.53h9.67v3.39h-9.67zM26.69 -45.53h3.39v3.39h-3.39zM-98.92 -42.39h6.53v3.39h-6.53zM26.69 -42.39h3.39v3.39h-3.39zM-98.92 -39.25h6.53v3.39h-6.53zM26.69 -39.25h3.39v3.39h-3.39zM-98.92 -36.11h6.53v3.39h-6.53zM26.69 -36.11h3.39v3.39h-3.39zM-98.92 -32.97h9.67v3.39h-9.67zM26.69 -32.97h3.39v3.39h-3.39zM-95.78 -29.83h6.53v3.39h-6.53zM26.69 -29.83h3.39v3.39h-3.39zM-95.78 -26.69h9.67v3.39h-9.67zM26.69 -26.69h3.39v3.39h-3.39zM-92.64 -23.55h6.53v3.39h-6.53zM26.69 -23.55h3.39v3.39h-3.39zM-89.5 -20.41h6.53v3.39h-6.53zM26.69 -20.41h3.39v3.39h-3.39zM-86.36 -17.27h6.53v3.39h-6.53zM26.69 -17.27h3.39v3.39h-3.39zM-83.22 -14.13h9.67v3.39h-9.67zM26.69 -14.13h3.39v3.39h-3.39zM-80.08 -10.99h9.67v3.39h-9.67zM23.55 -10.99h6.53v3.39h-6.53zM-73.8 -7.85h6.53v3.39h-6.53zM23.55 -7.85h6.53v3.39h-6.53zM-70.66 -4.71h9.67v3.39h-9.67zM23.55 -4.71h6.53v3.39h-6.53zM-67.52 -1.57h9.67v3.39h-9.67zM23.55 -1.57h6.53v3.39h-6.53zM-61.24 1.57h9.67v3.39h-9.67zM20.41 1.57h6.53v3.39h-6.53zM-58.1 4.71h9.67v3.39h-9.67zM20.41 4.71h6.53v3.39h-6.53zM-54.96 7.85h9.67v3.39h-9.67zM20.41 7.85h6.53v3.39h-6.53zM-51.81 10.99h6.53v3.39h-6.53zM20.41 10.99h6.53v3.39h-6.53zM-51.81 14.13h9.67v3.39h-9.67zM20.41 14.13h6.53v3.39h-6.53zM-48.67 17.27h6.53v3.39h-6.53zM20.41 17.27h6.53v3.39h-6.53zM-48.67 20.41h6.53v3.39h-6.53zM20.41 20.41h3.39v3.39h-3.39zM-48.67 23.55h6.53v3.39h-6.53zM20.41 23.55h3.39v3.39h-3.39zM-45.53 26.69h6.53v3.39h-6.53zM20.41 26.69h3.39v3.39h-3.39zM-45.53 29.83h6.53v3.39h-6.53zM20.41 29.83h3.39v3.39h-3.39zM-45.53 32.97h6.53v3.39h-6.53zM20.41 32.97h3.39v3.39h-3.39zM-42.39 36.11h6.53v3.39h-6.53zM-42.39 39.25h6.53v3.39h-6.53zM17.27 39.25h3.39v3.39h-3.39zM-39.25 42.39h6.53v3.39h-6.53zM17.27 42.39h3.39v3.39h-3.39zM-39.25 45.53h6.53v3.39h-6.53zM14.13 45.53h3.39v3.39h-3.39zM-36.11 48.67h6.53v3.39h-6.53zM14.13 48.67h3.39v3.39h-3.39zM-32.97 51.81h6.53v3.39h-6.53zM10.99 51.81h3.39v3.39h-3.39zM-29.83 54.96h6.53v3.39h-6.53zM7.85 54.96h3.39v3.39h-3.39zM-26.69 58.1h6.53v3.39h-6.53zM4.71 58.1h3.39v3.39h-3.39zM-20.41 61.24h25.37v3.39h-25.37zM-10.99 64.38h6.53v3.39h-6.53z"/>
<path fill="#ffb000" d="M36.11 -98.92h6.53v3.39h-6.53zM36.11 -95.78h6.53v3.39h-6.53zM36.11 -92.64h6.53v3.39h-6.53zM32.97 -89.5h6.53v3.39h-6.53zM32.97 -86.36h6.53v3.39h-6.53zM32.97 -83.22h6.53v3.39h-6.53zM32.97 -80.08h6.53v3.39h-6.53zM32.97 -76.94h6.53v3.39h-6.53zM32.97 -73.8h3.39v3.39h-3.39zM32.97 -70.66h3.39v3.39h-3.39zM32.97 -67.52h3.39v3.39h-3.39zM29.83 -64.38h6.53v3.39h-6.53zM29.83 -61.24h3.39v3.39h-3.39zM29.83 -58.1h3.39v3.39h-3.39zM29.83 -54.96h3.39v3.39h-3.39zM29.83 -51.81h3.39v3.39h-3.39zM29.83 -48.67h3.39v3.39h-3.39zM29.83 -42.39h3.39v3.39h-3.39zM29.83 -39.25h3.39v3.39h-3.39zM29.83 -36.11h3.39v3.39h-3.39zM-105.2 -32.97h6.53v3.39h-6.53zM29.83 -32.97h3.39v3.39h-3.39zM-102.06 -29.83h6.53v3.39h-6.53zM29.83 -29.83h3.39v3.39h-3.39zM-102.06 -26.69h6.53v3.39h-6.53zM29.83 -26.69h3.39v3.39h-3.39zM-98.92 -23.55h6.53v3.39h-6.53zM29.83 -23.55h6.53v3.39h-6.53zM-95.78 -20.41h6.53v3.39h-6.53zM29.83 -20.41h6.53v3.39h-6.53zM-95.78 -17.27h9.67v3.39h-9.67zM29.83 -17.27h6.53v3.39h-6.53zM-92.64 -14.13h9.67v3.39h-9.67zM29.83 -14.13h6.53v3.39h-6.53zM-86.36 -10.99h6.53v3.39h-6.53zM29.83 -10.99h6.53v3.39h-6.53zM-83.22 -7.85h9.67v3.39h-9.67zM29.83 -7.85h6.53v3.39h-6.53zM-80.08 -4.71h9.67v3.39h-9.67zM29.83 -4.71h6.53v3.39h-6.53zM-73.8 -1.57h6.53v3.39h-6.53zM29.83 -1.57h6.53v3.39h-6.53zM-70.66 1.57h9.67v3.39h-9.67zM26.69 1.57h6.53v3.39h-6.53zM-67.52 4.71h9.67v3.39h-9.67zM26.69 4.71h6.53v3.39h-6.53zM-64.38 7.85h9.67v3.39h-9.67zM26.69 7.85h6.53v3.39h-6.53zM-61.24 10.99h9.67v3.39h-9.67zM26.69 10.99h6.53v3.39h-6.53zM-58.1 14.13h6.53v3.39h-6.53zM26.69 14.13h3.39v3.39h-3.39zM-58.1 17.27h9.67v3.39h-9.67zM26.69 17.27h3.39v3.39h-3.39zM-54.96 20.41h6.53v3.39h-6.53zM23.55 20.41h6.53v3.39h-6.53zM-54.96 23.55h6.53v3.39h-6.53zM23.55 23.55h3.39v3.39h-3.39zM-51.81 26.69h6.53v3.39h-6.53zM23.55 26.69h3.39v3.39h-3.39zM-51.81 29.83h6.53v3.39h-6.53zM23.55 29.83h3.39v3.39h-3.39zM-51.81 32.97h6.53v3.39h-6.53zM23.55 32.97h3.39v3.39h-3.39zM-48.67 36.11h6.53v3.39h-6.53zM20.41 36.11h3.39v3.39h-3.39zM-48.67 39.25h6.53v3.39h-6.53zM20.41 39.25h3.39v3.39h-3.39zM-45.53 42.39h6.53v3.39h-6.53zM20.41 42.39h3.39v3.39h-3.39zM-42.39 45.53h3.39v3.39h-3.39zM17.27 45.53h3.39v3.39h-3.39zM-42.39 48.67h6.53v3.39h-6.53zM17.27 48.67h3.39v3.39h-3.39zM-39.25 51.81h6.53v3.39h-6.53zM14.13 51.81h3.39v3.39h-3.39zM-36.11 54.96h6.53v3.39h-6.53zM10.99 54.96h3.39v3.39h-3.39zM-32.97 58.1h6.53v3.39h-6.53zM7.85 58.1h6.53v3.39h-6.53zM-26.69 61.24h6.53v3.39h-6.53zM4.71 61.24h3.39v3.39h-3.39zM-23.55 64.38h12.81v3.39h-12.81zM-4.71 64.38h9.67v3.39h-9.67zM-14.13 67.52h12.81v3.39h-12.81z"/>
<path fill="#ffc000" d="M42.39 -95.78h6.53v3.39h-6.53zM42.39 -92.64h6.53v3.39h-6.53zM39.25 -89.5h9.67v3.39h-9.67zM39.25 -86.36h6.53v3.39h-6.53zM39.25 -83.22h6.53v3.39h-6.53zM39.25 -80.08h6.53v3.39h-6.53zM39.25 -76.94h3.39v3.39h-3.39zM36.11 -73.8h6.53v3.39h-6.53zM36.11 -70.66h6.53v3.39h-6.53zM36.11 -67.52h3.39v3.39h-3.39zM36.11 -64.38h3.39v3.39h-3.39zM32.97 -61.24h6.53v3.39h-6.53zM32.97 -58.1h3.39v3.39h-3.39zM32.97 -54.96h3.39v3.39h-3.39zM32.97 -51.81h3.39v3.39h-3.39zM32.97 -48.67h3.39v3.39h-3.39zM29.83 -45.53h6.53v3.39h-6.53zM32.97 -42.39h3.39v3.39h-3.39zM32.97 -39.25h3.39v3.39h-3.39zM32.97 -36.11h3.39v3.39h-3.39zM32.97 -32.97h3.39v3.39h-3.39zM32.97 -29.83h6.53v3.39h-6.53zM32.97 -26.69h6.53v3.39h-6.53zM-105.2 -23.55h6.53v3.39h-6.53zM36.11 -23.55h3.39v3.39h-3.39zM-105.2 -20.41h9.67v3.39h-9.67zM36.11 -20.41h6.53v3.39h-6.53zM-102.06 -17.27h6.53v3.39h-6.53zM36.11 -17.27h6.53v3.39h-6.53zM-98.92 -14.13h6.53v3.39h-6.53zM36.11 -14.13h6.53v3.39h-6.53zM-95.78 -10.99h9.67v3.39h-9.67zM36.11 -10.99h6.53v3.39h-6.53zM-92.64 -7.85h9.67v3.39h-9.67zM36.11 -7.85h6.53v3.39h-6.53zM-86.36 -4.71h6.53v3.39h-6.53zM36.11 -4.71h6.53v3.39h-6.53zM-83.22 -1.57h9.67v3.39h-9.67zM36.11 -1.57h6.53v3.39h-6.53zM-80.08 1.57h9.67v3.39h-9.67zM32.97 1.57h6.53v3.39h-6.53zM-76.94 4.71h9.67v3.39h-9.67zM32.97 4.71h6.53v3.39h-6.53zM-73.8 7.85h9.67v3.39h-9.67zM32.97 7.85h6.53v3.39h-6.53zM-70.66 10.99h9.67v3.39h-9.67zM32.97 10.99h3.39v3.39h-3.39zM-67.52 14.13h9.67v3.39h-9.67zM29.83 14.13h6.53v3.39h-6.53zM-64.38 17.27h6.53v3.39h-6.53zM29.83 17.27h3.39v3.39h-3.39zM-64.38 20.41h9.67v3.39h-9.67zM29.83 20.41h3.39v3.39h-3.39zM-61.24 23.55h6.53v3.39h-6.53zM26.69 23.55h6.53v3.39h-6.53zM-61.24 26.69h9.67v3.39h-9.67zM26.69 26.69h3.39v3.39h-3.39zM-58.1 29.83h6.53v3.39h-6.53zM26.69 29.83h3.39v3.39h-3.39zM-58.1 32.97h6.53v3.39h-6.53zM26.69 32.97h3.39v3.39h-3.39zM-54.96 36.11h6.53v3.39h-6.53zM23.55 36.11h3.39v3.39h-3.39zM-54.96 39.25h6.53v3.39h-6.53zM23.55 39.25h3.39v3.39h-3.39zM-51.81 42.39h6.53v3.39h-6.53zM-51.81 45.53h9.67v3.39h-9.67zM20.41 45.53h3.39v3.39h-3.39zM-48.67 48.67h6.53v3.39h-6.53zM20.41 48.67h3.39v3.39h-3.39zM-45.53 51.81h6.53v3.39h-6.53zM17.27 51.81h3.39v3.39h-3.39zM-42.39 54.96h6.53v3.39h-6.53zM14.13 54.96h3.39v3.39h-3.39zM-39.25 58.1h6.53v3.39h-6.53zM14.13 58.1h3.39v3.39h-3.39zM-32.97 61.24h6.53v3.39h-6.53zM7.85 61.24h6.53v3.39h-6.53zM-29.83 64.38h6.53v3.39h-6.53zM4.71 64.38h6.53v3.39h-6.53zM-23.55 67.52h9.67v3.39h-9.67zM-1.57 67.52h6.53v3.39h-6.53zM-17.27 70.66h19.09v3.39h-19.09z"/>
<path fill="#ffd000" d="M48.67 -92.64h6.53v3.39h-6.53zM48.67 -89.5h6.53v3.39h-6.53zM45.53 -86.36h9.67v3.39h-9.67zM45.53 -83.22h6.53v3.39h-6.53zM45.53 -80.08h6.53v3.39h-6.53zM42.39 -76.94h9.67v3.39h-9.67zM42.39 -73.8h6.53v3.39h-6.53zM42.39 -70.66h6.53v3.39h-6.53zM39.25 -67.52h6.53v3.39h-6.53zM39.25 -64.38h6.53v3.39h-6.53zM39.25 -61.24h3.39v3.39h-3.39zM36.11 -58.1h6.53v3.39h-6.53zM36.11 -54.96h6.53v3.39h-6.53zM36.11 -51.81h3.39v3.39h-3.39zM36.11 -48.67h3.39v3.39h-3.39zM36.11 -45.53h3.39v3.39h-3.39zM36.11 -42.39h3.39v3.39h-3.39zM36.11 -39.25h3.39v3.39h-3.39zM36.11 -36.11h6.53v3.39h-6.53zM36.11 -32.97h6.53v3.39h-6.53zM39.25 -29.83h6.53v3.39h-6.53zM39.25 -26.69h6.53v3.39h-6.53zM39.25 -23.55h6.53v3.39h-6.53zM42.39 -20.41h6.53v3.39h-6.53zM-105.2 -17.27h3.39v3.39h-3.39zM42.39 -17.27h6.53v3.39h-6.53zM-105.2 -14.13h6.53v3.39h-6.53zM42.39 -14.13h6.53v3.39h-6.53zM-102.06 -10.99h6.53v3.39h-6.53zM42.39 -10.99h6.53v3.39h-6.53zM-98.92 -7.85h6.53v3.39h-6.53zM42.39 -7.85h6.53v3.39h-6.53zM-95.78 -4.71h9.67v3.39h-9.67zM42.39 -4.71h6.53v3.39h-6.53zM-92.64 -1.57h9.67v3.39h-9.67zM42.39 -1.57h6.53v3.39h-6.53zM-86.36 1.57h6.53v3.39h-6.53zM39.25 1.57h6.53v3.39h-6.53zM-83.22 4.71h6.53v3.39h-6.53zM39.25 4.71h6.53v3.39h-6.53zM-80.08 7.85h6.53v3.39h-6.53zM39.25 7.85h6.53v3.39h-6.53zM-76.94 10.99h6.53v3.39h-6.53zM36.11 10.99h6.53v3.39h-6.53zM-73.8 14.13h6.53v3.39h-6.53zM36.11 14.13h6.53v3.39h-6.53zM-73.8 17.27h9.67v3.39h-9.67zM32.97 17.27h6.53v3.39h-6.53zM-70.66 20.41h6.53v3.39h-6.53zM32.97 20.41h3.39v3.39h-3.39zM-67.52 23.55h6.53v3.39h-6.53zM32.97 23.55h3.39v3.39h-3.39zM-67.52 26.69h6.53v3.39h-6.53zM29.83 26.69h6.53v3.39h-6.53zM-67.52 29.83h9.67v3.39h-9.67zM29.83 29.83h3.39v3.39h-3.39zM-64.38 32.97h6.53v3.39h-6.53zM29.83 32.97h3.39v3.39h-3.39zM-64.38 36.11h9.67v3.39h-9.67zM26.69 36.11h3.39v3.39h-3.39zM-61.24 39.25h6.53v3.39h-6.53zM26.69 39.25h3.39v3.39h-3.39zM-61.24 42.39h9.67v3.39h-9.67zM23.55 42.39h3.39v3.39h-3.39zM-58.1 45.53h6.53v3.39h-6.53zM23.55 45.53h3.39v3.39h-3.39zM-54.96 48.67h6.53v3.39h-6.53zM23.55 48.67h3.39v3.39h-3.39zM-51.81 51.81h6.53v3.39h-6.53zM20.41 51.81h3.39v3.39h-3.39zM-48.67 54.96h6.53v3.39h-6.53zM17.27 54.96h3.39v3.39h-3.39zM-45.53 58.1h6.53v3.39h-6.53zM17.27 58.1h3.39v3.39h-3.39zM-39.25 61.24h6.53v3.39h-6.53zM14.13 61.24h3.39v3.39h-3.39zM-36.11 64.38h6.53v3.39h-6.53zM10.99 64.38h3.39v3.39h-3.39zM-32.97 67.52h9.67v3.39h-9.67zM4.71 67.52h6.53v3.39h-6.53zM-26.69 70.66h9.67v3.39h-9.67zM1.57 70.66h6.53v3.39h-6.53zM-20.41 73.8h22.23v3.39h-22.23zM-14.13 76.94h12.81v3.39h-12.81z"/>
<path fill="#ffe000" d="M54.96 -89.5h9.67v3.39h-9.67zM54.96 -86.36h6.53v3.39h-6.53zM51.81 -83.22h9.67v3.39h-9.67zM51.81 -80.08h6.53v3.39h-6.53zM51.81 -76.94h6.53v3.39h-6.53zM48.67 -73.8h9.67v3.39h-9.67zM48.67 -70.66h6.53v3.39h-6.53zM45.53 -67.52h9.67v3.39h-9.67zM45.53 -64.38h6.53v3.39h-6.53zM42.39 -61.24h9.67v3.39h-9.67zM42.39 -58.1h6.53v3.39h-6.53zM42.39 -54.96h6.53v3.39h-6.53zM39.25 -51.81h6.53v3.39h-6.53zM39.25 -48.67h6.53v3.39h-6.53zM39.25 -45.53h6.53v3.39h-6.53zM39.25 -42.39h6.53v3.39h-6.53zM39.25 -39.25h9.67v3.39h-9.67zM42.39 -36.11h6.53v3.39h-6.53zM42.39 -32.97h6.53v3.39h-6.53zM45.53 -29.83h6.53v3.39h-6.53zM45.53 -26.69h6.53v3.39h-6.53zM45.53 -23.55h9.67v3.39h-9.67zM48.67 -20.41h6.53v3.39h-6.53zM48.67 -17.27h6.53v3.39h-6.53zM48.67 -14.13h6.53v3.39h-6.53zM-105.2 -10.99h3.39v3.39h-3.39zM48.67 -10.99h9.67v3.39h-9.67zM-105.2 -7.85h6.53v3.39h-6.53zM48.67 -7.85h6.53v3.39h-6.53zM-105.2 -4.71h9.67v3.39h-9.67zM48.67 -4.71h6.53v3.39h-6.53zM-102.06 -1.57h9.67v3.39h-9.67zM48.67 -1.57h6.53v3.39h-6.53zM-95.78 1.57h9.67v3.39h-9.67zM45.53 1.57h9.67v3.39h-9.67zM-92.64 4.71h9.67v3.39h-9.67zM45.53 4.71h6.53v3.39h-6.53zM-89.5 7.85h9.67v3.39h-9.67zM45.53 7.85h3.39v3.39h-3.39zM-86.36 10.99h9.67v3.39h-9.67zM42.39 10.99h6.53v3.39h-6.53zM-83.22 14.13h9.67v3.39h-9.67zM42.39 14.13h3.39v3.39h-3.39zM-80.08 17.27h6.53v3.39h-6.53zM39.25 17.27h6.53v3.39h-6.53zM-76.94 20.41h6.53v3.39h-6.53zM36.11 20.41h6.53v3.39h-6.53zM-76.94 23.55h9.67v3.39h-9.67zM36.11 23.55h3.39v3.39h-3.39zM-73.8 26.69h6.53v3.39h-6.53zM36.11 26.69h3.39v3.39h-3.39zM-73.8 29.83h6.53v3.39h-6.53zM32.97 29.83h3.39v3.39h-3.39zM-70.66 32.97h6.53v3.39h-6.53zM32.97 32.97h3.39v3.39h-3.39zM-70.66 36.11h6.53v3.39h-6.53zM29.83 36.11h3.39v3.39h-3.39zM-70.66 39.25h9.67v3.39h-9.67zM29.83 39.25h3.39v3.39h-3.39zM-67.52 42.39h6.53v3.39h-6.53zM26.69 42.39h3.39v3.39h-3.39zM-67.52 45.53h9.67v3.39h-9.67zM26.69 45.53h3.39v3.39h-3.39zM-64.38 48.67h9.67v3.39h-9.67zM-61.24 51.81h9.67v3.39h-9.67zM23.55 51.81h3.39v3.39h-3.39zM-58.1 54.96h9.67v3.39h-9.67zM20.41 54.96h6.53v3.39h-6.53zM-51.81 58.1h6.53v3.39h-6.53zM20.41 58.1h3.39v3.39h-3.39zM-48.67 61.24h9.67v3.39h-9.67zM17.27 61.24h3.39v3.39h-3.39zM-42.39 64.38h6.53v3.39h-6.53zM14.13 64.38h3.39v3.39h-3.39zM-39.25 67.52h6.53v3.39h-6.53zM10.99 67.52h3.39v3.39h-3.39zM-32.97 70.66h6.53v3.39h-6.53zM7.85 70.66h3.39v3.39h-3.39zM-29.83 73.8h9.67v3.39h-9.67zM1.57 73.8h6.53v3.39h-6.53zM-23.55 76.94h9.67v3.39h-9.67zM-1.57 76.94h6.53v3.39h-6.53zM-20.41 80.08h22.23v3.39h-22.23zM-14.13 83.22h15.95v3.39h-15.95zM-10.99 86.36h6.53v3.39h-6.53z"/>
<path fill="#fff000" d="M61.24 -86.36h9.67v3.39h-9.67zM61.24 -83.22h9.67v3.39h-9.67zM58.1 -80.08h9.67v3.39h-9.67zM58.1 -76.94h9.67v3.39h-9.67zM58.1 -73.8h6.53v3.39h-6.53zM54.96 -70.66h9.67v3.39h-9.67zM54.96 -67.52h6.53v3.39h-6.53zM51.81 -64.38h9.67v3.39h-9.67zM51.81 -61.24h6.53v3.39h-6.53zM48.67 -58.1h9.67v3.39h-9.67zM48.67 -54.96h9.67v3.39h-9.67zM45.53 -51.81h9.67v3.39h-9.67zM45.53 -48.67h9.67v3.39h-9.67zM45.53 -45.53h9.67v3.39h-9.67zM45.53 -42.39h9.67v3.39h-9.67zM48.67 -39.25h6.53v3.39h-6.53zM48.67 -36.11h9.67v3.39h-9.67zM48.67 -32.97h9.67v3.39h-9.67zM51.81 -29.83h9.67v3.39h-9.67zM51.81 -26.69h9.67v3.39h-9.67zM54.96 -23.55h6.53v3.39h-6.53zM54.96 -20.41h9.67v3.39h-9.67zM54.96 -17.27h9.67v3.39h-9.67zM54.96 -14.13h9.67v3.39h-9.67zM58.1 -10.99h6.53v3.39h-6.53zM54.96 -7.85h9.67v3.39h-9.67zM54.96 -4.71h9.67v3.39h-9.67zM-105.2 -1.57h3.39v3.39h-3.39zM54.96 -1.57h6.53v3.39h-6.53zM-105.2 1.57h9.67v3.39h-9.67zM54.96 1.57h6.53v3.39h-6.53zM-102.06 4.71h9.67v3.39h-9.67zM51.81 4.71h6.53v3.39h-6.53zM-98.92 7.85h9.67v3.39h-9.67zM48.67 7.85h6.53v3.39h-6.53zM-95.78 10.99h9.67v3.39h-9.67zM48.67 10.99h6.53v3.39h-6.53zM-92.64 14.13h9.67v3.39h-9.67zM45.53 14.13h6.53v3.39h-6.53zM-89.5 17.27h9.67v3.39h-9.67zM45.53 17.27h3.39v3.39h-3.39zM-86.36 20.41h9.67v3.39h-9.67zM42.39 20.41h6.53v3.39h-6.53zM-83.22 23.55h6.53v3.39h-6.53zM39.25 23.55h6.53v3.39h-6.53zM-80.08 26.69h6.53v3.39h-6.53zM39.25 26.69h3.39v3.39h-3.39zM-80.08 29.83h6.53v3.39h-6.53zM36.11 29.83h6.53v3.39h-6.53zM-76.94 32.97h6.53v3.39h-6.53zM36.11 32.97h3.39v3.39h-3.39zM-76.94 36.11h6.53v3.39h-6.53zM32.97 36.11h3.39v3.39h-3.39zM-76.94 39.25h6.53v3.39h-6.53zM32.97 39.25h3.39v3.39h-3.39zM-73.8 42.39h6.53v3.39h-6.53zM29.83 42.39h3.39v3.39h-3.39zM-73.8 45.53h6.53v3.39h-6.53zM29.83 45.53h3.39v3.39h-3.39zM-70.66 48.67h6.53v3.39h-6.53zM26.69 48.67h3.39v3.39h-3.39zM-70.66 51.81h9.67v3.39h-9.67zM26.69 51.81h3.39v3.39h-3.39zM-67.52 54.96h9.67v3.39h-9.67zM26.69 54.96h3.39v3.39h-3.39zM-61.24 58.1h9.67v3.39h-9.67zM23.55 58.1h3.39v3.39h-3.39zM-58.1 61.24h9.67v3.39h-9.67zM20.41 61.24h3.39v3.39h-3.39zM-51.81 64.38h9.67v3.39h-9.67zM17.27 64.38h3.39v3.39h-3.39zM-48.67 67.52h9.67v3.39h-9.67zM14.13 67.52h6.53v3.39h-6.53zM-42.39 70.66h9.67v3.39h-9.67zM10.99 70.66h6.53v3.39h-6.53zM-39.25 73.8h9.67v3.39h-9.67zM7.85 73.8h6.53v3.39h-6.53zM-32.97 76.94h9.67v3.39h-9.67zM4.71 76.94h6.53v3.39h-6.53zM-26.69 80.08h6.53v3.39h-6.53zM1.57 80.08h6.53v3.39h-6.53zM-23.55 83.22h9.67v3.39h-9.67zM1.57 83.22h3.39v3.39h-3.39zM-20.41 86.36h9.67v3.39h-9.67zM-4.71 86.36h9.67v3.39h-9.67zM-17.27 89.5h19.09v3.39h-19.09zM-17.27 92.64h15.95v3.39h-15.95z"/>
<path fill="#ffff00" d="M67.52 -80.08h9.67v3.39h-9.67zM67.52 -76.94h9.67v3.39h-9.67zM64.38 -73.8h9.67v3.39h-9.67zM64.38 -70.66h9.67v3.39h-9.67zM61.24 -67.52h12.81v3.39h-12.81zM61.24 -64.38h9.67v3.39h-9.67zM58.1 -61.24h12.81v3.39h-12.81zM58.1 -58.1h9.67v3.39h-9.67zM58.1 -54.96h9.67v3.39h-9.67zM54.96 -51.81h12.81v3.39h-12.81zM54.96 -48.67h12.81v3.39h-12.81zM54.96 -45.53h12.81v3.39h-12.81zM54.96 -42.39h12.81v3.39h-12.81zM54.96 -39.25h12.81v3.39h-12.81zM58.1 -36.11h9.67v3.39h-9.67zM58.1 -32.97h9.67v3.39h-9.67zM61.24 -29.83h9.67v3.39h-9.67zM61.24 -26.69h9.67v3.39h-9.67zM61.24 -23.55h9.67v3.39h-9.67zM64.38 -20.41h6.53v3.39h-6.53zM64.38 -17.27h9.67v3.39h-9.67zM64.38 -14.13h9.67v3.39h-9.67zM64.38 -10.99h9.67v3.39h-9.67zM64.38 -7.85h6.53v3.39h-6.53zM64.38 -4.71h6.53v3.39h-6.53zM61.24 -1.57h9.67v3.39h-9.67zM61.24 1.57h6.53v3.39h-6.53zM-105.2 4.71h3.39v3.39h-3.39zM58.1 4.71h6.53v3.39h-6.53zM-105.2 7.85h6.53v3.39h-6.53zM54.96 7.85h9.67v3.39h-9.67zM-105.2 10.99h9.67v3.39h-9.67zM54.96 10.99h6.53v3.39h-6.53zM-102.06 14.13h9.67v3.39h-9.67zM51.81 14.13h6.53v3.39h-6.53zM-98.92 17.27h9.67v3.39h-9.67zM48.67 17.27h6.53v3.39h-6.53zM-95.78 20.41h9.67v3.39h-9.67zM48.67 20.41h3.39v3.39h-3.39zM-92.64 23.55h9.67v3.39h-9.67zM45.53 23.55h6.53v3.39h-6.53zM-89.5 26.69h9.67v3.39h-9.67zM42.39 26.69h6.53v3.39h-6.53zM-86.36 29.83h6.53v3.39h-6.53zM42.39 29.83h3.39v3.39h-3.39zM-86.36 32.97h9.67v3.39h-9.67zM39.25 32.97h3.39v3.39h-3.39zM-83.22 36.11h6.53v3.39h-6.53zM36.11 36.11h6.53v3.39h-6.53zM-83.22 39.25h6.53v3.39h-6.53zM36.11 39.25h3.39v3.39h-3.39zM-80.08 42.39h6.53v3.39h-6.53zM32.97 42.39h3.39v3.39h-3.39zM-80.08 45.53h6.53v3.39h-6.53zM32.97 45.53h3.39v3.39h-3.39zM-80.08 48.67h9.67v3.39h-9.67zM29.83 48.67h6.53v3.39h-6.53zM-76.94 51.81h6.53v3.39h-6.53zM29.83 51.81h3.39v3.39h-3.39zM-73.8 54.96h6.53v3.39h-6.53zM29.83 54.96h3.39v3.39h-3.39zM-70.66 58.1h9.67v3.39h-9.67zM26.69 58.1h3.39v3.39h-3.39zM-67.52 61.24h9.67v3.39h-9.67zM23.55 61.24h6.53v3.39h-6.53zM-64.38 64.38h12.81v3.39h-12.81zM20.41 64.38h6.53v3.39h-6.53zM-58.1 67.52h9.67v3.39h-9.67zM20.41 67.52h3.39v3.39h-3.39zM-51.81 70.66h9.67v3.39h-9.67zM17.27 70.66h3.39v3.39h-3.39zM-45.53 73.8h6.53v3.39h-6.53zM14.13 73.8h3.39v3.39h-3.39zM-42.39 76.94h9.67v3.39h-9.67zM10.99 76.94h3.39v3.39h-3.39zM-36.11 80.08h9.67v3.39h-9.67zM7.85 80.08h3.39v3.39h-3.39zM-32.97 83.22h9.67v3.39h-9.67zM4.71 83.22h6.53v3.39h-6.53zM-29.83 86.36h9.67v3.39h-9.67zM4.71 86.36h3.39v3.39h-3.39zM-26.69 89.5h9.67v3.39h-9.67zM1.57 89.5h6.53v3.39h-6.53zM-26.69 92.64h9.67v3.39h-9.67zM-1.57 92.64h6.53v3.39h-6.53zM-23.55 95.78h25.37v3.39h-25.37zM-20.41 98.92h19.09v3.39h-19.09zM-14.13 102.06h6.53v3.39h-6.53z"/>
<path fill="#ffff20" d="M73.8 -73.8h12.81v3.39h-12.81zM73.8 -70.66h9.67v3.39h-9.67zM73.8 -67.52h9.67v3.39h-9.67zM70.66 -64.38h12.81v3.39h-12.81zM70.66 -61.24h9.67v3.39h-9.67zM67.52 -58.1h12.81v3.39h-12.81zM67.52 -54.96h12.81v3.39h-12.81zM67.52 -51.81h9.67v3.39h-9.67zM67.52 -48.67h9.67v3.39h-9.67zM67.52 -45.53h9.67v3.39h-9.67zM67.52 -42.39h9.67v3.39h-9.67zM67.52 -39.25h9.67v3.39h-9.67zM67.52 -36.11h9.67v3.39h-9.67zM67.52 -32.97h12.81v3.39h-12.81zM70.66 -29.83h9.67v3.39h-9.67zM70.66 -26.69h9.67v3.39h-9.67zM70.66 -23.55h9.67v3.39h-9.67zM70.66 -20.41h9.67v3.39h-9.67zM73.8 -17.27h6.53v3.39h-6.53zM73.8 -14.13h6.53v3.39h-6.53zM73.8 -10.99h6.53v3.39h-6.53zM70.66 -7.85h9.67v3.39h-9.67zM70.66 -4.71h6.53v3.39h-6.53zM70.66 -1.57h6.53v3.39h-6.53zM67.52 1.57h6.53v3.39h-6.53zM64.38 4.71h9.67v3.39h-9.67zM64.38 7.85h6.53v3.39h-6.53zM61.24 10.99h6.53v3.39h-6.53zM-105.2 14.13h3.39v3.39h-3.39zM58.1 14.13h6.53v3.39h-6.53zM-105.2 17.27h6.53v3.39h-6.53zM54.96 17.27h6.53v3.39h-6.53zM-105.2 20.41h9.67v3.39h-9.67zM51.81 20.41h6.53v3.39h-6.53zM-102.06 23.55h9.67v3.39h-9.67zM51.81 23.55h3.39v3.39h-3.39zM-98.92 26.69h9.67v3.39h-9.67zM48.67 26.69h6.53v3.39h-6.53zM-95.78 29.83h9.67v3.39h-9.67zM45.53 29.83h6.53v3.39h-6.53zM-95.78 32.97h9.67v3.39h-9.67zM42.39 32.97h6.53v3.39h-6.53zM-92.64 36.11h9.67v3.39h-9.67zM42.39 36.11h3.39v3.39h-3.39zM-89.5 39.25h6.53v3.39h-6.53zM39.25 39.25h6.53v3.39h-6.53zM-89.5 42.39h9.67v3.39h-9.67zM36.11 42.39h6.53v3.39h-6.53zM-86.36 45.53h6.53v3.39h-6.53zM36.11 45.53h3.39v3.39h-3.39zM-86.36 48.67h6.53v3.39h-6.53zM36.11 48.67h3.39v3.39h-3.39zM-83.22 51.81h6.53v3.39h-6.53zM32.97 51.81h3.39v3.39h-3.39zM-83.22 54.96h9.67v3.39h-9.67zM32.97 54.96h3.39v3.39h-3.39zM-80.08 58.1h9.67v3.39h-9.67zM29.83 58.1h6.53v3.39h-6.53zM-76.94 61.24h9.67v3.39h-9.67zM29.83 61.24h3.39v3.39h-3.39zM-73.8 64.38h9.67v3.39h-9.67zM26.69 64.38h3.39v3.39h-3.39zM-70.66 67.52h12.81v3.39h-12.81zM23.55 67.52h3.39v3.39h-3.39zM-64.38 70.66h12.81v3.39h-12.81zM20.41 70.66h3.39v3.39h-3.39zM-58.1 73.8h12.81v3.39h-12.81zM17.27 73.8h3.39v3.39h-3.39zM-51.81 76.94h9.67v3.39h-9.67zM14.13 76.94h3.39v3.39h-3.39zM-48.67 80.08h12.81v3.39h-12.81zM10.99 80.08h6.53v3.39h-6.53zM-45.53 83.22h12.81v3.39h-12.81zM10.99 83.22h3.39v3.39h-3.39zM-39.25 86.36h9.67v3.39h-9.67zM7.85 86.36h3.39v3.39h-3.39zM-36.11 89.5h9.67v3.39h-9.67zM7.85 89.5h3.39v3.39h-3.39zM-32.97 92.64h6.53v3.39h-6.53zM4.71 92.64h3.39v3.39h-3.39zM-32.97 95.78h9.67v3.39h-9.67zM1.57 95.78h6.53v3.39h-6.53zM-29.83 98.92h9.67v3.39h-9.67zM-1.57 98.92h6.53v3.39h-6.53zM-26.69 102.06h12.81v3.39h-12.81zM-7.85 102.06h9.67v3.39h-9.67z"/>
<path fill="#ffff40" d="M83.22 -64.38h9.67v3.39h-9.67zM80.08 -61.24h12.81v3.39h-12.81zM80.08 -58.1h12.81v3.39h-12.81zM80.08 -54.96h9.67v3.39h-9.67zM76.94 -51.81h12.81v3.39h-12.81zM76.94 -48.67h12.81v3.39h-12.81zM76.94 -45.53h12.81v3.39h-12.81zM76.94 -42.39h12.81v3.39h-12.81zM76.94 -39.25h12.81v3.39h-12.81zM76.94 -36.11h12.81v3.39h-12.81zM80.08 -32.97h9.67v3.39h-9.67zM80.08 -29.83h9.67v3.39h-9.67zM80.08 -26.69h9.67v3.39h-9.67zM80.08 -23.55h9.67v3.39h-9.67zM80.08 -20.41h9.67v3.39h-9.67zM80.08 -17.27h9.67v3.39h-9.67zM80.08 -14.13h6.53v3.39h-6.53zM80.08 -10.99h6.53v3.39h-6.53zM80.08 -7.85h6.53v3.39h-6.53zM76.94 -4.71h9.67v3.39h-9.67zM76.94 -1.57h6.53v3.39h-6.53zM73.8 1.57h9.67v3.39h-9.67zM73.8 4.71h6.53v3.39h-6.53zM70.66 7.85h6.53v3.39h-6.53zM67.52 10.99h6.53v3.39h-6.53zM64.38 14.13h6.53v3.39h-6.53zM61.24 17.27h6.53v3.39h-6.53zM58.1 20.41h6.53v3.39h-6.53zM54.96 23.55h6.53v3.39h-6.53zM-105.2 26.69h6.53v3.39h-6.53zM54.96 26.69h3.39v3.39h-3.39zM-105.2 29.83h9.67v3.39h-9.67zM51.81 29.83h3.39v3.39h-3.39zM-105.2 32.97h9.67v3.39h-9.67zM48.67 32.97h6.53v3.39h-6.53zM-102.06 36.11h9.67v3.39h-9.67zM45.53 36.11h6.53v3.39h-6.53zM-98.92 39.25h9.67v3.39h-9.67zM45.53 39.25h3.39v3.39h-3.39zM-98.92 42.39h9.67v3.39h-9.67zM42.39 42.39h3.39v3.39h-3.39zM-95.78 45.53h9.67v3.39h-9.67zM39.25 45.53h6.53v3.39h-6.53zM-95.78 48.67h9.67v3.39h-9.67zM39.25 48.67h3.39v3.39h-3.39zM-92.64 51.81h9.67v3.39h-9.67zM36.11 51.81h6.53v3.39h-6.53zM-89.5 54.96h6.53v3.39h-6.53zM36.11 54.96h3.39v3.39h-3.39zM-89.5 58.1h9.67v3.39h-9.67zM36.11 58.1h3.39v3.39h-3.39zM-86.36 61.24h9.67v3.39h-9.67zM32.97 61.24h3.39v3.39h-3.39zM-83.22 64.38h9.67v3.39h-9.67zM29.83 64.38h6.53v3.39h-6.53zM-80.08 67.52h9.67v3.39h-9.67zM26.69 67.52h6.53v3.39h-6.53zM-76.94 70.66h12.81v3.39h-12.81zM23.55 70.66h6.53v3.39h-6.53zM-70.66 73.8h12.81v3.39h-12.81zM20.41 73.8h6.53v3.39h-6.53zM-67.52 76.94h15.95v3.39h-15.95zM17.27 76.94h6.53v3.39h-6.53zM-61.24 80.08h12.81v3.39h-12.81zM17.27 80.08h3.39v3.39h-3.39zM-54.96 83.22h9.67v3.39h-9.67zM14.13 83.22h3.39v3.39h-3.39zM-51.81 86.36h12.81v3.39h-12.81zM10.99 86.36h6.53v3.39h-6.53zM-48.67 89.5h12.81v3.39h-12.81zM10.99 89.5h3.39v3.39h-3.39zM-45.53 92.64h12.81v3.39h-12.81zM7.85 92.64h6.53v3.39h-6.53zM-42.39 95.78h9.67v3.39h-9.67zM7.85 95.78h3.39v3.39h-3.39zM-39.25 98.92h9.67v3.39h-9.67zM4.71 98.92h6.53v3.39h-6.53zM1.57 102.06h6.53v3.39h-6.53z"/>
<path fill="#ffff60" d="M89.5 -54.96h12.81v3.39h-12.81zM89.5 -51.81h12.81v3.39h-12.81zM89.5 -48.67h9.67v3.39h-9.67zM89.5 -45.53h9.67v3.39h-9.67zM89.5 -42.39h9.67v3.39h-9.67zM89.5 -39.25h9.67v3.39h-9.67zM89.5 -36.11h9.67v3.39h-9.67zM89.5 -32.97h9.67v3.39h-9.67zM89.5 -29.83h6.53v3.39h-6.53zM89.5 -26.69h6.53v3.39h-6.53zM89.5 -23.55h6.53v3.39h-6.53zM89.5 -20.41h6.53v3.39h-6.53zM89.5 -17.27h6.53v3.39h-6.53zM86.36 -14.13h9.67v3.39h-9.67zM86.36 -10.99h9.67v3.39h-9.67zM86.36 -7.85h6.53v3.39h-6.53zM86.36 -4.71h6.53v3.39h-6.53zM83.22 -1.57h9.67v3.39h-9.67zM83.22 1.57h6.53v3.39h-6.53zM80.08 4.71h6.53v3.39h-6.53zM76.94 7.85h6.53v3.39h-6.53zM73.8 10.99h9.67v3.39h-9.67zM70.66 14.13h9.67v3.39h-9.67zM67.52 17.27h9.67v3.39h-9.67zM64.38 20.41h9.67v3.39h-9.67zM61.24 23.55h6.53v3.39h-6.53zM58.1 26.69h6.53v3.39h-6.53zM54.96 29.83h6.53v3.39h-6.53zM54.96 32.97h3.39v3.39h-3.39zM51.81 36.11h6.53v3.39h-6.53zM48.67 39.25h6.53v3.39h-6.53zM45.53 42.39h6.53v3.39h-6.53zM45.53 45.53h3.39v3.39h-3.39zM42.39 48.67h6.53v3.39h-6.53zM42.39 51.81h3.39v3.39h-3.39zM39.25 54.96h6.53v3.39h-6.53zM39.25 58.1h3.39v3.39h-3.39zM36.11 61.24h6.53v3.39h-6.53zM36.11 64.38h3.39v3.39h-3.39zM32.97 67.52h3.39v3.39h-3.39zM29.83 70.66h3.39v3.39h-3.39zM-83.22 73.8h12.81v3.39h-12.81zM26.69 73.8h3.39v3.39h-3.39zM-80.08 76.94h12.81v3.39h-12.81zM23.55 76.94h3.39v3.39h-3.39zM-76.94 80.08h15.95v3.39h-15.95zM20.41 80.08h3.39v3.39h-3.39zM-70.66 83.22h15.95v3.39h-15.95zM17.27 83.22h3.39v3.39h-3.39zM-67.52 86.36h15.95v3.39h-15.95zM17.27 86.36h3.39v3.39h-3.39zM-61.24 89.5h12.81v3.39h-12.81zM14.13 89.5h3.39v3.39h-3.39zM-58.1 92.64h12.81v3.39h-12.81zM14.13 92.64h3.39v3.39h-3.39zM10.99 95.78h3.39v3.39h-3.39zM10.99 98.92h3.39v3.39h-3.39zM7.85 102.06h3.39v3.39h-3.39z"/>
<path fill="#ffff80" d="M98.92 -32.97h6.53v3.39h-6.53zM95.78 -29.83h9.67v3.39h-9.67zM95.78 -26.69h9.67v3.39h-9.67zM95.78 -23.55h9.67v3.39h-9.67zM95.78 -20.41h9.67v3.39h-9.67zM95.78 -17.27h9.67v3.39h-9.67zM95.78 -14.13h6.53v3.39h-6.53zM95.78 -10.99h6.53v3.39h-6.53zM92.64 -7.85h9.67v3.39h-9.67zM92.64 -4.71h6.53v3.39h-6.53zM92.64 -1.57h6.53v3.39h-6.53zM89.5 1.57h6.53v3.39h-6.53zM86.36 4.71h9.67v3.39h-9.67zM83.22 7.85h9.67v3.39h-9.67zM83.22 10.99h6.53v3.39h-6.53zM80.08 14.13h6.53v3.39h-6.53zM76.94 17.27h6.53v3.39h-6.53zM73.8 20.41h6.53v3.39h-6.53zM67.52 23.55h9.67v3.39h-9.67zM64.38 26.69h9.67v3.39h-9.67zM61.24 29.83h9.67v3.39h-9.67zM58.1 32.97h6.53v3.39h-6.53zM58.1 36.11h3.39v3.39h-3.39zM54.96 39.25h6.53v3.39h-6.53zM51.81 42.39h6.53v3.39h-6.53zM48.67 45.53h6.53v3.39h-6.53zM48.67 48.67h3.39v3.39h-3.39zM45.53 51.81h6.53v3.39h-6.53zM45.53 54.96h3.39v3.39h-3.39zM42.39 58.1h6.53v3.39h-6.53zM42.39 61.24h6.53v3.39h-6.53zM39.25 64.38h6.53v3.39h-6.53zM36.11 67.52h6.53v3.39h-6.53zM32.97 70.66h6.53v3.39h-6.53zM29.83 73.8h6.53v3.39h-6.53zM26.69 76.94h6.53v3.39h-6.53zM23.55 80.08h3.39v3.39h-3.39zM20.41 83.22h3.39v3.39h-3.39zM20.41 86.36h3.39v3.39h-3.39zM17.27 89.5h3.39v3.39h-3.39zM17.27 92.64h3.39v3.39h-3.39zM14.13 95.78h6.53v3.39h-6.53zM14.13 98.92h3.39v3.39h-3.39zM10.99 102.06h6.53v3.39h-6.53z"/>
<path fill="#ffffa0" d="M102.06 -14.13h3.39v3.39h-3.39zM102.06 -10.99h3.39v3.39h-3.39zM102.06 -7.85h3.39v3.39h-3.39zM98.92 -4.71h6.53v3.39h-6.53zM98.92 -1.57h6.53v3.39h-6.53zM95.78 1.57h9.67v3.39h-9.67zM95.78 4.71h6.53v3.39h-6.53zM92.64 7.85h6.53v3.39h-6.53zM89.5 10.99h6.53v3.39h-6.53zM86.36 14.13h9.67v3.39h-9.67zM83.22 17.27h9.67v3.39h-9.67zM80.08 20.41h6.53v3.39h-6.53zM76.94 23.55h6.53v3.39h-6.53zM73.8 26.69h6.53v3.39h-6.53zM70.66 29.83h6.53v3.39h-6.53zM64.38 32.97h9.67v3.39h-9.67zM61.24 36.11h9.67v3.39h-9.67zM61.24 39.25h3.39v3.39h-3.39zM58.1 42.39h6.53v3.39h-6.53zM54.96 45.53h6.53v3.39h-6.53zM51.81 48.67h6.53v3.39h-6.53zM51.81 51.81h6.53v3.39h-6.53zM48.67 54.96h6.53v3.39h-6.53zM48.67 58.1h6.53v3.39h-6.53zM48.67 61.24h3.39v3.39h-3.39zM45.53 64.38h6.53v3.39h-6.53zM42.39 67.52h6.53v3.39h-6.53zM39.25 70.66h6.53v3.39h-6.53zM36.11 73.8h6.53v3.39h-6.53zM32.97 76.94h6.53v3.39h-6.53zM26.69 80.08h6.53v3.39h-6.53zM23.55 83.22h6.53v3.39h-6.53zM23.55 86.36h3.39v3.39h-3.39zM20.41 89.5h6.53v3.39h-6.53zM20.41 92.64h3.39v3.39h-3.39zM20.41 95.78h3.39v3.39h-3.39zM17.27 98.92h6.53v3.39h-6.53zM17.27 102.06h3.39v3.39h-3.39z"/>
<path fill="#ffffc0" d="M102.06 4.71h3.39v3.39h-3.39zM98.92 7.85h6.53v3.39h-6.53zM95.78 10.99h9.67v3.39h-9.67zM95.78 14.13h6.53v3.39h-6.53zM92.64 17.27h6.53v3.39h-6.53zM86.36 20.41h9.67v3.39h-9.67zM83.22 23.55h9.67v3.39h-9.67zM80.08 26.69h9.67v3.39h-9.67zM76.94 29.83h6.53v3.39h-6.53zM73.8 32.97h6.53v3.39h-6.53zM70.66 36.11h6.53v3.39h-6.53zM64.38 39.25h9.67v3.39h-9.67zM64.38 42.39h6.53v3.39h-6.53zM61.24 45.53h6.53v3.39h-6.53zM58.1 48.67h6.53v3.39h-6.53zM58.1 51.81h3.39v3.39h-3.39zM54.96 54.96h6.53v3.39h-6.53zM54.96 58.1h3.39v3.39h-3.39zM51.81 61.24h6.53v3.39h-6.53zM51.81 64.38h3.39v3.39h-3.39zM48.67 67.52h6.53v3.39h-6.53zM45.53 70.66h6.53v3.39h-6.53zM42.39 73.8h6.53v3.39h-6.53zM39.25 76.94h6.53v3.39h-6.53zM32.97 80.08h9.67v3.39h-9.67zM29.83 83.22h6.53v3.39h-6.53zM26.69 86.36h6.53v3.39h-6.53zM26.69 89.5h3.39v3.39h-3.39zM23.55 92.64h6.53v3.39h-6.53zM23.55 95.78h3.39v3.39h-3.39zM23.55 98.92h3.39v3.39h-3.39zM20.41 102.06h6.53v3.39h-6.53z"/>
<path fill="#ffffe0" d="M102.06 14.13h3.39v3.39h-3.39zM98.92 17.27h6.53v3.39h-6.53zM95.78 20.41h9.67v3.39h-9.67zM92.64 23.55h9.67v3.39h-9.67zM89.5 26.69h6.53v3.39h-6.53zM83.22 29.83h9.67v3.39h-9.67zM80.08 32.97h9.67v3.39h-9.67zM76.94 36.11h9.67v3.39h-9.67zM73.8 39.25h6.53v3.39h-6.53zM70.66 42.39h6.53v3.39h-6.53zM67.52 45.53h6.53v3.39h-6.53zM64.38 48.67h6.53v3.39h-6.53zM61.24 51.81h6.53v3.39h-6.53zM61.24 54.96h3.39v3.39h-3.39zM58.1 58.1h6.53v3.39h-6.53zM58.1 61.24h3.39v3.39h-3.39zM54.96 64.38h6.53v3.39h-6.53zM54.96 67.52h3.39v3.39h-3.39zM51.81 70.66h6.53v3.39h-6.53zM48.67 73.8h6.53v3.39h-6.53zM45.53 76.94h6.53v3.39h-6.53zM42.39 80.08h6.53v3.39h-6.53zM36.11 83.22h9.67v3.39h-9.67zM32.97 86.36h9.67v3.39h-9.67zM29.83 89.5h9.67v3.39h-9.67zM29.83 92.64h6.53v3.39h-6.53zM26.69 95.78h6.53v3.39h-6.53zM26.69 98.92h6.53v3.39h-6.53z"/>
</g>
<ellipse cx="0" cy="-0.5" rx="103.1" ry="103" fill="none" stroke="#000" stroke-width="5.4"/>
<path d="M-41.5 -86.5h32.4M-25.3 -102.7v32.4M-36.8 -98l23 23M-36.8 -75l23 -23M9.1 -86.5h32.4M25.3 -102.7v32.4M13.8 -98l23 23M13.8 -75l23 -23M-49.5 -44.7h32.4M-33.3 -60.9v32.4M-44.8 -56.2l23 23M-44.8 -33.2l23 -23M-16.2 -43.3h32.4M0 -59.5v32.4M-11.5 -54.8l23 23M-11.5 -31.8l23 -23M17.1 -44.7h32.4M33.3 -60.9v32.4M21.8 -56.2l23 23M21.8 -33.2l23 -23M-57.7 0h32.4M-41.5 -16.2v32.4M-53 -11.5l23 23M-53 11.5l23 -23M-16.2 0h32.4M0 -16.2v32.4M-11.5 -11.5l23 23M-11.5 11.5l23 -23M25.3 0h32.4M41.5 -16.2v32.4M30 -11.5l23 23M30 11.5l23 -23M-83.1 51.3h32.4M-66.9 35.1v32.4M-78.4 39.8l23 23M-78.4 62.8l23 -23M-49.6 45h32.4M-33.4 28.8v32.4M-44.9 33.5l23 23M-44.9 56.5l23 -23M-16.2 44.5h32.4M0 28.3v32.4M-11.5 33l23 23M-11.5 56l23 -23M17.2 45h32.4M33.4 28.8v32.4M21.9 33.5l23 23M21.9 56.5l23 -23M-42.2 85.2h32.4M-26 69v32.4M-37.5 73.7l23 23M-37.5 96.7l23 -23M-16.2 89.6h32.4M0 73.4v32.4M-11.5 78.1l23 23M-11.5 101.1l23 -23" stroke="#000" stroke-width="1.6" fill="none"/>
<g fill="none" stroke="#000" stroke-width="1.55"><circle cx="66.9" cy="51.3" r="2.65"/><circle cx="26" cy="85.2" r="2.65"/></g>
</g>
<clipPath id="cbeta2"><ellipse cx="0" cy="-0.5" rx="103.1" ry="103"/></clipPath>
<g transform="translate(2221.7 739.6)">
<path d="M-18.8 -102L-2.4 -116.9H2.4L18.8 -102" fill="#fff" stroke="#000" stroke-width="5.5" stroke-linejoin="miter"/>
<path d="M-100 -16.2H-107C-111 -16.2 -113 -14.5 -113.1 -9.5L-113.7 19L-110 26Q-108.8 28 -106 27.9L-100 27.9" fill="#fff" stroke="#000" stroke-width="5.6" stroke-linejoin="round"/>
<path d="M100 -16.2H107C111 -16.2 113 -14.5 113.1 -9.5L113.7 19L110 26Q108.8 28 106 27.9L100 27.9" fill="#fff" stroke="#000" stroke-width="5.6" stroke-linejoin="round"/>
<ellipse cx="0" cy="-0.5" rx="103.1" ry="103" fill="#fff"/>
<g clip-path="url(#cbeta2)" shape-rendering="crispEdges">
<path fill="#ff3000" d="M-10.99 -58.1h9.67v3.39h-9.67zM-14.13 -54.96h15.95v3.39h-15.95zM-14.13 -51.81h15.95v3.39h-15.95zM-14.13 -48.67h12.81v3.39h-12.81zM-10.99 -45.53h9.67v3.39h-9.67z"/>
<path fill="#ff4000" d="M-7.85 -64.38h3.39v3.39h-3.39zM-14.13 -61.24h15.95v3.39h-15.95zM-17.27 -58.1h6.53v3.39h-6.53zM-1.57 -58.1h6.53v3.39h-6.53zM-17.27 -54.96h3.39v3.39h-3.39zM1.57 -54.96h3.39v3.39h-3.39zM-17.27 -51.81h3.39v3.39h-3.39zM1.57 -51.81h3.39v3.39h-3.39zM-17.27 -48.67h3.39v3.39h-3.39zM-1.57 -48.67h6.53v3.39h-6.53zM-17.27 -45.53h6.53v3.39h-6.53zM-1.57 -45.53h6.53v3.39h-6.53zM-14.13 -42.39h15.95v3.39h-15.95zM-10.99 -39.25h9.67v3.39h-9.67z"/>
<path fill="#ff5000" d="M-10.99 -67.52h9.67v3.39h-9.67zM-14.13 -64.38h6.53v3.39h-6.53zM-4.71 -64.38h9.67v3.39h-9.67zM-17.27 -61.24h3.39v3.39h-3.39zM1.57 -61.24h3.39v3.39h-3.39zM-20.41 -58.1h3.39v3.39h-3.39zM4.71 -58.1h3.39v3.39h-3.39zM-20.41 -54.96h3.39v3.39h-3.39zM4.71 -54.96h3.39v3.39h-3.39zM-20.41 -51.81h3.39v3.39h-3.39zM4.71 -51.81h3.39v3.39h-3.39zM-20.41 -48.67h3.39v3.39h-3.39zM4.71 -48.67h3.39v3.39h-3.39zM-20.41 -45.53h3.39v3.39h-3.39zM4.71 -45.53h3.39v3.39h-3.39zM-17.27 -42.39h3.39v3.39h-3.39zM1.57 -42.39h3.39v3.39h-3.39zM-17.27 -39.25h6.53v3.39h-6.53zM-1.57 -39.25h6.53v3.39h-6.53zM-14.13 -36.11h15.95v3.39h-15.95zM-10.99 -32.97h9.67v3.39h-9.67z"/>
<path fill="#ff6000" d="M-10.99 -70.66h12.81v3.39h-12.81zM-17.27 -67.52h6.53v3.39h-6.53zM-1.57 -67.52h6.53v3.39h-6.53zM-20.41 -64.38h6.53v3.39h-6.53zM4.71 -64.38h3.39v3.39h-3.39zM-20.41 -61.24h3.39v3.39h-3.39zM4.71 -61.24h3.39v3.39h-3.39zM-23.55 -58.1h3.39v3.39h-3.39zM7.85 -58.1h3.39v3.39h-3.39zM-23.55 -54.96h3.39v3.39h-3.39zM7.85 -54.96h3.39v3.39h-3.39zM-23.55 -51.81h3.39v3.39h-3.39zM7.85 -51.81h3.39v3.39h-3.39zM-23.55 -48.67h3.39v3.39h-3.39zM7.85 -48.67h3.39v3.39h-3.39zM-23.55 -45.53h3.39v3.39h-3.39zM7.85 -45.53h3.39v3.39h-3.39zM-23.55 -42.39h6.53v3.39h-6.53zM4.71 -42.39h6.53v3.39h-6.53zM-20.41 -39.25h3.39v3.39h-3.39zM4.71 -39.25h3.39v3.39h-3.39zM-20.41 -36.11h6.53v3.39h-6.53zM1.57 -36.11h6.53v3.39h-6.53zM-17.27 -32.97h6.53v3.39h-6.53zM-1.57 -32.97h6.53v3.39h-6.53zM-14.13 -29.83h19.09v3.39h-19.09zM-10.99 -26.69h12.81v3.39h-12.81zM-10.99 32.97h12.81v3.39h-12.81zM-10.99 36.11h12.81v3.39h-12.81zM-10.99 39.25h12.81v3.39h-12.81zM-10.99 42.39h12.81v3.39h-12.81z"/>
<path fill="#ff7000" d="M-10.99 -73.8h15.95v3.39h-15.95zM-17.27 -70.66h6.53v3.39h-6.53zM1.57 -70.66h6.53v3.39h-6.53zM-20.41 -67.52h3.39v3.39h-3.39zM4.71 -67.52h6.53v3.39h-6.53zM-23.55 -64.38h3.39v3.39h-3.39zM7.85 -64.38h3.39v3.39h-3.39zM-23.55 -61.24h3.39v3.39h-3.39zM7.85 -61.24h3.39v3.39h-3.39zM-26.69 -58.1h3.39v3.39h-3.39zM10.99 -58.1h3.39v3.39h-3.39zM-26.69 -54.96h3.39v3.39h-3.39zM10.99 -54.96h3.39v3.39h-3.39zM-26.69 -51.81h3.39v3.39h-3.39zM10.99 -51.81h3.39v3.39h-3.39zM-26.69 -48.67h3.39v3.39h-3.39zM10.99 -48.67h3.39v3.39h-3.39zM-26.69 -45.53h3.39v3.39h-3.39zM10.99 -45.53h3.39v3.39h-3.39zM-26.69 -42.39h3.39v3.39h-3.39zM10.99 -42.39h3.39v3.39h-3.39zM-23.55 -39.25h3.39v3.39h-3.39zM7.85 -39.25h3.39v3.39h-3.39zM-23.55 -36.11h3.39v3.39h-3.39zM7.85 -36.11h3.39v3.39h-3.39zM-23.55 -32.97h6.53v3.39h-6.53zM4.71 -32.97h6.53v3.39h-6.53zM-20.41 -29.83h6.53v3.39h-6.53zM4.71 -29.83h3.39v3.39h-3.39zM-17.27 -26.69h6.53v3.39h-6.53zM1.57 -26.69h6.53v3.39h-6.53zM-14.13 -23.55h19.09v3.39h-19.09zM-10.99 -20.41h12.81v3.39h-12.81zM-10.99 26.69h12.81v3.39h-12.81zM-14.13 29.83h15.95v3.39h-15.95zM-17.27 32.97h6.53v3.39h-6.53zM1.57 32.97h3.39v3.39h-3.39zM-17.27 36.11h6.53v3.39h-6.53zM1.57 36.11h3.39v3.39h-3.39zM-17.27 39.25h6.53v3.39h-6.53zM1.57 39.25h3.39v3.39h-3.39zM-14.13 42.39h3.39v3.39h-3.39zM1.57 42.39h3.39v3.39h-3.39zM-14.13 45.53h15.95v3.39h-15.95z"/>
<path fill="#ff8000" d="M-14.13 -76.94h19.09v3.39h-19.09zM-17.27 -73.8h6.53v3.39h-6.53zM4.71 -73.8h3.39v3.39h-3.39zM-20.41 -70.66h3.39v3.39h-3.39zM7.85 -70.66h3.39v3.39h-3.39zM-23.55 -67.52h3.39v3.39h-3.39zM10.99 -67.52h3.39v3.39h-3.39zM-26.69 -64.38h3.39v3.39h-3.39zM10.99 -64.38h3.39v3.39h-3.39zM-26.69 -61.24h3.39v3.39h-3.39zM10.99 -61.24h3.39v3.39h-3.39zM-29.83 -58.1h3.39v3.39h-3.39zM-29.83 -54.96h3.39v3.39h-3.39zM14.13 -54.96h3.39v3.39h-3.39zM-29.83 -51.81h3.39v3.39h-3.39zM14.13 -51.81h3.39v3.39h-3.39zM-29.83 -48.67h3.39v3.39h-3.39zM14.13 -48.67h3.39v3.39h-3.39zM-29.83 -45.53h3.39v3.39h-3.39zM14.13 -45.53h3.39v3.39h-3.39zM-29.83 -42.39h3.39v3.39h-3.39zM14.13 -42.39h3.39v3.39h-3.39zM-29.83 -39.25h6.53v3.39h-6.53zM10.99 -39.25h3.39v3.39h-3.39zM-26.69 -36.11h3.39v3.39h-3.39zM10.99 -36.11h3.39v3.39h-3.39zM-26.69 -32.97h3.39v3.39h-3.39zM10.99 -32.97h3.39v3.39h-3.39zM-26.69 -29.83h6.53v3.39h-6.53zM7.85 -29.83h6.53v3.39h-6.53zM-23.55 -26.69h6.53v3.39h-6.53zM7.85 -26.69h6.53v3.39h-6.53zM-23.55 -23.55h9.67v3.39h-9.67zM4.71 -23.55h6.53v3.39h-6.53zM-20.41 -20.41h9.67v3.39h-9.67zM1.57 -20.41h9.67v3.39h-9.67zM-17.27 -17.27h25.37v3.39h-25.37zM-14.13 -14.13h19.09v3.39h-19.09zM-7.85 -10.99h3.39v3.39h-3.39zM-10.99 20.41h12.81v3.39h-12.81zM-14.13 23.55h19.09v3.39h-19.09zM-17.27 26.69h6.53v3.39h-6.53zM1.57 26.69h3.39v3.39h-3.39zM-20.41 29.83h6.53v3.39h-6.53zM1.57 29.83h6.53v3.39h-6.53zM-20.41 32.97h3.39v3.39h-3.39zM4.71 32.97h3.39v3.39h-3.39zM-20.41 36.11h3.39v3.39h-3.39zM4.71 36.11h3.39v3.39h-3.39zM-20.41 39.25h3.39v3.39h-3.39zM4.71 39.25h3.39v3.39h-3.39zM-20.41 42.39h6.53v3.39h-6.53zM4.71 42.39h3.39v3.39h-3.39zM-17.27 45.53h3.39v3.39h-3.39zM1.57 45.53h3.39v3.39h-3.39zM-14.13 48.67h15.95v3.39h-15.95z"/>
<path fill="#ff9000" d="M-7.85 -83.22h9.67v3.39h-9.67zM-14.13 -80.08h22.23v3.39h-22.23zM-17.27 -76.94h3.39v3.39h-3.39zM4.71 -76.94h6.53v3.39h-6.53zM-23.55 -73.8h6.53v3.39h-6.53zM7.85 -73.8h6.53v3.39h-6.53zM-23.55 -70.66h3.39v3.39h-3.39zM10.99 -70.66h3.39v3.39h-3.39zM-26.69 -67.52h3.39v3.39h-3.39zM14.13 -67.52h3.39v3.39h-3.39zM-29.83 -64.38h3.39v3.39h-3.39zM14.13 -64.38h3.39v3.39h-3.39zM-29.83 -61.24h3.39v3.39h-3.39zM14.13 -61.24h3.39v3.39h-3.39zM14.13 -58.1h3.39v3.39h-3.39zM-32.97 -54.96h3.39v3.39h-3.39zM-32.97 -51.81h3.39v3.39h-3.39zM-32.97 -48.67h3.39v3.39h-3.39zM-32.97 -45.53h3.39v3.39h-3.39zM-32.97 -42.39h3.39v3.39h-3.39zM-32.97 -39.25h3.39v3.39h-3.39zM14.13 -39.25h3.39v3.39h-3.39zM-32.97 -36.11h6.53v3.39h-6.53zM14.13 -36.11h3.39v3.39h-3.39zM-29.83 -32.97h3.39v3.39h-3.39zM14.13 -32.97h3.39v3.39h-3.39zM-29.83 -29.83h3.39v3.39h-3.39zM14.13 -29.83h3.39v3.39h-3.39zM-29.83 -26.69h6.53v3.39h-6.53zM14.13 -26.69h3.39v3.39h-3.39zM-26.69 -23.55h3.39v3.39h-3.39zM10.99 -23.55h6.53v3.39h-6.53zM-26.69 -20.41h6.53v3.39h-6.53zM10.99 -20.41h3.39v3.39h-3.39zM-23.55 -17.27h6.53v3.39h-6.53zM7.85 -17.27h6.53v3.39h-6.53zM-23.55 -14.13h9.67v3.39h-9.67zM4.71 -14.13h6.53v3.39h-6.53zM-20.41 -10.99h12.81v3.39h-12.81zM-4.71 -10.99h15.95v3.39h-15.95zM-20.41 -7.85h28.51v3.39h-28.51zM-17.27 -4.71h22.23v3.39h-22.23zM-14.13 -1.57h15.95v3.39h-15.95zM-10.99 1.57h9.67v3.39h-9.67zM-10.99 4.71h9.67v3.39h-9.67zM-10.99 7.85h12.81v3.39h-12.81zM-14.13 10.99h15.95v3.39h-15.95zM-14.13 14.13h19.09v3.39h-19.09zM-17.27 17.27h22.23v3.39h-22.23zM-20.41 20.41h9.67v3.39h-9.67zM1.57 20.41h6.53v3.39h-6.53zM-20.41 23.55h6.53v3.39h-6.53zM4.71 23.55h3.39v3.39h-3.39zM-23.55 26.69h6.53v3.39h-6.53zM4.71 26.69h3.39v3.39h-3.39zM-23.55 29.83h3.39v3.39h-3.39zM-23.55 32.97h3.39v3.39h-3.39zM7.85 32.97h3.39v3.39h-3.39zM-26.69 36.11h6.53v3.39h-6.53zM7.85 36.11h3.39v3.39h-3.39zM-23.55 39.25h3.39v3.39h-3.39zM7.85 39.25h3.39v3.39h-3.39zM-23.55 42.39h3.39v3.39h-3.39zM-23.55 45.53h6.53v3.39h-6.53zM4.71 45.53h3.39v3.39h-3.39zM-20.41 48.67h6.53v3.39h-6.53zM1.57 48.67h3.39v3.39h-3.39zM-14.13 51.81h15.95v3.39h-15.95z"/>
<path fill="#ffa000" d="M-7.85 -86.36h12.81v3.39h-12.81zM-14.13 -83.22h6.53v3.39h-6.53zM1.57 -83.22h9.67v3.39h-9.67zM-20.41 -80.08h6.53v3.39h-6.53zM7.85 -80.08h6.53v3.39h-6.53zM-23.55 -76.94h6.53v3.39h-6.53zM10.99 -76.94h3.39v3.39h-3.39zM-26.69 -73.8h3.39v3.39h-3.39zM14.13 -73.8h3.39v3.39h-3.39zM-29.83 -70.66h6.53v3.39h-6.53zM14.13 -70.66h3.39v3.39h-3.39zM-29.83 -67.52h3.39v3.39h-3.39zM17.27 -67.52h3.39v3.39h-3.39zM-32.97 -64.38h3.39v3.39h-3.39zM17.27 -64.38h3.39v3.39h-3.39zM-32.97 -61.24h3.39v3.39h-3.39zM17.27 -61.24h3.39v3.39h-3.39zM-36.11 -58.1h6.53v3.39h-6.53zM17.27 -58.1h3.39v3.39h-3.39zM-36.11 -54.96h3.39v3.39h-3.39zM17.27 -54.96h3.39v3.39h-3.39zM-36.11 -51.81h3.39v3.39h-3.39zM17.27 -51.81h3.39v3.39h-3.39zM-36.11 -48.67h3.39v3.39h-3.39zM17.27 -48.67h3.39v3.39h-3.39zM-36.11 -45.53h3.39v3.39h-3.39zM17.27 -45.53h3.39v3.39h-3.39zM-36.11 -42.39h3.39v3.39h-3.39zM17.27 -42.39h3.39v3.39h-3.39zM-36.11 -39.25h3.39v3.39h-3.39zM17.27 -39.25h3.39v3.39h-3.39zM-36.11 -36.11h3.39v3.39h-3.39zM17.27 -36.11h3.39v3.39h-3.39zM-36.11 -32.97h6.53v3.39h-6.53zM17.27 -32.97h3.39v3.39h-3.39zM-36.11 -29.83h6.53v3.39h-6.53zM17.27 -29.83h3.39v3.39h-3.39zM-32.97 -26.69h3.39v3.39h-3.39zM17.27 -26.69h3.39v3.39h-3.39zM-32.97 -23.55h6.53v3.39h-6.53zM17.27 -23.55h3.39v3.39h-3.39zM-32.97 -20.41h6.53v3.39h-6.53zM14.13 -20.41h6.53v3.39h-6.53zM-29.83 -17.27h6.53v3.39h-6.53zM14.13 -17.27h6.53v3.39h-6.53zM-29.83 -14.13h6.53v3.39h-6.53zM10.99 -14.13h6.53v3.39h-6.53zM-29.83 -10.99h9.67v3.39h-9.67zM10.99 -10.99h6.53v3.39h-6.53zM-26.69 -7.85h6.53v3.39h-6.53zM7.85 -7.85h6.53v3.39h-6.53zM-26.69 -4.71h9.67v3.39h-9.67zM4.71 -4.71h9.67v3.39h-9.67zM-23.55 -1.57h9.67v3.39h-9.67zM1.57 -1.57h9.67v3.39h-9.67zM-23.55 1.57h12.81v3.39h-12.81zM-1.57 1.57h12.81v3.39h-12.81zM-23.55 4.71h12.81v3.39h-12.81zM-1.57 4.71h12.81v3.39h-12.81zM-23.55 7.85h12.81v3.39h-12.81zM1.57 7.85h9.67v3.39h-9.67zM-23.55 10.99h9.67v3.39h-9.67zM1.57 10.99h9.67v3.39h-9.67zM-23.55 14.13h9.67v3.39h-9.67zM4.71 14.13h6.53v3.39h-6.53zM-26.69 17.27h9.67v3.39h-9.67zM4.71 17.27h6.53v3.39h-6.53zM-26.69 20.41h6.53v3.39h-6.53zM7.85 20.41h3.39v3.39h-3.39zM-26.69 23.55h6.53v3.39h-6.53zM7.85 23.55h3.39v3.39h-3.39zM-29.83 26.69h6.53v3.39h-6.53zM7.85 26.69h3.39v3.39h-3.39zM-29.83 29.83h6.53v3.39h-6.53zM7.85 29.83h3.39v3.39h-3.39zM-29.83 32.97h6.53v3.39h-6.53zM-29.83 36.11h3.39v3.39h-3.39zM-29.83 39.25h6.53v3.39h-6.53zM-26.69 42.39h3.39v3.39h-3.39zM7.85 42.39h3.39v3.39h-3.39zM-26.69 45.53h3.39v3.39h-3.39zM7.85 45.53h3.39v3.39h-3.39zM-23.55 48.67h3.39v3.39h-3.39zM4.71 48.67h3.39v3.39h-3.39zM-20.41 51.81h6.53v3.39h-6.53zM1.57 51.81h3.39v3.39h-3.39zM-14.13 54.96h15.95v3.39h-15.95z"/>
<path fill="#ffb000" d="M-4.71 -92.64h9.67v3.39h-9.67zM-10.99 -89.5h22.23v3.39h-22.23zM-17.27 -86.36h9.67v3.39h-9.67zM4.71 -86.36h9.67v3.39h-9.67zM-20.41 -83.22h6.53v3.39h-6.53zM10.99 -83.22h3.39v3.39h-3.39zM-23.55 -80.08h3.39v3.39h-3.39zM14.13 -80.08h3.39v3.39h-3.39zM-26.69 -76.94h3.39v3.39h-3.39zM14.13 -76.94h6.53v3.39h-6.53zM-29.83 -73.8h3.39v3.39h-3.39zM17.27 -73.8h3.39v3.39h-3.39zM-32.97 -70.66h3.39v3.39h-3.39zM17.27 -70.66h3.39v3.39h-3.39zM-36.11 -67.52h6.53v3.39h-6.53zM20.41 -67.52h3.39v3.39h-3.39zM-36.11 -64.38h3.39v3.39h-3.39zM20.41 -64.38h3.39v3.39h-3.39zM-36.11 -61.24h3.39v3.39h-3.39zM20.41 -61.24h3.39v3.39h-3.39zM-39.25 -58.1h3.39v3.39h-3.39zM20.41 -58.1h3.39v3.39h-3.39zM-39.25 -54.96h3.39v3.39h-3.39zM20.41 -54.96h3.39v3.39h-3.39zM-39.25 -51.81h3.39v3.39h-3.39zM20.41 -51.81h3.39v3.39h-3.39zM-39.25 -48.67h3.39v3.39h-3.39zM20.41 -48.67h3.39v3.39h-3.39zM-39.25 -45.53h3.39v3.39h-3.39zM20.41 -45.53h3.39v3.39h-3.39zM-39.25 -42.39h3.39v3.39h-3.39zM20.41 -42.39h3.39v3.39h-3.39zM-39.25 -39.25h3.39v3.39h-3.39zM20.41 -39.25h3.39v3.39h-3.39zM-39.25 -36.11h3.39v3.39h-3.39zM20.41 -36.11h3.39v3.39h-3.39zM-39.25 -32.97h3.39v3.39h-3.39zM20.41 -32.97h3.39v3.39h-3.39zM-39.25 -29.83h3.39v3.39h-3.39zM20.41 -29.83h3.39v3.39h-3.39zM-39.25 -26.69h6.53v3.39h-6.53zM20.41 -26.69h3.39v3.39h-3.39zM-39.25 -23.55h6.53v3.39h-6.53zM20.41 -23.55h3.39v3.39h-3.39zM-36.11 -20.41h3.39v3.39h-3.39zM20.41 -20.41h3.39v3.39h-3.39zM-36.11 -17.27h6.53v3.39h-6.53zM20.41 -17.27h3.39v3.39h-3.39zM-36.11 -14.13h6.53v3.39h-6.53zM17.27 -14.13h6.53v3.39h-6.53zM-36.11 -10.99h6.53v3.39h-6.53zM17.27 -10.99h6.53v3.39h-6.53zM-32.97 -7.85h6.53v3.39h-6.53zM14.13 -7.85h6.53v3.39h-6.53zM-32.97 -4.71h6.53v3.39h-6.53zM14.13 -4.71h6.53v3.39h-6.53zM-32.97 -1.57h9.67v3.39h-9.67zM10.99 -1.57h9.67v3.39h-9.67zM-32.97 1.57h9.67v3.39h-9.67zM10.99 1.57h6.53v3.39h-6.53zM-29.83 4.71h6.53v3.39h-6.53zM10.99 4.71h6.53v3.39h-6.53zM-29.83 7.85h6.53v3.39h-6.53zM10.99 7.85h6.53v3.39h-6.53zM-29.83 10.99h6.53v3.39h-6.53zM10.99 10.99h3.39v3.39h-3.39zM-32.97 14.13h9.67v3.39h-9.67zM10.99 14.13h3.39v3.39h-3.39zM-32.97 17.27h6.53v3.39h-6.53zM10.99 17.27h3.39v3.39h-3.39zM-32.97 20.41h6.53v3.39h-6.53zM10.99 20.41h3.39v3.39h-3.39zM-32.97 23.55h6.53v3.39h-6.53zM10.99 23.55h3.39v3.39h-3.39zM-32.97 26.69h3.39v3.39h-3.39zM10.99 26.69h3.39v3.39h-3.39zM-32.97 29.83h3.39v3.39h-3.39zM10.99 29.83h3.39v3.39h-3.39zM-32.97 32.97h3.39v3.39h-3.39zM10.99 32.97h3.39v3.39h-3.39zM-32.97 36.11h3.39v3.39h-3.39zM10.99 36.11h3.39v3.39h-3.39zM-32.97 39.25h3.39v3.39h-3.39zM10.99 39.25h3.39v3.39h-3.39zM-32.97 42.39h6.53v3.39h-6.53zM10.99 42.39h3.39v3.39h-3.39zM-29.83 45.53h3.39v3.39h-3.39zM-29.83 48.67h6.53v3.39h-6.53zM7.85 48.67h3.39v3.39h-3.39zM-26.69 51.81h6.53v3.39h-6.53zM4.71 51.81h3.39v3.39h-3.39zM-23.55 54.96h9.67v3.39h-9.67zM1.57 54.96h3.39v3.39h-3.39zM-14.13 58.1h12.81v3.39h-12.81z"/>
<path fill="#ffc000" d="M-1.57 -98.92h3.39v3.39h-3.39zM-10.99 -95.78h19.09v3.39h-19.09zM-14.13 -92.64h9.67v3.39h-9.67zM4.71 -92.64h9.67v3.39h-9.67zM-17.27 -89.5h6.53v3.39h-6.53zM10.99 -89.5h3.39v3.39h-3.39zM-20.41 -86.36h3.39v3.39h-3.39zM14.13 -86.36h3.39v3.39h-3.39zM-23.55 -83.22h3.39v3.39h-3.39zM14.13 -83.22h6.53v3.39h-6.53zM-29.83 -80.08h6.53v3.39h-6.53zM17.27 -80.08h3.39v3.39h-3.39zM-32.97 -76.94h6.53v3.39h-6.53zM20.41 -76.94h3.39v3.39h-3.39zM-32.97 -73.8h3.39v3.39h-3.39zM20.41 -73.8h3.39v3.39h-3.39zM-36.11 -70.66h3.39v3.39h-3.39zM20.41 -70.66h3.39v3.39h-3.39zM-39.25 -67.52h3.39v3.39h-3.39zM23.55 -67.52h3.39v3.39h-3.39zM-39.25 -64.38h3.39v3.39h-3.39zM23.55 -64.38h3.39v3.39h-3.39zM-42.39 -61.24h6.53v3.39h-6.53zM23.55 -61.24h3.39v3.39h-3.39zM-42.39 -58.1h3.39v3.39h-3.39zM23.55 -58.1h3.39v3.39h-3.39zM-42.39 -54.96h3.39v3.39h-3.39zM23.55 -54.96h3.39v3.39h-3.39zM-42.39 -51.81h3.39v3.39h-3.39zM23.55 -51.81h3.39v3.39h-3.39zM-42.39 -48.67h3.39v3.39h-3.39zM23.55 -48.67h3.39v3.39h-3.39zM-42.39 -45.53h3.39v3.39h-3.39zM23.55 -45.53h3.39v3.39h-3.39zM-42.39 -42.39h3.39v3.39h-3.39zM23.55 -42.39h3.39v3.39h-3.39zM-45.53 -39.25h6.53v3.39h-6.53zM23.55 -39.25h3.39v3.39h-3.39zM-45.53 -36.11h6.53v3.39h-6.53zM23.55 -36.11h3.39v3.39h-3.39zM-45.53 -32.97h6.53v3.39h-6.53zM23.55 -32.97h3.39v3.39h-3.39zM-42.39 -29.83h3.39v3.39h-3.39zM23.55 -29.83h3.39v3.39h-3.39zM-42.39 -26.69h3.39v3.39h-3.39zM23.55 -26.69h3.39v3.39h-3.39zM-42.39 -23.55h3.39v3.39h-3.39zM23.55 -23.55h3.39v3.39h-3.39zM-42.39 -20.41h6.53v3.39h-6.53zM23.55 -20.41h3.39v3.39h-3.39zM-42.39 -17.27h6.53v3.39h-6.53zM23.55 -17.27h3.39v3.39h-3.39zM-42.39 -14.13h6.53v3.39h-6.53zM23.55 -14.13h3.39v3.39h-3.39zM-39.25 -10.99h3.39v3.39h-3.39zM23.55 -10.99h3.39v3.39h-3.39zM-39.25 -7.85h6.53v3.39h-6.53zM20.41 -7.85h6.53v3.39h-6.53zM-39.25 -4.71h6.53v3.39h-6.53zM20.41 -4.71h6.53v3.39h-6.53zM-39.25 -1.57h6.53v3.39h-6.53zM20.41 -1.57h3.39v3.39h-3.39zM-39.25 1.57h6.53v3.39h-6.53zM17.27 1.57h6.53v3.39h-6.53zM-36.11 4.71h6.53v3.39h-6.53zM17.27 4.71h3.39v3.39h-3.39zM-36.11 7.85h6.53v3.39h-6.53zM17.27 7.85h3.39v3.39h-3.39zM-36.11 10.99h6.53v3.39h-6.53zM14.13 10.99h6.53v3.39h-6.53zM-36.11 14.13h3.39v3.39h-3.39zM14.13 14.13h3.39v3.39h-3.39zM-36.11 17.27h3.39v3.39h-3.39zM14.13 17.27h3.39v3.39h-3.39zM-36.11 20.41h3.39v3.39h-3.39zM14.13 20.41h3.39v3.39h-3.39zM-39.25 23.55h6.53v3.39h-6.53zM14.13 23.55h3.39v3.39h-3.39zM-39.25 26.69h6.53v3.39h-6.53zM14.13 26.69h3.39v3.39h-3.39zM-39.25 29.83h6.53v3.39h-6.53zM14.13 29.83h3.39v3.39h-3.39zM-36.11 32.97h3.39v3.39h-3.39zM14.13 32.97h3.39v3.39h-3.39zM-36.11 36.11h3.39v3.39h-3.39zM14.13 36.11h3.39v3.39h-3.39zM-36.11 39.25h3.39v3.39h-3.39zM14.13 39.25h3.39v3.39h-3.39zM-36.11 42.39h3.39v3.39h-3.39zM-36.11 45.53h6.53v3.39h-6.53zM10.99 45.53h3.39v3.39h-3.39zM-32.97 48.67h3.39v3.39h-3.39zM10.99 48.67h3.39v3.39h-3.39zM-29.83 51.81h3.39v3.39h-3.39zM7.85 51.81h3.39v3.39h-3.39zM-26.69 54.96h3.39v3.39h-3.39zM4.71 54.96h3.39v3.39h-3.39zM-23.55 58.1h9.67v3.39h-9.67zM-1.57 58.1h6.53v3.39h-6.53zM-14.13 61.24h9.67v3.39h-9.67z"/>
<path fill="#ffd000" d="M-7.85 -102.06h15.95v3.39h-15.95zM-14.13 -98.92h12.81v3.39h-12.81zM1.57 -98.92h12.81v3.39h-12.81zM-17.27 -95.78h6.53v3.39h-6.53zM7.85 -95.78h9.67v3.39h-9.67zM-20.41 -92.64h6.53v3.39h-6.53zM14.13 -92.64h3.39v3.39h-3.39zM-23.55 -89.5h6.53v3.39h-6.53zM14.13 -89.5h6.53v3.39h-6.53zM-26.69 -86.36h6.53v3.39h-6.53zM17.27 -86.36h6.53v3.39h-6.53zM-29.83 -83.22h6.53v3.39h-6.53zM20.41 -83.22h3.39v3.39h-3.39zM-32.97 -80.08h3.39v3.39h-3.39zM20.41 -80.08h3.39v3.39h-3.39zM-36.11 -76.94h3.39v3.39h-3.39zM23.55 -76.94h3.39v3.39h-3.39zM-39.25 -73.8h6.53v3.39h-6.53zM23.55 -73.8h3.39v3.39h-3.39zM-42.39 -70.66h6.53v3.39h-6.53zM23.55 -70.66h3.39v3.39h-3.39zM-42.39 -67.52h3.39v3.39h-3.39zM26.69 -67.52h3.39v3.39h-3.39zM-45.53 -64.38h6.53v3.39h-6.53zM26.69 -64.38h3.39v3.39h-3.39zM-45.53 -61.24h3.39v3.39h-3.39zM26.69 -61.24h3.39v3.39h-3.39zM-45.53 -58.1h3.39v3.39h-3.39zM26.69 -58.1h3.39v3.39h-3.39zM-45.53 -54.96h3.39v3.39h-3.39zM26.69 -54.96h3.39v3.39h-3.39zM-48.67 -51.81h6.53v3.39h-6.53zM26.69 -51.81h3.39v3.39h-3.39zM-48.67 -48.67h6.53v3.39h-6.53zM26.69 -48.67h3.39v3.39h-3.39zM-48.67 -45.53h6.53v3.39h-6.53zM26.69 -45.53h3.39v3.39h-3.39zM-48.67 -42.39h6.53v3.39h-6.53zM26.69 -42.39h3.39v3.39h-3.39zM-48.67 -39.25h3.39v3.39h-3.39zM26.69 -39.25h3.39v3.39h-3.39zM-48.67 -36.11h3.39v3.39h-3.39zM26.69 -36.11h3.39v3.39h-3.39zM-48.67 -32.97h3.39v3.39h-3.39zM26.69 -32.97h3.39v3.39h-3.39zM-48.67 -29.83h6.53v3.39h-6.53zM26.69 -29.83h3.39v3.39h-3.39zM-48.67 -26.69h6.53v3.39h-6.53zM26.69 -26.69h3.39v3.39h-3.39zM-48.67 -23.55h6.53v3.39h-6.53zM26.69 -23.55h6.53v3.39h-6.53zM-48.67 -20.41h6.53v3.39h-6.53zM26.69 -20.41h6.53v3.39h-6.53zM-48.67 -17.27h6.53v3.39h-6.53zM26.69 -17.27h6.53v3.39h-6.53zM-45.53 -14.13h3.39v3.39h-3.39zM26.69 -14.13h6.53v3.39h-6.53zM-45.53 -10.99h6.53v3.39h-6.53zM26.69 -10.99h6.53v3.39h-6.53zM-45.53 -7.85h6.53v3.39h-6.53zM26.69 -7.85h6.53v3.39h-6.53zM-45.53 -4.71h6.53v3.39h-6.53zM26.69 -4.71h3.39v3.39h-3.39zM-45.53 -1.57h6.53v3.39h-6.53zM23.55 -1.57h6.53v3.39h-6.53zM-42.39 1.57h3.39v3.39h-3.39zM23.55 1.57h6.53v3.39h-6.53zM-42.39 4.71h6.53v3.39h-6.53zM20.41 4.71h6.53v3.39h-6.53zM-42.39 7.85h6.53v3.39h-6.53zM20.41 7.85h3.39v3.39h-3.39zM-42.39 10.99h6.53v3.39h-6.53zM20.41 10.99h3.39v3.39h-3.39zM-42.39 14.13h6.53v3.39h-6.53zM17.27 14.13h6.53v3.39h-6.53zM-42.39 17.27h6.53v3.39h-6.53zM17.27 17.27h3.39v3.39h-3.39zM-42.39 20.41h6.53v3.39h-6.53zM17.27 20.41h3.39v3.39h-3.39zM-42.39 23.55h3.39v3.39h-3.39zM17.27 23.55h3.39v3.39h-3.39zM-42.39 26.69h3.39v3.39h-3.39zM17.27 26.69h3.39v3.39h-3.39zM-42.39 29.83h3.39v3.39h-3.39zM17.27 29.83h3.39v3.39h-3.39zM-42.39 32.97h6.53v3.39h-6.53zM-42.39 36.11h6.53v3.39h-6.53zM-39.25 39.25h3.39v3.39h-3.39zM-39.25 42.39h3.39v3.39h-3.39zM14.13 42.39h3.39v3.39h-3.39zM-39.25 45.53h3.39v3.39h-3.39zM14.13 45.53h3.39v3.39h-3.39zM-36.11 48.67h3.39v3.39h-3.39zM-36.11 51.81h6.53v3.39h-6.53zM10.99 51.81h3.39v3.39h-3.39zM-32.97 54.96h6.53v3.39h-6.53zM7.85 54.96h3.39v3.39h-3.39zM-29.83 58.1h6.53v3.39h-6.53zM4.71 58.1h3.39v3.39h-3.39zM-23.55 61.24h9.67v3.39h-9.67zM-4.71 61.24h9.67v3.39h-9.67zM-14.13 64.38h6.53v3.39h-6.53z"/>
<path fill="#ffe000" d="M-14.13 -105.2h28.51v3.39h-28.51zM-17.27 -102.06h9.67v3.39h-9.67zM7.85 -102.06h9.67v3.39h-9.67zM-20.41 -98.92h6.53v3.39h-6.53zM14.13 -98.92h6.53v3.39h-6.53zM-23.55 -95.78h6.53v3.39h-6.53zM17.27 -95.78h3.39v3.39h-3.39zM-23.55 -92.64h3.39v3.39h-3.39zM17.27 -92.64h6.53v3.39h-6.53zM-26.69 -89.5h3.39v3.39h-3.39zM20.41 -89.5h3.39v3.39h-3.39zM-32.97 -86.36h6.53v3.39h-6.53zM23.55 -86.36h3.39v3.39h-3.39zM-36.11 -83.22h6.53v3.39h-6.53zM23.55 -83.22h3.39v3.39h-3.39zM-39.25 -80.08h6.53v3.39h-6.53zM23.55 -80.08h6.53v3.39h-6.53zM-42.39 -76.94h6.53v3.39h-6.53zM26.69 -76.94h3.39v3.39h-3.39zM-42.39 -73.8h3.39v3.39h-3.39zM26.69 -73.8h3.39v3.39h-3.39zM-45.53 -70.66h3.39v3.39h-3.39zM26.69 -70.66h3.39v3.39h-3.39zM-48.67 -67.52h6.53v3.39h-6.53zM29.83 -67.52h3.39v3.39h-3.39zM-48.67 -64.38h3.39v3.39h-3.39zM29.83 -64.38h3.39v3.39h-3.39zM-48.67 -61.24h3.39v3.39h-3.39zM29.83 -61.24h3.39v3.39h-3.39zM-51.81 -58.1h6.53v3.39h-6.53zM29.83 -58.1h3.39v3.39h-3.39zM-51.81 -54.96h6.53v3.39h-6.53zM29.83 -54.96h3.39v3.39h-3.39zM-51.81 -51.81h3.39v3.39h-3.39zM29.83 -51.81h3.39v3.39h-3.39zM-51.81 -48.67h3.39v3.39h-3.39zM29.83 -48.67h3.39v3.39h-3.39zM-51.81 -45.53h3.39v3.39h-3.39zM29.83 -45.53h3.39v3.39h-3.39zM-54.96 -42.39h6.53v3.39h-6.53zM29.83 -42.39h3.39v3.39h-3.39zM-54.96 -39.25h6.53v3.39h-6.53zM29.83 -39.25h3.39v3.39h-3.39zM-54.96 -36.11h6.53v3.39h-6.53zM29.83 -36.11h3.39v3.39h-3.39zM-54.96 -32.97h6.53v3.39h-6.53zM29.83 -32.97h3.39v3.39h-3.39zM-54.96 -29.83h6.53v3.39h-6.53zM29.83 -29.83h3.39v3.39h-3.39zM-54.96 -26.69h6.53v3.39h-6.53zM29.83 -26.69h6.53v3.39h-6.53zM-51.81 -23.55h3.39v3.39h-3.39zM32.97 -23.55h3.39v3.39h-3.39zM-51.81 -20.41h3.39v3.39h-3.39zM32.97 -20.41h3.39v3.39h-3.39zM-51.81 -17.27h3.39v3.39h-3.39zM32.97 -17.27h3.39v3.39h-3.39zM-51.81 -14.13h6.53v3.39h-6.53zM32.97 -14.13h3.39v3.39h-3.39zM-51.81 -10.99h6.53v3.39h-6.53zM32.97 -10.99h3.39v3.39h-3.39zM-51.81 -7.85h6.53v3.39h-6.53zM32.97 -7.85h3.39v3.39h-3.39zM-51.81 -4.71h6.53v3.39h-6.53zM29.83 -4.71h6.53v3.39h-6.53zM-48.67 -1.57h3.39v3.39h-3.39zM29.83 -1.57h6.53v3.39h-6.53zM-48.67 1.57h6.53v3.39h-6.53zM29.83 1.57h3.39v3.39h-3.39zM-48.67 4.71h6.53v3.39h-6.53zM26.69 4.71h6.53v3.39h-6.53zM-48.67 7.85h6.53v3.39h-6.53zM23.55 7.85h6.53v3.39h-6.53zM-48.67 10.99h6.53v3.39h-6.53zM23.55 10.99h3.39v3.39h-3.39zM-48.67 14.13h6.53v3.39h-6.53zM23.55 14.13h3.39v3.39h-3.39zM-48.67 17.27h6.53v3.39h-6.53zM20.41 17.27h3.39v3.39h-3.39zM-45.53 20.41h3.39v3.39h-3.39zM20.41 20.41h3.39v3.39h-3.39zM-45.53 23.55h3.39v3.39h-3.39zM20.41 23.55h3.39v3.39h-3.39zM-45.53 26.69h3.39v3.39h-3.39zM20.41 26.69h3.39v3.39h-3.39zM-45.53 29.83h3.39v3.39h-3.39zM-45.53 32.97h3.39v3.39h-3.39zM17.27 32.97h3.39v3.39h-3.39zM-45.53 36.11h3.39v3.39h-3.39zM17.27 36.11h3.39v3.39h-3.39zM-45.53 39.25h6.53v3.39h-6.53zM17.27 39.25h3.39v3.39h-3.39zM-42.39 42.39h3.39v3.39h-3.39zM17.27 42.39h3.39v3.39h-3.39zM-42.39 45.53h3.39v3.39h-3.39zM-42.39 48.67h6.53v3.39h-6.53zM14.13 48.67h3.39v3.39h-3.39zM-39.25 51.81h3.39v3.39h-3.39zM14.13 51.81h3.39v3.39h-3.39zM-36.11 54.96h3.39v3.39h-3.39zM10.99 54.96h3.39v3.39h-3.39zM-36.11 58.1h6.53v3.39h-6.53zM7.85 58.1h6.53v3.39h-6.53zM-29.83 61.24h6.53v3.39h-6.53zM4.71 61.24h6.53v3.39h-6.53zM-26.69 64.38h12.81v3.39h-12.81zM-7.85 64.38h12.81v3.39h-12.81zM-14.13 67.52h6.53v3.39h-6.53z"/>
<path fill="#fff000" d="M-20.41 -105.2h6.53v3.39h-6.53zM14.13 -105.2h6.53v3.39h-6.53zM-23.55 -102.06h6.53v3.39h-6.53zM17.27 -102.06h6.53v3.39h-6.53zM-26.69 -98.92h6.53v3.39h-6.53zM20.41 -98.92h6.53v3.39h-6.53zM-29.83 -95.78h6.53v3.39h-6.53zM20.41 -95.78h6.53v3.39h-6.53zM-32.97 -92.64h9.67v3.39h-9.67zM23.55 -92.64h6.53v3.39h-6.53zM-36.11 -89.5h9.67v3.39h-9.67zM23.55 -89.5h6.53v3.39h-6.53zM-39.25 -86.36h6.53v3.39h-6.53zM26.69 -86.36h3.39v3.39h-3.39zM-42.39 -83.22h6.53v3.39h-6.53zM26.69 -83.22h6.53v3.39h-6.53zM-45.53 -80.08h6.53v3.39h-6.53zM29.83 -80.08h3.39v3.39h-3.39zM-45.53 -76.94h3.39v3.39h-3.39zM29.83 -76.94h3.39v3.39h-3.39zM-48.67 -73.8h6.53v3.39h-6.53zM29.83 -73.8h3.39v3.39h-3.39zM-51.81 -70.66h6.53v3.39h-6.53zM29.83 -70.66h3.39v3.39h-3.39zM-51.81 -67.52h3.39v3.39h-3.39zM32.97 -67.52h3.39v3.39h-3.39zM-54.96 -64.38h6.53v3.39h-6.53zM32.97 -64.38h3.39v3.39h-3.39zM-54.96 -61.24h6.53v3.39h-6.53zM32.97 -61.24h3.39v3.39h-3.39zM-54.96 -58.1h3.39v3.39h-3.39zM32.97 -58.1h3.39v3.39h-3.39zM-54.96 -54.96h3.39v3.39h-3.39zM32.97 -54.96h3.39v3.39h-3.39zM-58.1 -51.81h6.53v3.39h-6.53zM-58.1 -48.67h6.53v3.39h-6.53zM-58.1 -45.53h6.53v3.39h-6.53zM-58.1 -42.39h3.39v3.39h-3.39zM32.97 -42.39h3.39v3.39h-3.39zM-58.1 -39.25h3.39v3.39h-3.39zM32.97 -39.25h3.39v3.39h-3.39zM-58.1 -36.11h3.39v3.39h-3.39zM32.97 -36.11h3.39v3.39h-3.39zM-58.1 -32.97h3.39v3.39h-3.39zM32.97 -32.97h3.39v3.39h-3.39zM-58.1 -29.83h3.39v3.39h-3.39zM32.97 -29.83h3.39v3.39h-3.39zM-58.1 -26.69h3.39v3.39h-3.39zM36.11 -26.69h3.39v3.39h-3.39zM-58.1 -23.55h6.53v3.39h-6.53zM36.11 -23.55h3.39v3.39h-3.39zM-58.1 -20.41h6.53v3.39h-6.53zM36.11 -20.41h3.39v3.39h-3.39zM-58.1 -17.27h6.53v3.39h-6.53zM36.11 -17.27h3.39v3.39h-3.39zM-58.1 -14.13h6.53v3.39h-6.53zM36.11 -14.13h3.39v3.39h-3.39zM-58.1 -10.99h6.53v3.39h-6.53zM36.11 -10.99h6.53v3.39h-6.53zM-54.96 -7.85h3.39v3.39h-3.39zM36.11 -7.85h6.53v3.39h-6.53zM-54.96 -4.71h3.39v3.39h-3.39zM36.11 -4.71h6.53v3.39h-6.53zM-54.96 -1.57h6.53v3.39h-6.53zM36.11 -1.57h3.39v3.39h-3.39zM-54.96 1.57h6.53v3.39h-6.53zM32.97 1.57h6.53v3.39h-6.53zM-54.96 4.71h6.53v3.39h-6.53zM32.97 4.71h3.39v3.39h-3.39zM-54.96 7.85h6.53v3.39h-6.53zM29.83 7.85h3.39v3.39h-3.39zM-51.81 10.99h3.39v3.39h-3.39zM26.69 10.99h6.53v3.39h-6.53zM-51.81 14.13h3.39v3.39h-3.39zM26.69 14.13h3.39v3.39h-3.39zM-51.81 17.27h3.39v3.39h-3.39zM23.55 17.27h6.53v3.39h-6.53zM-51.81 20.41h6.53v3.39h-6.53zM23.55 20.41h3.39v3.39h-3.39zM-51.81 23.55h6.53v3.39h-6.53zM23.55 23.55h3.39v3.39h-3.39zM-51.81 26.69h6.53v3.39h-6.53zM23.55 26.69h3.39v3.39h-3.39zM-48.67 29.83h3.39v3.39h-3.39zM20.41 29.83h3.39v3.39h-3.39zM-48.67 32.97h3.39v3.39h-3.39zM20.41 32.97h3.39v3.39h-3.39zM-48.67 36.11h3.39v3.39h-3.39zM20.41 36.11h3.39v3.39h-3.39zM-48.67 39.25h3.39v3.39h-3.39zM20.41 39.25h3.39v3.39h-3.39zM-45.53 42.39h3.39v3.39h-3.39zM-45.53 45.53h3.39v3.39h-3.39zM17.27 45.53h3.39v3.39h-3.39zM-45.53 48.67h3.39v3.39h-3.39zM17.27 48.67h3.39v3.39h-3.39zM-42.39 51.81h3.39v3.39h-3.39zM17.27 51.81h3.39v3.39h-3.39zM-42.39 54.96h6.53v3.39h-6.53zM14.13 54.96h3.39v3.39h-3.39zM-39.25 58.1h3.39v3.39h-3.39zM14.13 58.1h3.39v3.39h-3.39zM-36.11 61.24h6.53v3.39h-6.53zM10.99 61.24h3.39v3.39h-3.39zM-32.97 64.38h6.53v3.39h-6.53zM4.71 64.38h6.53v3.39h-6.53zM-26.69 67.52h12.81v3.39h-12.81zM-7.85 67.52h12.81v3.39h-12.81zM-20.41 70.66h15.95v3.39h-15.95z"/>
<path fill="#ffff00" d="M-26.69 -105.2h6.53v3.39h-6.53zM20.41 -105.2h9.67v3.39h-9.67zM-29.83 -102.06h6.53v3.39h-6.53zM23.55 -102.06h6.53v3.39h-6.53zM-32.97 -98.92h6.53v3.39h-6.53zM26.69 -98.92h3.39v3.39h-3.39zM-36.11 -95.78h6.53v3.39h-6.53zM26.69 -95.78h6.53v3.39h-6.53zM-39.25 -92.64h6.53v3.39h-6.53zM29.83 -92.64h3.39v3.39h-3.39zM-42.39 -89.5h6.53v3.39h-6.53zM29.83 -89.5h6.53v3.39h-6.53zM-45.53 -86.36h6.53v3.39h-6.53zM29.83 -86.36h6.53v3.39h-6.53zM-48.67 -83.22h6.53v3.39h-6.53zM32.97 -83.22h3.39v3.39h-3.39zM-48.67 -80.08h3.39v3.39h-3.39zM32.97 -80.08h3.39v3.39h-3.39zM-51.81 -76.94h6.53v3.39h-6.53zM32.97 -76.94h3.39v3.39h-3.39zM-54.96 -73.8h6.53v3.39h-6.53zM32.97 -73.8h6.53v3.39h-6.53zM-54.96 -70.66h3.39v3.39h-3.39zM32.97 -70.66h6.53v3.39h-6.53zM-58.1 -67.52h6.53v3.39h-6.53zM36.11 -67.52h3.39v3.39h-3.39zM-58.1 -64.38h3.39v3.39h-3.39zM36.11 -64.38h3.39v3.39h-3.39zM-61.24 -61.24h6.53v3.39h-6.53zM36.11 -61.24h3.39v3.39h-3.39zM-61.24 -58.1h6.53v3.39h-6.53zM36.11 -58.1h3.39v3.39h-3.39zM-61.24 -54.96h6.53v3.39h-6.53zM36.11 -54.96h3.39v3.39h-3.39zM-61.24 -51.81h3.39v3.39h-3.39zM32.97 -51.81h3.39v3.39h-3.39zM-64.38 -48.67h6.53v3.39h-6.53zM32.97 -48.67h3.39v3.39h-3.39zM-64.38 -45.53h6.53v3.39h-6.53zM32.97 -45.53h6.53v3.39h-6.53zM-64.38 -42.39h6.53v3.39h-6.53zM36.11 -42.39h3.39v3.39h-3.39zM-64.38 -39.25h6.53v3.39h-6.53zM36.11 -39.25h3.39v3.39h-3.39zM-64.38 -36.11h6.53v3.39h-6.53zM36.11 -36.11h3.39v3.39h-3.39zM-64.38 -32.97h6.53v3.39h-6.53zM36.11 -32.97h3.39v3.39h-3.39zM-64.38 -29.83h6.53v3.39h-6.53zM36.11 -29.83h6.53v3.39h-6.53zM-64.38 -26.69h6.53v3.39h-6.53zM39.25 -26.69h3.39v3.39h-3.39zM-64.38 -23.55h6.53v3.39h-6.53zM39.25 -23.55h3.39v3.39h-3.39zM-64.38 -20.41h6.53v3.39h-6.53zM39.25 -20.41h3.39v3.39h-3.39zM-64.38 -17.27h6.53v3.39h-6.53zM39.25 -17.27h6.53v3.39h-6.53zM-61.24 -14.13h3.39v3.39h-3.39zM39.25 -14.13h6.53v3.39h-6.53zM-61.24 -10.99h3.39v3.39h-3.39zM42.39 -10.99h3.39v3.39h-3.39zM-61.24 -7.85h6.53v3.39h-6.53zM42.39 -7.85h3.39v3.39h-3.39zM-61.24 -4.71h6.53v3.39h-6.53zM42.39 -4.71h3.39v3.39h-3.39zM-61.24 -1.57h6.53v3.39h-6.53zM39.25 -1.57h6.53v3.39h-6.53zM-58.1 1.57h3.39v3.39h-3.39zM39.25 1.57h3.39v3.39h-3.39zM-58.1 4.71h3.39v3.39h-3.39zM36.11 4.71h6.53v3.39h-6.53zM-58.1 7.85h3.39v3.39h-3.39zM32.97 7.85h6.53v3.39h-6.53zM-58.1 10.99h6.53v3.39h-6.53zM32.97 10.99h3.39v3.39h-3.39zM-58.1 14.13h6.53v3.39h-6.53zM29.83 14.13h3.39v3.39h-3.39zM-58.1 17.27h6.53v3.39h-6.53zM29.83 17.27h3.39v3.39h-3.39zM-54.96 20.41h3.39v3.39h-3.39zM26.69 20.41h3.39v3.39h-3.39zM-54.96 23.55h3.39v3.39h-3.39zM26.69 23.55h3.39v3.39h-3.39zM-54.96 26.69h3.39v3.39h-3.39zM-54.96 29.83h6.53v3.39h-6.53zM23.55 29.83h3.39v3.39h-3.39zM-51.81 32.97h3.39v3.39h-3.39zM23.55 32.97h3.39v3.39h-3.39zM-51.81 36.11h3.39v3.39h-3.39zM23.55 36.11h3.39v3.39h-3.39zM-51.81 39.25h3.39v3.39h-3.39zM-51.81 42.39h6.53v3.39h-6.53zM20.41 42.39h3.39v3.39h-3.39zM-48.67 45.53h3.39v3.39h-3.39zM20.41 45.53h3.39v3.39h-3.39zM-48.67 48.67h3.39v3.39h-3.39zM20.41 48.67h3.39v3.39h-3.39zM-48.67 51.81h6.53v3.39h-6.53zM-45.53 54.96h3.39v3.39h-3.39zM17.27 54.96h3.39v3.39h-3.39zM-45.53 58.1h6.53v3.39h-6.53zM17.27 58.1h3.39v3.39h-3.39zM-42.39 61.24h6.53v3.39h-6.53zM14.13 61.24h3.39v3.39h-3.39zM-39.25 64.38h6.53v3.39h-6.53zM10.99 64.38h3.39v3.39h-3.39zM-36.11 67.52h9.67v3.39h-9.67zM4.71 67.52h6.53v3.39h-6.53zM-29.83 70.66h9.67v3.39h-9.67zM-4.71 70.66h12.81v3.39h-12.81zM-23.55 73.8h25.37v3.39h-25.37z"/>
<path fill="#ffff20" d="M-36.11 -102.06h6.53v3.39h-6.53zM29.83 -102.06h6.53v3.39h-6.53zM-39.25 -98.92h6.53v3.39h-6.53zM29.83 -98.92h6.53v3.39h-6.53zM-42.39 -95.78h6.53v3.39h-6.53zM32.97 -95.78h6.53v3.39h-6.53zM-45.53 -92.64h6.53v3.39h-6.53zM32.97 -92.64h6.53v3.39h-6.53zM-48.67 -89.5h6.53v3.39h-6.53zM36.11 -89.5h3.39v3.39h-3.39zM-51.81 -86.36h6.53v3.39h-6.53zM36.11 -86.36h3.39v3.39h-3.39zM-54.96 -83.22h6.53v3.39h-6.53zM36.11 -83.22h6.53v3.39h-6.53zM-54.96 -80.08h6.53v3.39h-6.53zM36.11 -80.08h6.53v3.39h-6.53zM-58.1 -76.94h6.53v3.39h-6.53zM36.11 -76.94h6.53v3.39h-6.53zM-61.24 -73.8h6.53v3.39h-6.53zM39.25 -73.8h3.39v3.39h-3.39zM-61.24 -70.66h6.53v3.39h-6.53zM39.25 -70.66h3.39v3.39h-3.39zM-64.38 -67.52h6.53v3.39h-6.53zM39.25 -67.52h3.39v3.39h-3.39zM-64.38 -64.38h6.53v3.39h-6.53zM39.25 -64.38h3.39v3.39h-3.39zM-64.38 -61.24h3.39v3.39h-3.39zM39.25 -61.24h3.39v3.39h-3.39zM-67.52 -58.1h6.53v3.39h-6.53zM39.25 -58.1h3.39v3.39h-3.39zM-67.52 -54.96h6.53v3.39h-6.53zM39.25 -54.96h3.39v3.39h-3.39zM-67.52 -51.81h6.53v3.39h-6.53zM36.11 -51.81h6.53v3.39h-6.53zM-67.52 -48.67h3.39v3.39h-3.39zM36.11 -48.67h6.53v3.39h-6.53zM-67.52 -45.53h3.39v3.39h-3.39zM39.25 -45.53h3.39v3.39h-3.39zM-70.66 -42.39h6.53v3.39h-6.53zM39.25 -42.39h3.39v3.39h-3.39zM-70.66 -39.25h6.53v3.39h-6.53zM39.25 -39.25h3.39v3.39h-3.39zM-70.66 -36.11h6.53v3.39h-6.53zM39.25 -36.11h3.39v3.39h-3.39zM-70.66 -32.97h6.53v3.39h-6.53zM39.25 -32.97h3.39v3.39h-3.39zM-70.66 -29.83h6.53v3.39h-6.53zM42.39 -29.83h3.39v3.39h-3.39zM-67.52 -26.69h3.39v3.39h-3.39zM42.39 -26.69h3.39v3.39h-3.39zM-67.52 -23.55h3.39v3.39h-3.39zM42.39 -23.55h3.39v3.39h-3.39zM-67.52 -20.41h3.39v3.39h-3.39zM42.39 -20.41h6.53v3.39h-6.53zM-67.52 -17.27h3.39v3.39h-3.39zM45.53 -17.27h3.39v3.39h-3.39zM-67.52 -14.13h6.53v3.39h-6.53zM45.53 -14.13h3.39v3.39h-3.39zM-67.52 -10.99h6.53v3.39h-6.53zM45.53 -10.99h3.39v3.39h-3.39zM-67.52 -7.85h6.53v3.39h-6.53zM45.53 -7.85h3.39v3.39h-3.39zM-67.52 -4.71h6.53v3.39h-6.53zM45.53 -4.71h3.39v3.39h-3.39zM-64.38 -1.57h3.39v3.39h-3.39zM45.53 -1.57h3.39v3.39h-3.39zM-64.38 1.57h6.53v3.39h-6.53zM42.39 1.57h6.53v3.39h-6.53zM-64.38 4.71h6.53v3.39h-6.53zM42.39 4.71h3.39v3.39h-3.39zM-64.38 7.85h6.53v3.39h-6.53zM39.25 7.85h3.39v3.39h-3.39zM-61.24 10.99h3.39v3.39h-3.39zM36.11 10.99h6.53v3.39h-6.53zM-61.24 14.13h3.39v3.39h-3.39zM32.97 14.13h6.53v3.39h-6.53zM-61.24 17.27h3.39v3.39h-3.39zM32.97 17.27h3.39v3.39h-3.39zM-61.24 20.41h6.53v3.39h-6.53zM29.83 20.41h3.39v3.39h-3.39zM-58.1 23.55h3.39v3.39h-3.39zM29.83 23.55h3.39v3.39h-3.39zM-58.1 26.69h3.39v3.39h-3.39zM26.69 26.69h3.39v3.39h-3.39zM-58.1 29.83h3.39v3.39h-3.39zM26.69 29.83h3.39v3.39h-3.39zM-58.1 32.97h6.53v3.39h-6.53zM26.69 32.97h3.39v3.39h-3.39zM-54.96 36.11h3.39v3.39h-3.39zM-54.96 39.25h3.39v3.39h-3.39zM23.55 39.25h3.39v3.39h-3.39zM-54.96 42.39h3.39v3.39h-3.39zM23.55 42.39h3.39v3.39h-3.39zM-54.96 45.53h6.53v3.39h-6.53zM23.55 45.53h3.39v3.39h-3.39zM-51.81 48.67h3.39v3.39h-3.39zM-51.81 51.81h3.39v3.39h-3.39zM20.41 51.81h3.39v3.39h-3.39zM-48.67 54.96h3.39v3.39h-3.39zM20.41 54.96h3.39v3.39h-3.39zM-48.67 58.1h3.39v3.39h-3.39zM20.41 58.1h3.39v3.39h-3.39zM-45.53 61.24h3.39v3.39h-3.39zM17.27 61.24h3.39v3.39h-3.39zM-45.53 64.38h6.53v3.39h-6.53zM14.13 64.38h6.53v3.39h-6.53zM-42.39 67.52h6.53v3.39h-6.53zM10.99 67.52h6.53v3.39h-6.53zM-39.25 70.66h9.67v3.39h-9.67zM7.85 70.66h6.53v3.39h-6.53zM-32.97 73.8h9.67v3.39h-9.67zM1.57 73.8h9.67v3.39h-9.67zM-26.69 76.94h34.79v3.39h-34.79zM-17.27 80.08h19.09v3.39h-19.09z"/>
<path fill="#ffff40" d="M-48.67 -98.92h9.67v3.39h-9.67zM36.11 -98.92h6.53v3.39h-6.53zM-51.81 -95.78h9.67v3.39h-9.67zM39.25 -95.78h3.39v3.39h-3.39zM-54.96 -92.64h9.67v3.39h-9.67zM39.25 -92.64h6.53v3.39h-6.53zM-54.96 -89.5h6.53v3.39h-6.53zM39.25 -89.5h6.53v3.39h-6.53zM-58.1 -86.36h6.53v3.39h-6.53zM39.25 -86.36h6.53v3.39h-6.53zM-61.24 -83.22h6.53v3.39h-6.53zM42.39 -83.22h3.39v3.39h-3.39zM-61.24 -80.08h6.53v3.39h-6.53zM42.39 -80.08h3.39v3.39h-3.39zM-64.38 -76.94h6.53v3.39h-6.53zM42.39 -76.94h3.39v3.39h-3.39zM-64.38 -73.8h3.39v3.39h-3.39zM42.39 -73.8h3.39v3.39h-3.39zM-67.52 -70.66h6.53v3.39h-6.53zM42.39 -70.66h3.39v3.39h-3.39zM-67.52 -67.52h3.39v3.39h-3.39zM42.39 -67.52h3.39v3.39h-3.39zM-70.66 -64.38h6.53v3.39h-6.53zM42.39 -64.38h3.39v3.39h-3.39zM-70.66 -61.24h6.53v3.39h-6.53zM42.39 -61.24h3.39v3.39h-3.39zM-70.66 -58.1h3.39v3.39h-3.39zM42.39 -58.1h3.39v3.39h-3.39zM-73.8 -54.96h6.53v3.39h-6.53zM42.39 -54.96h3.39v3.39h-3.39zM-73.8 -51.81h6.53v3.39h-6.53zM42.39 -51.81h3.39v3.39h-3.39zM-73.8 -48.67h6.53v3.39h-6.53zM42.39 -48.67h3.39v3.39h-3.39zM-73.8 -45.53h6.53v3.39h-6.53zM42.39 -45.53h3.39v3.39h-3.39zM-73.8 -42.39h3.39v3.39h-3.39zM42.39 -42.39h3.39v3.39h-3.39zM-73.8 -39.25h3.39v3.39h-3.39zM42.39 -39.25h3.39v3.39h-3.39zM-73.8 -36.11h3.39v3.39h-3.39zM42.39 -36.11h3.39v3.39h-3.39zM-73.8 -32.97h3.39v3.39h-3.39zM42.39 -32.97h6.53v3.39h-6.53zM-73.8 -29.83h3.39v3.39h-3.39zM45.53 -29.83h3.39v3.39h-3.39zM-73.8 -26.69h6.53v3.39h-6.53zM45.53 -26.69h3.39v3.39h-3.39zM-73.8 -23.55h6.53v3.39h-6.53zM45.53 -23.55h6.53v3.39h-6.53zM-73.8 -20.41h6.53v3.39h-6.53zM48.67 -20.41h3.39v3.39h-3.39zM-73.8 -17.27h6.53v3.39h-6.53zM48.67 -17.27h3.39v3.39h-3.39zM-73.8 -14.13h6.53v3.39h-6.53zM48.67 -14.13h6.53v3.39h-6.53zM-70.66 -10.99h3.39v3.39h-3.39zM48.67 -10.99h6.53v3.39h-6.53zM-70.66 -7.85h3.39v3.39h-3.39zM48.67 -7.85h6.53v3.39h-6.53zM-70.66 -4.71h3.39v3.39h-3.39zM48.67 -4.71h6.53v3.39h-6.53zM-70.66 -1.57h6.53v3.39h-6.53zM48.67 -1.57h6.53v3.39h-6.53zM-70.66 1.57h6.53v3.39h-6.53zM48.67 1.57h3.39v3.39h-3.39zM-67.52 4.71h3.39v3.39h-3.39zM45.53 4.71h6.53v3.39h-6.53zM-67.52 7.85h3.39v3.39h-3.39zM42.39 7.85h6.53v3.39h-6.53zM-67.52 10.99h6.53v3.39h-6.53zM42.39 10.99h3.39v3.39h-3.39zM-67.52 14.13h6.53v3.39h-6.53zM39.25 14.13h3.39v3.39h-3.39zM-64.38 17.27h3.39v3.39h-3.39zM36.11 17.27h3.39v3.39h-3.39zM-64.38 20.41h3.39v3.39h-3.39zM32.97 20.41h6.53v3.39h-6.53zM-64.38 23.55h6.53v3.39h-6.53zM32.97 23.55h3.39v3.39h-3.39zM-64.38 26.69h6.53v3.39h-6.53zM29.83 26.69h6.53v3.39h-6.53zM-61.24 29.83h3.39v3.39h-3.39zM29.83 29.83h3.39v3.39h-3.39zM-61.24 32.97h3.39v3.39h-3.39zM29.83 32.97h3.39v3.39h-3.39zM-61.24 36.11h6.53v3.39h-6.53zM26.69 36.11h3.39v3.39h-3.39zM-58.1 39.25h3.39v3.39h-3.39zM26.69 39.25h3.39v3.39h-3.39zM-58.1 42.39h3.39v3.39h-3.39zM26.69 42.39h3.39v3.39h-3.39zM-58.1 45.53h3.39v3.39h-3.39zM-54.96 48.67h3.39v3.39h-3.39zM23.55 48.67h3.39v3.39h-3.39zM-54.96 51.81h3.39v3.39h-3.39zM23.55 51.81h3.39v3.39h-3.39zM-54.96 54.96h6.53v3.39h-6.53zM23.55 54.96h3.39v3.39h-3.39zM-51.81 58.1h3.39v3.39h-3.39zM23.55 58.1h3.39v3.39h-3.39zM-51.81 61.24h6.53v3.39h-6.53zM20.41 61.24h6.53v3.39h-6.53zM-48.67 64.38h3.39v3.39h-3.39zM20.41 64.38h3.39v3.39h-3.39zM-48.67 67.52h6.53v3.39h-6.53zM17.27 67.52h6.53v3.39h-6.53zM-45.53 70.66h6.53v3.39h-6.53zM14.13 70.66h6.53v3.39h-6.53zM-42.39 73.8h9.67v3.39h-9.67zM10.99 73.8h9.67v3.39h-9.67zM-36.11 76.94h9.67v3.39h-9.67zM7.85 76.94h9.67v3.39h-9.67zM-29.83 80.08h12.81v3.39h-12.81zM1.57 80.08h12.81v3.39h-12.81zM-23.55 83.22h34.79v3.39h-34.79zM-14.13 86.36h19.09v3.39h-19.09z"/>
<path fill="#ffff60" d="M42.39 -95.78h6.53v3.39h-6.53zM45.53 -92.64h3.39v3.39h-3.39zM-64.38 -89.5h9.67v3.39h-9.67zM45.53 -89.5h6.53v3.39h-6.53zM-64.38 -86.36h6.53v3.39h-6.53zM45.53 -86.36h6.53v3.39h-6.53zM-67.52 -83.22h6.53v3.39h-6.53zM45.53 -83.22h6.53v3.39h-6.53zM-67.52 -80.08h6.53v3.39h-6.53zM45.53 -80.08h6.53v3.39h-6.53zM-70.66 -76.94h6.53v3.39h-6.53zM45.53 -76.94h6.53v3.39h-6.53zM-70.66 -73.8h6.53v3.39h-6.53zM45.53 -73.8h6.53v3.39h-6.53zM-73.8 -70.66h6.53v3.39h-6.53zM45.53 -70.66h6.53v3.39h-6.53zM-73.8 -67.52h6.53v3.39h-6.53zM45.53 -67.52h6.53v3.39h-6.53zM-73.8 -64.38h3.39v3.39h-3.39zM45.53 -64.38h3.39v3.39h-3.39zM-76.94 -61.24h6.53v3.39h-6.53zM45.53 -61.24h3.39v3.39h-3.39zM-76.94 -58.1h6.53v3.39h-6.53zM45.53 -58.1h3.39v3.39h-3.39zM-76.94 -54.96h3.39v3.39h-3.39zM45.53 -54.96h3.39v3.39h-3.39zM-76.94 -51.81h3.39v3.39h-3.39zM45.53 -51.81h3.39v3.39h-3.39zM-80.08 -48.67h6.53v3.39h-6.53zM45.53 -48.67h3.39v3.39h-3.39zM-80.08 -45.53h6.53v3.39h-6.53zM45.53 -45.53h3.39v3.39h-3.39zM-80.08 -42.39h6.53v3.39h-6.53zM45.53 -42.39h3.39v3.39h-3.39zM-80.08 -39.25h6.53v3.39h-6.53zM45.53 -39.25h3.39v3.39h-3.39zM-80.08 -36.11h6.53v3.39h-6.53zM45.53 -36.11h6.53v3.39h-6.53zM-80.08 -32.97h6.53v3.39h-6.53zM48.67 -32.97h3.39v3.39h-3.39zM-80.08 -29.83h6.53v3.39h-6.53zM48.67 -29.83h3.39v3.39h-3.39zM-80.08 -26.69h6.53v3.39h-6.53zM48.67 -26.69h6.53v3.39h-6.53zM-80.08 -23.55h6.53v3.39h-6.53zM51.81 -23.55h3.39v3.39h-3.39zM-76.94 -20.41h3.39v3.39h-3.39zM51.81 -20.41h6.53v3.39h-6.53zM-76.94 -17.27h3.39v3.39h-3.39zM51.81 -17.27h6.53v3.39h-6.53zM-76.94 -14.13h3.39v3.39h-3.39zM54.96 -14.13h3.39v3.39h-3.39zM-76.94 -10.99h6.53v3.39h-6.53zM54.96 -10.99h3.39v3.39h-3.39zM-76.94 -7.85h6.53v3.39h-6.53zM54.96 -7.85h3.39v3.39h-3.39zM-76.94 -4.71h6.53v3.39h-6.53zM54.96 -4.71h3.39v3.39h-3.39zM-73.8 -1.57h3.39v3.39h-3.39zM54.96 -1.57h3.39v3.39h-3.39zM-73.8 1.57h3.39v3.39h-3.39zM51.81 1.57h6.53v3.39h-6.53zM-73.8 4.71h6.53v3.39h-6.53zM51.81 4.71h6.53v3.39h-6.53zM-73.8 7.85h6.53v3.39h-6.53zM48.67 7.85h6.53v3.39h-6.53zM-70.66 10.99h3.39v3.39h-3.39zM45.53 10.99h6.53v3.39h-6.53zM-70.66 14.13h3.39v3.39h-3.39zM42.39 14.13h6.53v3.39h-6.53zM-70.66 17.27h6.53v3.39h-6.53zM39.25 17.27h6.53v3.39h-6.53zM-70.66 20.41h6.53v3.39h-6.53zM39.25 20.41h3.39v3.39h-3.39zM-67.52 23.55h3.39v3.39h-3.39zM36.11 23.55h6.53v3.39h-6.53zM-67.52 26.69h3.39v3.39h-3.39zM36.11 26.69h3.39v3.39h-3.39zM-67.52 29.83h6.53v3.39h-6.53zM32.97 29.83h3.39v3.39h-3.39zM-64.38 32.97h3.39v3.39h-3.39zM32.97 32.97h3.39v3.39h-3.39zM-64.38 36.11h3.39v3.39h-3.39zM29.83 36.11h3.39v3.39h-3.39zM-64.38 39.25h6.53v3.39h-6.53zM29.83 39.25h3.39v3.39h-3.39zM-61.24 42.39h3.39v3.39h-3.39zM29.83 42.39h3.39v3.39h-3.39zM-61.24 45.53h3.39v3.39h-3.39zM26.69 45.53h3.39v3.39h-3.39zM-61.24 48.67h6.53v3.39h-6.53zM26.69 48.67h3.39v3.39h-3.39zM-58.1 51.81h3.39v3.39h-3.39zM26.69 51.81h3.39v3.39h-3.39zM-58.1 54.96h3.39v3.39h-3.39zM26.69 54.96h3.39v3.39h-3.39zM-58.1 58.1h6.53v3.39h-6.53zM26.69 58.1h3.39v3.39h-3.39zM-54.96 61.24h3.39v3.39h-3.39zM26.69 61.24h3.39v3.39h-3.39zM-54.96 64.38h6.53v3.39h-6.53zM23.55 64.38h6.53v3.39h-6.53zM-51.81 67.52h3.39v3.39h-3.39zM23.55 67.52h6.53v3.39h-6.53zM-51.81 70.66h6.53v3.39h-6.53zM20.41 70.66h6.53v3.39h-6.53zM-48.67 73.8h6.53v3.39h-6.53zM20.41 73.8h6.53v3.39h-6.53zM-45.53 76.94h9.67v3.39h-9.67zM17.27 76.94h6.53v3.39h-6.53zM-42.39 80.08h12.81v3.39h-12.81zM14.13 80.08h9.67v3.39h-9.67zM-36.11 83.22h12.81v3.39h-12.81zM10.99 83.22h9.67v3.39h-9.67zM-29.83 86.36h15.95v3.39h-15.95zM4.71 86.36h12.81v3.39h-12.81zM-23.55 89.5h37.93v3.39h-37.93zM-17.27 92.64h28.51v3.39h-28.51zM-4.71 95.78h6.53v3.39h-6.53z"/>
<path fill="#ffff80" d="M48.67 -92.64h6.53v3.39h-6.53zM51.81 -89.5h3.39v3.39h-3.39zM51.81 -86.36h3.39v3.39h-3.39zM51.81 -83.22h3.39v3.39h-3.39zM-73.8 -80.08h6.53v3.39h-6.53zM51.81 -80.08h3.39v3.39h-3.39zM-76.94 -76.94h6.53v3.39h-6.53zM51.81 -76.94h3.39v3.39h-3.39zM-76.94 -73.8h6.53v3.39h-6.53zM51.81 -73.8h3.39v3.39h-3.39zM-80.08 -70.66h6.53v3.39h-6.53zM51.81 -70.66h3.39v3.39h-3.39zM-80.08 -67.52h6.53v3.39h-6.53zM51.81 -67.52h3.39v3.39h-3.39zM-80.08 -64.38h6.53v3.39h-6.53zM48.67 -64.38h6.53v3.39h-6.53zM-83.22 -61.24h6.53v3.39h-6.53zM48.67 -61.24h6.53v3.39h-6.53zM-83.22 -58.1h6.53v3.39h-6.53zM48.67 -58.1h6.53v3.39h-6.53zM-83.22 -54.96h6.53v3.39h-6.53zM48.67 -54.96h6.53v3.39h-6.53zM-83.22 -51.81h6.53v3.39h-6.53zM48.67 -51.81h6.53v3.39h-6.53zM-83.22 -48.67h3.39v3.39h-3.39zM48.67 -48.67h6.53v3.39h-6.53zM-83.22 -45.53h3.39v3.39h-3.39zM48.67 -45.53h6.53v3.39h-6.53zM-83.22 -42.39h3.39v3.39h-3.39zM48.67 -42.39h6.53v3.39h-6.53zM-83.22 -39.25h3.39v3.39h-3.39zM48.67 -39.25h6.53v3.39h-6.53zM-83.22 -36.11h3.39v3.39h-3.39zM51.81 -36.11h3.39v3.39h-3.39zM-83.22 -32.97h3.39v3.39h-3.39zM51.81 -32.97h3.39v3.39h-3.39zM-83.22 -29.83h3.39v3.39h-3.39zM51.81 -29.83h6.53v3.39h-6.53zM-83.22 -26.69h3.39v3.39h-3.39zM54.96 -26.69h3.39v3.39h-3.39zM-83.22 -23.55h3.39v3.39h-3.39zM54.96 -23.55h6.53v3.39h-6.53zM-83.22 -20.41h6.53v3.39h-6.53zM58.1 -20.41h3.39v3.39h-3.39zM-83.22 -17.27h6.53v3.39h-6.53zM58.1 -17.27h6.53v3.39h-6.53zM-83.22 -14.13h6.53v3.39h-6.53zM58.1 -14.13h6.53v3.39h-6.53zM-83.22 -10.99h6.53v3.39h-6.53zM58.1 -10.99h6.53v3.39h-6.53zM-80.08 -7.85h3.39v3.39h-3.39zM58.1 -7.85h6.53v3.39h-6.53zM-80.08 -4.71h3.39v3.39h-3.39zM58.1 -4.71h6.53v3.39h-6.53zM-80.08 -1.57h6.53v3.39h-6.53zM58.1 -1.57h6.53v3.39h-6.53zM-80.08 1.57h6.53v3.39h-6.53zM58.1 1.57h6.53v3.39h-6.53zM-76.94 4.71h3.39v3.39h-3.39zM58.1 4.71h6.53v3.39h-6.53zM-76.94 7.85h3.39v3.39h-3.39zM54.96 7.85h6.53v3.39h-6.53zM-76.94 10.99h6.53v3.39h-6.53zM51.81 10.99h9.67v3.39h-9.67zM-76.94 14.13h6.53v3.39h-6.53zM48.67 14.13h9.67v3.39h-9.67zM-73.8 17.27h3.39v3.39h-3.39zM45.53 17.27h9.67v3.39h-9.67zM-73.8 20.41h3.39v3.39h-3.39zM42.39 20.41h9.67v3.39h-9.67zM-73.8 23.55h6.53v3.39h-6.53zM42.39 23.55h6.53v3.39h-6.53zM-70.66 26.69h3.39v3.39h-3.39zM39.25 26.69h6.53v3.39h-6.53zM-70.66 29.83h3.39v3.39h-3.39zM36.11 29.83h6.53v3.39h-6.53zM-70.66 32.97h6.53v3.39h-6.53zM36.11 32.97h3.39v3.39h-3.39zM-67.52 36.11h3.39v3.39h-3.39zM32.97 36.11h6.53v3.39h-6.53zM-67.52 39.25h3.39v3.39h-3.39zM32.97 39.25h3.39v3.39h-3.39zM-67.52 42.39h6.53v3.39h-6.53zM32.97 42.39h3.39v3.39h-3.39zM-64.38 45.53h3.39v3.39h-3.39zM29.83 45.53h6.53v3.39h-6.53zM-64.38 48.67h3.39v3.39h-3.39zM29.83 48.67h3.39v3.39h-3.39zM-64.38 51.81h6.53v3.39h-6.53zM29.83 51.81h6.53v3.39h-6.53zM-61.24 54.96h3.39v3.39h-3.39zM29.83 54.96h6.53v3.39h-6.53zM-61.24 58.1h3.39v3.39h-3.39zM29.83 58.1h6.53v3.39h-6.53zM-61.24 61.24h6.53v3.39h-6.53zM29.83 61.24h6.53v3.39h-6.53zM-58.1 64.38h3.39v3.39h-3.39zM29.83 64.38h6.53v3.39h-6.53zM-58.1 67.52h6.53v3.39h-6.53zM29.83 67.52h3.39v3.39h-3.39zM-54.96 70.66h3.39v3.39h-3.39zM26.69 70.66h6.53v3.39h-6.53zM-54.96 73.8h6.53v3.39h-6.53zM26.69 73.8h6.53v3.39h-6.53zM-51.81 76.94h6.53v3.39h-6.53zM23.55 76.94h9.67v3.39h-9.67zM-48.67 80.08h6.53v3.39h-6.53zM23.55 80.08h9.67v3.39h-9.67zM-45.53 83.22h9.67v3.39h-9.67zM20.41 83.22h9.67v3.39h-9.67zM-42.39 86.36h12.81v3.39h-12.81zM17.27 86.36h12.81v3.39h-12.81zM-36.11 89.5h12.81v3.39h-12.81zM14.13 89.5h12.81v3.39h-12.81zM-29.83 92.64h12.81v3.39h-12.81zM10.99 92.64h12.81v3.39h-12.81zM-26.69 95.78h22.23v3.39h-22.23zM1.57 95.78h19.09v3.39h-19.09zM-20.41 98.92h37.93v3.39h-37.93zM-10.99 102.06h22.23v3.39h-22.23z"/>
<path fill="#ffffa0" d="M54.96 -89.5h6.53v3.39h-6.53zM54.96 -86.36h6.53v3.39h-6.53zM54.96 -83.22h6.53v3.39h-6.53zM54.96 -80.08h6.53v3.39h-6.53zM54.96 -76.94h6.53v3.39h-6.53zM54.96 -73.8h6.53v3.39h-6.53zM54.96 -70.66h6.53v3.39h-6.53zM-86.36 -67.52h6.53v3.39h-6.53zM54.96 -67.52h6.53v3.39h-6.53zM-86.36 -64.38h6.53v3.39h-6.53zM54.96 -64.38h6.53v3.39h-6.53zM-86.36 -61.24h3.39v3.39h-3.39zM54.96 -61.24h3.39v3.39h-3.39zM-89.5 -58.1h6.53v3.39h-6.53zM54.96 -58.1h3.39v3.39h-3.39zM-89.5 -54.96h6.53v3.39h-6.53zM54.96 -54.96h3.39v3.39h-3.39zM-89.5 -51.81h6.53v3.39h-6.53zM54.96 -51.81h3.39v3.39h-3.39zM-89.5 -48.67h6.53v3.39h-6.53zM54.96 -48.67h3.39v3.39h-3.39zM-89.5 -45.53h6.53v3.39h-6.53zM54.96 -45.53h3.39v3.39h-3.39zM-89.5 -42.39h6.53v3.39h-6.53zM54.96 -42.39h3.39v3.39h-3.39zM-89.5 -39.25h6.53v3.39h-6.53zM54.96 -39.25h3.39v3.39h-3.39zM-89.5 -36.11h6.53v3.39h-6.53zM54.96 -36.11h6.53v3.39h-6.53zM-89.5 -32.97h6.53v3.39h-6.53zM54.96 -32.97h6.53v3.39h-6.53zM-89.5 -29.83h6.53v3.39h-6.53zM58.1 -29.83h6.53v3.39h-6.53zM-89.5 -26.69h6.53v3.39h-6.53zM58.1 -26.69h6.53v3.39h-6.53zM-89.5 -23.55h6.53v3.39h-6.53zM61.24 -23.55h6.53v3.39h-6.53zM-89.5 -20.41h6.53v3.39h-6.53zM61.24 -20.41h6.53v3.39h-6.53zM-86.36 -17.27h3.39v3.39h-3.39zM64.38 -17.27h3.39v3.39h-3.39zM-86.36 -14.13h3.39v3.39h-3.39zM64.38 -14.13h6.53v3.39h-6.53zM-86.36 -10.99h3.39v3.39h-3.39zM64.38 -10.99h6.53v3.39h-6.53zM-86.36 -7.85h6.53v3.39h-6.53zM64.38 -7.85h6.53v3.39h-6.53zM-86.36 -4.71h6.53v3.39h-6.53zM64.38 -4.71h9.67v3.39h-9.67zM-86.36 -1.57h6.53v3.39h-6.53zM64.38 -1.57h9.67v3.39h-9.67zM-83.22 1.57h3.39v3.39h-3.39zM64.38 1.57h9.67v3.39h-9.67zM-83.22 4.71h6.53v3.39h-6.53zM64.38 4.71h9.67v3.39h-9.67zM-83.22 7.85h6.53v3.39h-6.53zM61.24 7.85h9.67v3.39h-9.67zM-80.08 10.99h3.39v3.39h-3.39zM61.24 10.99h9.67v3.39h-9.67zM-80.08 14.13h3.39v3.39h-3.39zM58.1 14.13h12.81v3.39h-12.81zM-80.08 17.27h6.53v3.39h-6.53zM54.96 17.27h12.81v3.39h-12.81zM-80.08 20.41h6.53v3.39h-6.53zM51.81 20.41h12.81v3.39h-12.81zM-76.94 23.55h3.39v3.39h-3.39zM48.67 23.55h12.81v3.39h-12.81zM-76.94 26.69h6.53v3.39h-6.53zM45.53 26.69h12.81v3.39h-12.81zM-76.94 29.83h6.53v3.39h-6.53zM42.39 29.83h12.81v3.39h-12.81zM-73.8 32.97h3.39v3.39h-3.39zM39.25 32.97h9.67v3.39h-9.67zM-73.8 36.11h6.53v3.39h-6.53zM39.25 36.11h6.53v3.39h-6.53zM-70.66 39.25h3.39v3.39h-3.39zM36.11 39.25h9.67v3.39h-9.67zM-70.66 42.39h3.39v3.39h-3.39zM36.11 42.39h6.53v3.39h-6.53zM-70.66 45.53h6.53v3.39h-6.53zM36.11 45.53h6.53v3.39h-6.53zM-67.52 48.67h3.39v3.39h-3.39zM32.97 48.67h6.53v3.39h-6.53zM-67.52 51.81h3.39v3.39h-3.39zM36.11 51.81h6.53v3.39h-6.53zM-67.52 54.96h6.53v3.39h-6.53zM36.11 54.96h6.53v3.39h-6.53zM-64.38 58.1h3.39v3.39h-3.39zM36.11 58.1h6.53v3.39h-6.53zM-64.38 61.24h3.39v3.39h-3.39zM36.11 61.24h6.53v3.39h-6.53zM-64.38 64.38h6.53v3.39h-6.53zM36.11 64.38h6.53v3.39h-6.53zM-61.24 67.52h3.39v3.39h-3.39zM32.97 67.52h9.67v3.39h-9.67zM-61.24 70.66h6.53v3.39h-6.53zM32.97 70.66h9.67v3.39h-9.67zM-61.24 73.8h6.53v3.39h-6.53zM32.97 73.8h9.67v3.39h-9.67zM-58.1 76.94h6.53v3.39h-6.53zM32.97 76.94h9.67v3.39h-9.67zM-54.96 80.08h6.53v3.39h-6.53zM32.97 80.08h9.67v3.39h-9.67zM-51.81 83.22h6.53v3.39h-6.53zM29.83 83.22h12.81v3.39h-12.81zM-51.81 86.36h9.67v3.39h-9.67zM29.83 86.36h9.67v3.39h-9.67zM-45.53 89.5h9.67v3.39h-9.67zM26.69 89.5h12.81v3.39h-12.81zM-42.39 92.64h12.81v3.39h-12.81zM23.55 92.64h12.81v3.39h-12.81zM-39.25 95.78h12.81v3.39h-12.81zM20.41 95.78h15.95v3.39h-15.95zM-32.97 98.92h12.81v3.39h-12.81zM17.27 98.92h15.95v3.39h-15.95zM-29.83 102.06h19.09v3.39h-19.09zM10.99 102.06h19.09v3.39h-19.09z"/>
<path fill="#ffffc0" d="M61.24 -86.36h9.67v3.39h-9.67zM61.24 -83.22h6.53v3.39h-6.53zM61.24 -80.08h6.53v3.39h-6.53zM61.24 -76.94h6.53v3.39h-6.53zM61.24 -73.8h6.53v3.39h-6.53zM61.24 -70.66h6.53v3.39h-6.53zM61.24 -67.52h6.53v3.39h-6.53zM61.24 -64.38h6.53v3.39h-6.53zM-92.64 -61.24h6.53v3.39h-6.53zM58.1 -61.24h6.53v3.39h-6.53zM58.1 -58.1h6.53v3.39h-6.53zM-92.64 -54.96h3.39v3.39h-3.39zM58.1 -54.96h6.53v3.39h-6.53zM-95.78 -51.81h6.53v3.39h-6.53zM58.1 -51.81h6.53v3.39h-6.53zM-95.78 -48.67h6.53v3.39h-6.53zM58.1 -48.67h6.53v3.39h-6.53zM-95.78 -45.53h6.53v3.39h-6.53zM58.1 -45.53h6.53v3.39h-6.53zM-95.78 -42.39h6.53v3.39h-6.53zM58.1 -42.39h6.53v3.39h-6.53zM-95.78 -39.25h6.53v3.39h-6.53zM58.1 -39.25h6.53v3.39h-6.53zM-95.78 -36.11h6.53v3.39h-6.53zM61.24 -36.11h6.53v3.39h-6.53zM-95.78 -32.97h6.53v3.39h-6.53zM61.24 -32.97h6.53v3.39h-6.53zM-95.78 -29.83h6.53v3.39h-6.53zM64.38 -29.83h6.53v3.39h-6.53zM-92.64 -26.69h3.39v3.39h-3.39zM64.38 -26.69h6.53v3.39h-6.53zM-92.64 -23.55h3.39v3.39h-3.39zM67.52 -23.55h6.53v3.39h-6.53zM-92.64 -20.41h3.39v3.39h-3.39zM67.52 -20.41h6.53v3.39h-6.53zM-92.64 -17.27h6.53v3.39h-6.53zM67.52 -17.27h9.67v3.39h-9.67zM-92.64 -14.13h6.53v3.39h-6.53zM70.66 -14.13h6.53v3.39h-6.53zM-92.64 -10.99h6.53v3.39h-6.53zM70.66 -10.99h9.67v3.39h-9.67zM-89.5 -7.85h3.39v3.39h-3.39zM70.66 -7.85h9.67v3.39h-9.67zM-89.5 -4.71h3.39v3.39h-3.39zM73.8 -4.71h9.67v3.39h-9.67zM-89.5 -1.57h3.39v3.39h-3.39zM73.8 -1.57h9.67v3.39h-9.67zM-89.5 1.57h6.53v3.39h-6.53zM73.8 1.57h9.67v3.39h-9.67zM-86.36 4.71h3.39v3.39h-3.39zM73.8 4.71h9.67v3.39h-9.67zM-86.36 7.85h3.39v3.39h-3.39zM70.66 7.85h12.81v3.39h-12.81zM-86.36 10.99h6.53v3.39h-6.53zM70.66 10.99h12.81v3.39h-12.81zM-86.36 14.13h6.53v3.39h-6.53zM70.66 14.13h12.81v3.39h-12.81zM-83.22 17.27h3.39v3.39h-3.39zM67.52 17.27h15.95v3.39h-15.95zM-83.22 20.41h3.39v3.39h-3.39zM64.38 20.41h19.09v3.39h-19.09zM-83.22 23.55h6.53v3.39h-6.53zM61.24 23.55h22.23v3.39h-22.23zM-80.08 26.69h3.39v3.39h-3.39zM58.1 26.69h25.37v3.39h-25.37zM-80.08 29.83h3.39v3.39h-3.39zM54.96 29.83h28.51v3.39h-28.51zM-80.08 32.97h6.53v3.39h-6.53zM48.67 32.97h34.79v3.39h-34.79zM-76.94 36.11h3.39v3.39h-3.39zM45.53 36.11h37.93v3.39h-37.93zM-76.94 39.25h6.53v3.39h-6.53zM45.53 39.25h37.93v3.39h-37.93zM-76.94 42.39h6.53v3.39h-6.53zM42.39 42.39h41.07v3.39h-41.07zM-73.8 45.53h3.39v3.39h-3.39zM42.39 45.53h41.07v3.39h-41.07zM-73.8 48.67h6.53v3.39h-6.53zM39.25 48.67h44.21v3.39h-44.21zM-73.8 51.81h6.53v3.39h-6.53zM42.39 51.81h41.07v3.39h-41.07zM-70.66 54.96h3.39v3.39h-3.39zM42.39 54.96h41.07v3.39h-41.07zM-70.66 58.1h6.53v3.39h-6.53zM42.39 58.1h37.93v3.39h-37.93zM-70.66 61.24h6.53v3.39h-6.53zM42.39 61.24h37.93v3.39h-37.93zM-67.52 64.38h3.39v3.39h-3.39zM42.39 64.38h34.79v3.39h-34.79zM-67.52 67.52h6.53v3.39h-6.53zM42.39 67.52h31.65v3.39h-31.65zM-67.52 70.66h6.53v3.39h-6.53zM42.39 70.66h28.51v3.39h-28.51zM-64.38 73.8h3.39v3.39h-3.39zM42.39 73.8h25.37v3.39h-25.37zM-64.38 76.94h6.53v3.39h-6.53zM42.39 76.94h22.23v3.39h-22.23zM-61.24 80.08h6.53v3.39h-6.53zM42.39 80.08h19.09v3.39h-19.09zM-61.24 83.22h9.67v3.39h-9.67zM42.39 83.22h15.95v3.39h-15.95zM-58.1 86.36h6.53v3.39h-6.53zM39.25 86.36h19.09v3.39h-19.09zM-54.96 89.5h9.67v3.39h-9.67zM39.25 89.5h15.95v3.39h-15.95zM-51.81 92.64h9.67v3.39h-9.67zM36.11 92.64h19.09v3.39h-19.09zM-48.67 95.78h9.67v3.39h-9.67zM36.11 95.78h15.95v3.39h-15.95z"/>
<path fill="#ffffe0" d="M67.52 -80.08h9.67v3.39h-9.67zM67.52 -76.94h9.67v3.39h-9.67zM67.52 -73.8h6.53v3.39h-6.53zM67.52 -70.66h6.53v3.39h-6.53zM67.52 -67.52h6.53v3.39h-6.53zM67.52 -64.38h6.53v3.39h-6.53zM64.38 -61.24h9.67v3.39h-9.67zM64.38 -58.1h9.67v3.39h-9.67zM64.38 -54.96h6.53v3.39h-6.53zM64.38 -51.81h6.53v3.39h-6.53zM64.38 -48.67h6.53v3.39h-6.53zM64.38 -45.53h6.53v3.39h-6.53zM-98.92 -42.39h3.39v3.39h-3.39zM64.38 -42.39h9.67v3.39h-9.67zM-98.92 -39.25h3.39v3.39h-3.39zM64.38 -39.25h9.67v3.39h-9.67zM-98.92 -36.11h3.39v3.39h-3.39zM67.52 -36.11h6.53v3.39h-6.53zM-98.92 -32.97h3.39v3.39h-3.39zM67.52 -32.97h9.67v3.39h-9.67zM-98.92 -29.83h3.39v3.39h-3.39zM70.66 -29.83h6.53v3.39h-6.53zM-98.92 -26.69h6.53v3.39h-6.53zM70.66 -26.69h9.67v3.39h-9.67zM-98.92 -23.55h6.53v3.39h-6.53zM73.8 -23.55h9.67v3.39h-9.67zM-98.92 -20.41h6.53v3.39h-6.53zM73.8 -20.41h9.67v3.39h-9.67zM-98.92 -17.27h6.53v3.39h-6.53zM76.94 -17.27h9.67v3.39h-9.67zM-95.78 -14.13h3.39v3.39h-3.39zM76.94 -14.13h12.81v3.39h-12.81zM-95.78 -10.99h3.39v3.39h-3.39zM80.08 -10.99h9.67v3.39h-9.67zM-95.78 -7.85h6.53v3.39h-6.53zM80.08 -7.85h12.81v3.39h-12.81zM-95.78 -4.71h6.53v3.39h-6.53zM83.22 -4.71h9.67v3.39h-9.67zM-95.78 -1.57h6.53v3.39h-6.53zM83.22 -1.57h12.81v3.39h-12.81zM-92.64 1.57h3.39v3.39h-3.39zM83.22 1.57h12.81v3.39h-12.81zM-92.64 4.71h6.53v3.39h-6.53zM83.22 4.71h15.95v3.39h-15.95zM-92.64 7.85h6.53v3.39h-6.53zM83.22 7.85h15.95v3.39h-15.95zM-89.5 10.99h3.39v3.39h-3.39zM83.22 10.99h15.95v3.39h-15.95zM-89.5 14.13h3.39v3.39h-3.39zM83.22 14.13h15.95v3.39h-15.95zM-89.5 17.27h6.53v3.39h-6.53zM83.22 17.27h19.09v3.39h-19.09zM-89.5 20.41h6.53v3.39h-6.53zM83.22 20.41h19.09v3.39h-19.09zM-86.36 23.55h3.39v3.39h-3.39zM83.22 23.55h19.09v3.39h-19.09zM-86.36 26.69h6.53v3.39h-6.53zM83.22 26.69h19.09v3.39h-19.09zM-86.36 29.83h6.53v3.39h-6.53zM83.22 29.83h22.23v3.39h-22.23zM-83.22 32.97h3.39v3.39h-3.39zM83.22 32.97h22.23v3.39h-22.23zM-83.22 36.11h6.53v3.39h-6.53zM83.22 36.11h22.23v3.39h-22.23zM-83.22 39.25h6.53v3.39h-6.53zM83.22 39.25h22.23v3.39h-22.23zM-80.08 42.39h3.39v3.39h-3.39zM83.22 42.39h22.23v3.39h-22.23zM-80.08 45.53h6.53v3.39h-6.53zM83.22 45.53h22.23v3.39h-22.23zM-80.08 48.67h6.53v3.39h-6.53zM83.22 48.67h22.23v3.39h-22.23zM-76.94 51.81h3.39v3.39h-3.39zM83.22 51.81h22.23v3.39h-22.23zM-76.94 54.96h6.53v3.39h-6.53zM83.22 54.96h22.23v3.39h-22.23zM-76.94 58.1h6.53v3.39h-6.53zM80.08 58.1h25.37v3.39h-25.37zM-73.8 61.24h3.39v3.39h-3.39zM80.08 61.24h25.37v3.39h-25.37zM-73.8 64.38h6.53v3.39h-6.53zM76.94 64.38h28.51v3.39h-28.51zM-73.8 67.52h6.53v3.39h-6.53zM73.8 67.52h31.65v3.39h-31.65zM-70.66 70.66h3.39v3.39h-3.39zM70.66 70.66h31.65v3.39h-31.65zM-70.66 73.8h6.53v3.39h-6.53zM67.52 73.8h34.79v3.39h-34.79zM-70.66 76.94h6.53v3.39h-6.53zM64.38 76.94h34.79v3.39h-34.79zM-67.52 80.08h6.53v3.39h-6.53zM61.24 80.08h37.93v3.39h-37.93zM-67.52 83.22h6.53v3.39h-6.53zM58.1 83.22h37.93v3.39h-37.93zM-64.38 86.36h6.53v3.39h-6.53zM58.1 86.36h34.79v3.39h-34.79z"/>
</g>
<ellipse cx="0" cy="-0.5" rx="103.1" ry="103" fill="none" stroke="#000" stroke-width="5.4"/>
<path d="M-41.5 -86.5h32.4M-25.3 -102.7v32.4M-36.8 -98l23 23M-36.8 -75l23 -23M9.1 -86.5h32.4M25.3 -102.7v32.4M13.8 -98l23 23M13.8 -75l23 -23M-49.5 -44.7h32.4M-33.3 -60.9v32.4M-44.8 -56.2l23 23M-44.8 -33.2l23 -23M-16.2 -43.3h32.4M0 -59.5v32.4M-11.5 -54.8l23 23M-11.5 -31.8l23 -23M17.1 -44.7h32.4M33.3 -60.9v32.4M21.8 -56.2l23 23M21.8 -33.2l23 -23M-57.7 0h32.4M-41.5 -16.2v32.4M-53 -11.5l23 23M-53 11.5l23 -23M-16.2 0h32.4M0 -16.2v32.4M-11.5 -11.5l23 23M-11.5 11.5l23 -23M25.3 0h32.4M41.5 -16.2v32.4M30 -11.5l23 23M30 11.5l23 -23M-49.6 45h32.4M-33.4 28.8v32.4M-44.9 33.5l23 23M-44.9 56.5l23 -23M-16.2 44.5h32.4M0 28.3v32.4M-11.5 33l23 23M-11.5 56l23 -23" stroke="#000" stroke-width="1.6" fill="none"/>
<g fill="none" stroke="#000" stroke-width="1.55"><circle cx="-66.9" cy="51.3" r="2.65"/><circle cx="33.4" cy="45" r="2.65"/><circle cx="66.9" cy="51.3" r="2.65"/><circle cx="-26" cy="85.2" r="2.65"/><circle cx="0" cy="89.6" r="2.65"/><circle cx="26" cy="85.2" r="2.65"/></g>
</g>
</g>
<g id="arrows">
<path d="M311.9 488.1L311.82 567.3" stroke="#1c181c" stroke-width="3.6" fill="none"/>
<path d="M311.8 590.3Q305.48 572.69 294.23 558.28Q303.91 562.79 311.82 565.3Q319.75 562.81 329.43 558.32Q318.15 572.71 311.8 590.3z" fill="#1c181c"/>
<path d="M1530.7 488.3L1468.35 571.96" stroke="#1c181c" stroke-width="3.6" fill="none"/>
<path d="M1454.6 590.4Q1460.04 572.5 1459.61 554.22Q1464.68 563.62 1469.54 570.36Q1477.38 573.08 1487.83 575.26Q1470.2 580.08 1454.6 590.4z" fill="#1c181c"/>
<path d="M1658.2 488.3L1671.11 567.7" stroke="#1c181c" stroke-width="3.6" fill="none"/>
<path d="M1674.8 590.4Q1665.72 574.04 1652.29 561.64Q1662.57 564.53 1670.79 565.72Q1678.2 561.99 1687.04 555.99Q1678.23 572.01 1674.8 590.4z" fill="#1c181c"/>
<path d="M1774.3 488L1896.07 576.21" stroke="#1c181c" stroke-width="3.6" fill="none"/>
<path d="M1914.7 589.7Q1896.73 584.51 1878.46 585.18Q1887.78 579.98 1894.45 575.03Q1897.08 567.15 1899.11 556.67Q1904.16 574.24 1914.7 589.7z" fill="#1c181c"/>
<path d="M1930.5 488L2166.16 585.78" stroke="#1c181c" stroke-width="3.6" fill="none"/>
<path d="M2187.4 594.6Q2168.72 593.71 2151.1 598.59Q2158.96 591.38 2164.31 585.02Q2165.04 576.75 2164.59 566.08Q2173.57 582 2187.4 594.6z" fill="#1c181c"/>
</g>
<g id="band-labels" font-size="39.3" fill="#1c181c" stroke="#1c181c" stroke-width="0.3">
<text x="219.6" y="909.5">lower alpha</text>
<text x="1375" y="909.5">theta</text>
<text x="1644" y="909.5">alpha</text>
<text x="1925" y="909.5">beta1</text>
<text x="2191" y="909.5">beta2</text>
</g>
</svg></body></html>
